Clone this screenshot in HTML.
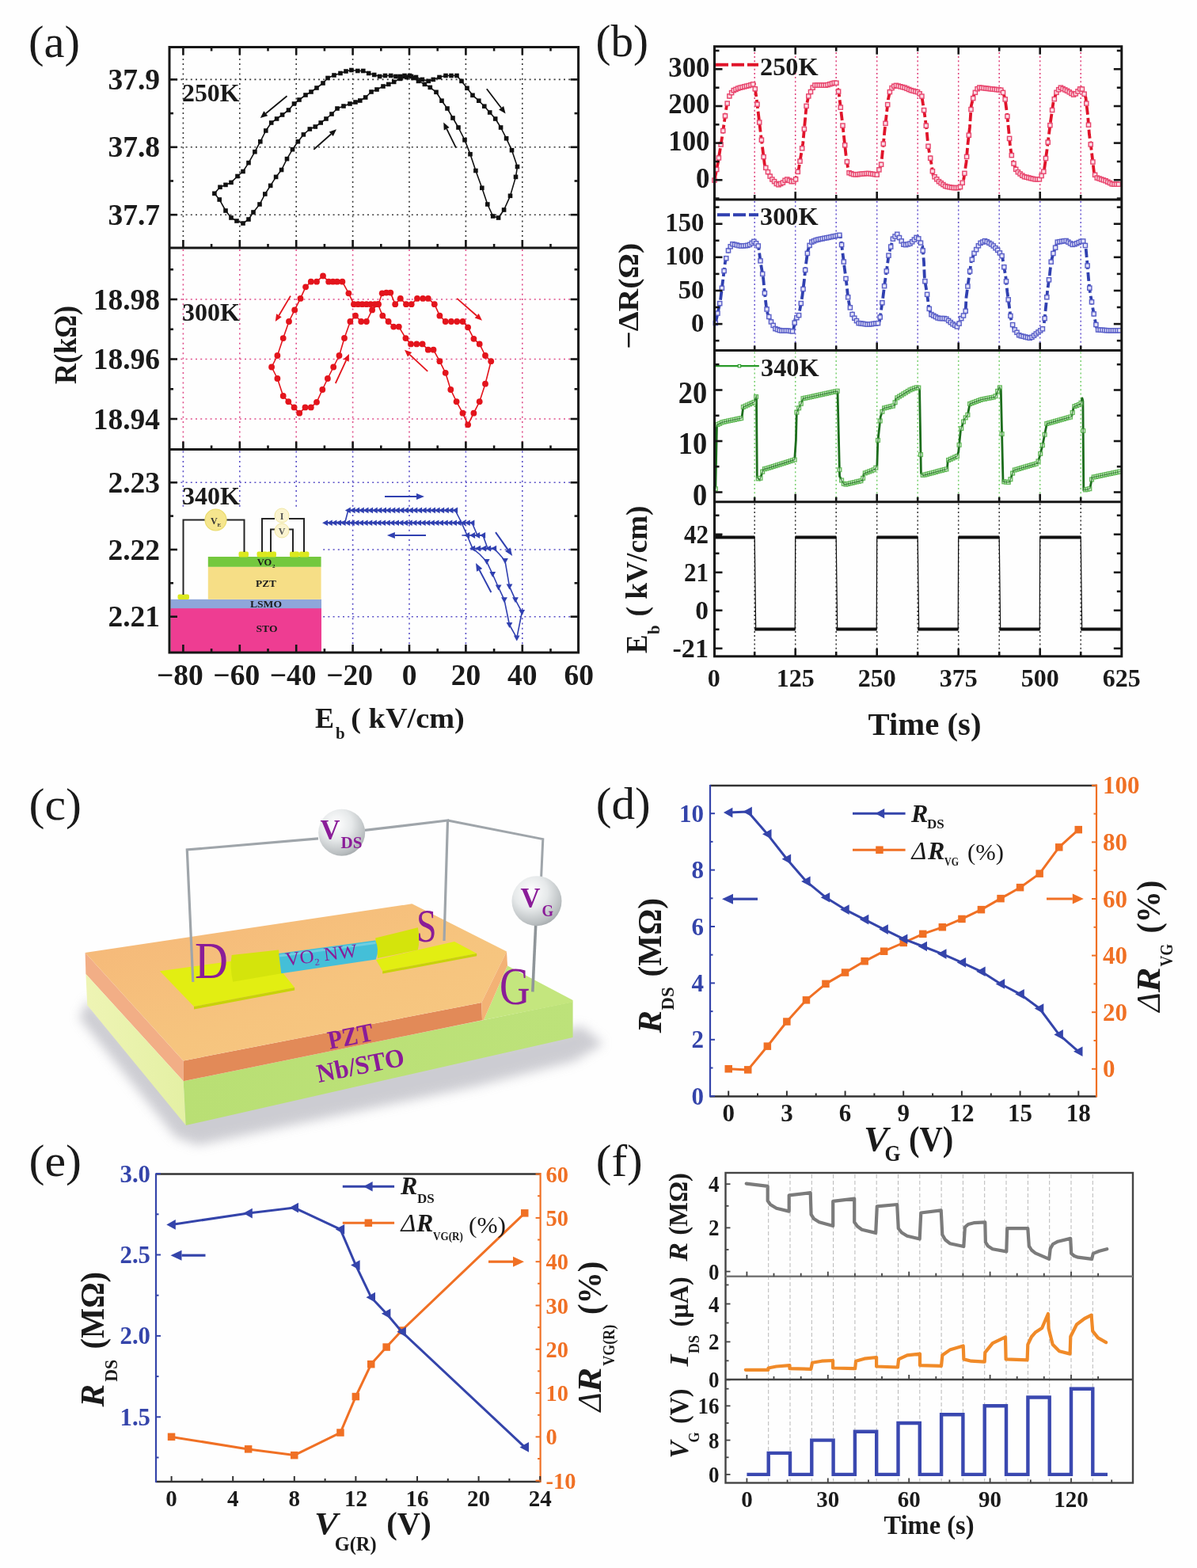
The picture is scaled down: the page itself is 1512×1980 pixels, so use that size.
<!DOCTYPE html>
<html><head><meta charset="utf-8"><title>Figure</title>
<style>html,body{margin:0;padding:0;background:#fff;} svg{display:block;} text{font-family:'Liberation Serif', 'Times New Roman', serif;}</style>
</head><body>
<svg xmlns="http://www.w3.org/2000/svg" width="1512" height="1980" viewBox="0 0 1512 1980">
<rect width="1512" height="1980" fill="#fefefe"/>
<line x1="231.4" y1="61.5" x2="231.4" y2="311" stroke="#3a3a3a" stroke-width="1.6" stroke-linecap="butt" stroke-dasharray="2 4.2" />
<line x1="302.8" y1="61.5" x2="302.8" y2="311" stroke="#3a3a3a" stroke-width="1.6" stroke-linecap="butt" stroke-dasharray="2 4.2" />
<line x1="374.2" y1="61.5" x2="374.2" y2="311" stroke="#3a3a3a" stroke-width="1.6" stroke-linecap="butt" stroke-dasharray="2 4.2" />
<line x1="445.6" y1="61.5" x2="445.6" y2="311" stroke="#3a3a3a" stroke-width="1.6" stroke-linecap="butt" stroke-dasharray="2 4.2" />
<line x1="517" y1="61.5" x2="517" y2="311" stroke="#3a3a3a" stroke-width="1.6" stroke-linecap="butt" stroke-dasharray="2 4.2" />
<line x1="588.4" y1="61.5" x2="588.4" y2="311" stroke="#3a3a3a" stroke-width="1.6" stroke-linecap="butt" stroke-dasharray="2 4.2" />
<line x1="659.8" y1="61.5" x2="659.8" y2="311" stroke="#3a3a3a" stroke-width="1.6" stroke-linecap="butt" stroke-dasharray="2 4.2" />
<line x1="216" y1="100.4" x2="728.6" y2="100.4" stroke="#3a3a3a" stroke-width="1.6" stroke-linecap="butt" stroke-dasharray="2 4.2" />
<line x1="216" y1="185.8" x2="728.6" y2="185.8" stroke="#3a3a3a" stroke-width="1.6" stroke-linecap="butt" stroke-dasharray="2 4.2" />
<line x1="216" y1="271.2" x2="728.6" y2="271.2" stroke="#3a3a3a" stroke-width="1.6" stroke-linecap="butt" stroke-dasharray="2 4.2" />
<line x1="231.4" y1="315" x2="231.4" y2="565.5" stroke="#e0508c" stroke-width="1.6" stroke-linecap="butt" stroke-dasharray="2 4.2" />
<line x1="302.8" y1="315" x2="302.8" y2="565.5" stroke="#e0508c" stroke-width="1.6" stroke-linecap="butt" stroke-dasharray="2 4.2" />
<line x1="374.2" y1="315" x2="374.2" y2="565.5" stroke="#e0508c" stroke-width="1.6" stroke-linecap="butt" stroke-dasharray="2 4.2" />
<line x1="445.6" y1="315" x2="445.6" y2="565.5" stroke="#e0508c" stroke-width="1.6" stroke-linecap="butt" stroke-dasharray="2 4.2" />
<line x1="517" y1="315" x2="517" y2="565.5" stroke="#e0508c" stroke-width="1.6" stroke-linecap="butt" stroke-dasharray="2 4.2" />
<line x1="588.4" y1="315" x2="588.4" y2="565.5" stroke="#e0508c" stroke-width="1.6" stroke-linecap="butt" stroke-dasharray="2 4.2" />
<line x1="659.8" y1="315" x2="659.8" y2="565.5" stroke="#e0508c" stroke-width="1.6" stroke-linecap="butt" stroke-dasharray="2 4.2" />
<line x1="216" y1="378" x2="728.6" y2="378" stroke="#e0508c" stroke-width="1.6" stroke-linecap="butt" stroke-dasharray="2 4.2" />
<line x1="216" y1="453.5" x2="728.6" y2="453.5" stroke="#e0508c" stroke-width="1.6" stroke-linecap="butt" stroke-dasharray="2 4.2" />
<line x1="216" y1="529" x2="728.6" y2="529" stroke="#e0508c" stroke-width="1.6" stroke-linecap="butt" stroke-dasharray="2 4.2" />
<line x1="231.4" y1="569.5" x2="231.4" y2="822" stroke="#5a50c8" stroke-width="1.6" stroke-linecap="butt" stroke-dasharray="2 4.2" />
<line x1="302.8" y1="569.5" x2="302.8" y2="822" stroke="#5a50c8" stroke-width="1.6" stroke-linecap="butt" stroke-dasharray="2 4.2" />
<line x1="374.2" y1="569.5" x2="374.2" y2="822" stroke="#5a50c8" stroke-width="1.6" stroke-linecap="butt" stroke-dasharray="2 4.2" />
<line x1="445.6" y1="569.5" x2="445.6" y2="822" stroke="#5a50c8" stroke-width="1.6" stroke-linecap="butt" stroke-dasharray="2 4.2" />
<line x1="517" y1="569.5" x2="517" y2="822" stroke="#5a50c8" stroke-width="1.6" stroke-linecap="butt" stroke-dasharray="2 4.2" />
<line x1="588.4" y1="569.5" x2="588.4" y2="822" stroke="#5a50c8" stroke-width="1.6" stroke-linecap="butt" stroke-dasharray="2 4.2" />
<line x1="659.8" y1="569.5" x2="659.8" y2="822" stroke="#5a50c8" stroke-width="1.6" stroke-linecap="butt" stroke-dasharray="2 4.2" />
<line x1="216" y1="609.3" x2="728.6" y2="609.3" stroke="#5a50c8" stroke-width="1.6" stroke-linecap="butt" stroke-dasharray="2 4.2" />
<line x1="216" y1="694" x2="728.6" y2="694" stroke="#5a50c8" stroke-width="1.6" stroke-linecap="butt" stroke-dasharray="2 4.2" />
<line x1="216" y1="778.7" x2="728.6" y2="778.7" stroke="#5a50c8" stroke-width="1.6" stroke-linecap="butt" stroke-dasharray="2 4.2" />
<rect x="215.5" y="640" width="190.5" height="183" fill="#fefefe" stroke="none" stroke-width="0" />
<rect x="215.5" y="768" width="190.5" height="55" fill="#ee3d92" stroke="none" stroke-width="0" />
<rect x="215.5" y="756.8" width="190.5" height="11.4" fill="#8ea6da" stroke="none" stroke-width="0" />
<rect x="262.8" y="715.8" width="142.8" height="41" fill="#f6de86" stroke="none" stroke-width="0" />
<rect x="262.8" y="703" width="142.8" height="12.8" fill="#74c83e" stroke="none" stroke-width="0" />
<rect x="301.5" y="696.5" width="12.5" height="7" fill="#dbe81e" stroke="none" stroke-width="0" rx="2"/>
<rect x="324.5" y="696.5" width="13.5" height="7" fill="#dbe81e" stroke="none" stroke-width="0" rx="2"/>
<rect x="337" y="696.5" width="12" height="7" fill="#dbe81e" stroke="none" stroke-width="0" rx="2"/>
<rect x="366" y="696.5" width="12" height="7" fill="#dbe81e" stroke="none" stroke-width="0" rx="2"/>
<rect x="378" y="696.5" width="12.5" height="7" fill="#dbe81e" stroke="none" stroke-width="0" rx="2"/>
<rect x="224.5" y="750.5" width="14.5" height="6.5" fill="#dbe81e" stroke="none" stroke-width="0" rx="2"/>
<polyline points="231.5,751 231.5,656.5 259,656.5" fill="none" stroke="#262626" stroke-width="2" stroke-linejoin="miter" stroke-linecap="butt" />
<polyline points="286,656.5 308.5,656.5 308.5,697" fill="none" stroke="#262626" stroke-width="2" stroke-linejoin="miter" stroke-linecap="butt" />
<polyline points="331,697 331,655 347,655" fill="none" stroke="#262626" stroke-width="2" stroke-linejoin="miter" stroke-linecap="butt" />
<polyline points="365,655 384,655 384,697" fill="none" stroke="#262626" stroke-width="2" stroke-linejoin="miter" stroke-linecap="butt" />
<polyline points="342,697 342,668.5 348,668.5" fill="none" stroke="#262626" stroke-width="2" stroke-linejoin="miter" stroke-linecap="butt" />
<polyline points="364,668.5 370,668.5 370,697" fill="none" stroke="#262626" stroke-width="2" stroke-linejoin="miter" stroke-linecap="butt" />
<circle cx="272.5" cy="656.5" r="13.5" fill="#f6e68e" stroke="#eadc70" stroke-width="1.2" />
<text x="266" y="662" font-size="12" font-weight="bold" font-style="normal" fill="#333" text-anchor="start" >V</text>
<text x="274.5" y="665" font-size="7" font-weight="bold" font-style="normal" fill="#333" text-anchor="start" >E</text>
<circle cx="356" cy="651" r="9" fill="#fbf4d0" stroke="#f0e6a0" stroke-width="1" />
<text x="356" y="656" font-size="12" font-weight="bold" font-style="normal" fill="#555" text-anchor="middle" >I</text>
<circle cx="356" cy="670" r="9" fill="#fbf4d0" stroke="#f0e6a0" stroke-width="1" />
<text x="356" y="675" font-size="12" font-weight="bold" font-style="normal" fill="#555" text-anchor="middle" >V</text>
<text x="334" y="714" font-size="12.5" font-weight="bold" font-style="normal" fill="#1a1a1a" text-anchor="middle" >VO</text>
<text x="344" y="716.5" font-size="7" font-weight="bold" font-style="normal" fill="#1a1a1a" text-anchor="start" >2</text>
<text x="336" y="741" font-size="12.5" font-weight="bold" font-style="normal" fill="#1a1a1a" text-anchor="middle" textLength="26" lengthAdjust="spacingAndGlyphs" >PZT</text>
<text x="336" y="767" font-size="12.5" font-weight="bold" font-style="normal" fill="#1a1a1a" text-anchor="middle" textLength="40" lengthAdjust="spacingAndGlyphs" >LSMO</text>
<text x="337" y="798" font-size="12.5" font-weight="bold" font-style="normal" fill="#1a1a1a" text-anchor="middle" textLength="27" lengthAdjust="spacingAndGlyphs" >STO</text>
<rect x="214" y="59.5" width="516.6" height="764.5" fill="none" stroke="#161616" stroke-width="3" />
<line x1="214" y1="313" x2="730.6" y2="313" stroke="#161616" stroke-width="3" stroke-linecap="butt" />
<line x1="214" y1="567.5" x2="730.6" y2="567.5" stroke="#161616" stroke-width="3" stroke-linecap="butt" />
<line x1="231.4" y1="59.5" x2="231.4" y2="69.5" stroke="#161616" stroke-width="2.6" stroke-linecap="butt" />
<line x1="231.4" y1="313" x2="231.4" y2="303" stroke="#161616" stroke-width="2.6" stroke-linecap="butt" />
<line x1="267.1" y1="59.5" x2="267.1" y2="64.5" stroke="#161616" stroke-width="2.6" stroke-linecap="butt" />
<line x1="267.1" y1="313" x2="267.1" y2="308" stroke="#161616" stroke-width="2.6" stroke-linecap="butt" />
<line x1="302.8" y1="59.5" x2="302.8" y2="69.5" stroke="#161616" stroke-width="2.6" stroke-linecap="butt" />
<line x1="302.8" y1="313" x2="302.8" y2="303" stroke="#161616" stroke-width="2.6" stroke-linecap="butt" />
<line x1="338.5" y1="59.5" x2="338.5" y2="64.5" stroke="#161616" stroke-width="2.6" stroke-linecap="butt" />
<line x1="338.5" y1="313" x2="338.5" y2="308" stroke="#161616" stroke-width="2.6" stroke-linecap="butt" />
<line x1="374.2" y1="59.5" x2="374.2" y2="69.5" stroke="#161616" stroke-width="2.6" stroke-linecap="butt" />
<line x1="374.2" y1="313" x2="374.2" y2="303" stroke="#161616" stroke-width="2.6" stroke-linecap="butt" />
<line x1="409.9" y1="59.5" x2="409.9" y2="64.5" stroke="#161616" stroke-width="2.6" stroke-linecap="butt" />
<line x1="409.9" y1="313" x2="409.9" y2="308" stroke="#161616" stroke-width="2.6" stroke-linecap="butt" />
<line x1="445.6" y1="59.5" x2="445.6" y2="69.5" stroke="#161616" stroke-width="2.6" stroke-linecap="butt" />
<line x1="445.6" y1="313" x2="445.6" y2="303" stroke="#161616" stroke-width="2.6" stroke-linecap="butt" />
<line x1="481.3" y1="59.5" x2="481.3" y2="64.5" stroke="#161616" stroke-width="2.6" stroke-linecap="butt" />
<line x1="481.3" y1="313" x2="481.3" y2="308" stroke="#161616" stroke-width="2.6" stroke-linecap="butt" />
<line x1="517" y1="59.5" x2="517" y2="69.5" stroke="#161616" stroke-width="2.6" stroke-linecap="butt" />
<line x1="517" y1="313" x2="517" y2="303" stroke="#161616" stroke-width="2.6" stroke-linecap="butt" />
<line x1="552.7" y1="59.5" x2="552.7" y2="64.5" stroke="#161616" stroke-width="2.6" stroke-linecap="butt" />
<line x1="552.7" y1="313" x2="552.7" y2="308" stroke="#161616" stroke-width="2.6" stroke-linecap="butt" />
<line x1="588.4" y1="59.5" x2="588.4" y2="69.5" stroke="#161616" stroke-width="2.6" stroke-linecap="butt" />
<line x1="588.4" y1="313" x2="588.4" y2="303" stroke="#161616" stroke-width="2.6" stroke-linecap="butt" />
<line x1="624.1" y1="59.5" x2="624.1" y2="64.5" stroke="#161616" stroke-width="2.6" stroke-linecap="butt" />
<line x1="624.1" y1="313" x2="624.1" y2="308" stroke="#161616" stroke-width="2.6" stroke-linecap="butt" />
<line x1="659.8" y1="59.5" x2="659.8" y2="69.5" stroke="#161616" stroke-width="2.6" stroke-linecap="butt" />
<line x1="659.8" y1="313" x2="659.8" y2="303" stroke="#161616" stroke-width="2.6" stroke-linecap="butt" />
<line x1="695.5" y1="59.5" x2="695.5" y2="64.5" stroke="#161616" stroke-width="2.6" stroke-linecap="butt" />
<line x1="695.5" y1="313" x2="695.5" y2="308" stroke="#161616" stroke-width="2.6" stroke-linecap="butt" />
<line x1="231.4" y1="567.5" x2="231.4" y2="557.5" stroke="#161616" stroke-width="2.6" stroke-linecap="butt" />
<line x1="267.1" y1="567.5" x2="267.1" y2="562.5" stroke="#161616" stroke-width="2.6" stroke-linecap="butt" />
<line x1="302.8" y1="567.5" x2="302.8" y2="557.5" stroke="#161616" stroke-width="2.6" stroke-linecap="butt" />
<line x1="338.5" y1="567.5" x2="338.5" y2="562.5" stroke="#161616" stroke-width="2.6" stroke-linecap="butt" />
<line x1="374.2" y1="567.5" x2="374.2" y2="557.5" stroke="#161616" stroke-width="2.6" stroke-linecap="butt" />
<line x1="409.9" y1="567.5" x2="409.9" y2="562.5" stroke="#161616" stroke-width="2.6" stroke-linecap="butt" />
<line x1="445.6" y1="567.5" x2="445.6" y2="557.5" stroke="#161616" stroke-width="2.6" stroke-linecap="butt" />
<line x1="481.3" y1="567.5" x2="481.3" y2="562.5" stroke="#161616" stroke-width="2.6" stroke-linecap="butt" />
<line x1="517" y1="567.5" x2="517" y2="557.5" stroke="#161616" stroke-width="2.6" stroke-linecap="butt" />
<line x1="552.7" y1="567.5" x2="552.7" y2="562.5" stroke="#161616" stroke-width="2.6" stroke-linecap="butt" />
<line x1="588.4" y1="567.5" x2="588.4" y2="557.5" stroke="#161616" stroke-width="2.6" stroke-linecap="butt" />
<line x1="624.1" y1="567.5" x2="624.1" y2="562.5" stroke="#161616" stroke-width="2.6" stroke-linecap="butt" />
<line x1="659.8" y1="567.5" x2="659.8" y2="557.5" stroke="#161616" stroke-width="2.6" stroke-linecap="butt" />
<line x1="695.5" y1="567.5" x2="695.5" y2="562.5" stroke="#161616" stroke-width="2.6" stroke-linecap="butt" />
<line x1="231.4" y1="824" x2="231.4" y2="814" stroke="#161616" stroke-width="2.6" stroke-linecap="butt" />
<line x1="267.1" y1="824" x2="267.1" y2="819" stroke="#161616" stroke-width="2.6" stroke-linecap="butt" />
<line x1="302.8" y1="824" x2="302.8" y2="814" stroke="#161616" stroke-width="2.6" stroke-linecap="butt" />
<line x1="338.5" y1="824" x2="338.5" y2="819" stroke="#161616" stroke-width="2.6" stroke-linecap="butt" />
<line x1="374.2" y1="824" x2="374.2" y2="814" stroke="#161616" stroke-width="2.6" stroke-linecap="butt" />
<line x1="409.9" y1="824" x2="409.9" y2="819" stroke="#161616" stroke-width="2.6" stroke-linecap="butt" />
<line x1="445.6" y1="824" x2="445.6" y2="814" stroke="#161616" stroke-width="2.6" stroke-linecap="butt" />
<line x1="481.3" y1="824" x2="481.3" y2="819" stroke="#161616" stroke-width="2.6" stroke-linecap="butt" />
<line x1="517" y1="824" x2="517" y2="814" stroke="#161616" stroke-width="2.6" stroke-linecap="butt" />
<line x1="552.7" y1="824" x2="552.7" y2="819" stroke="#161616" stroke-width="2.6" stroke-linecap="butt" />
<line x1="588.4" y1="824" x2="588.4" y2="814" stroke="#161616" stroke-width="2.6" stroke-linecap="butt" />
<line x1="624.1" y1="824" x2="624.1" y2="819" stroke="#161616" stroke-width="2.6" stroke-linecap="butt" />
<line x1="659.8" y1="824" x2="659.8" y2="814" stroke="#161616" stroke-width="2.6" stroke-linecap="butt" />
<line x1="695.5" y1="824" x2="695.5" y2="819" stroke="#161616" stroke-width="2.6" stroke-linecap="butt" />
<line x1="214" y1="100.4" x2="224" y2="100.4" stroke="#161616" stroke-width="2.6" stroke-linecap="butt" />
<line x1="730.6" y1="100.4" x2="720.6" y2="100.4" stroke="#161616" stroke-width="2.6" stroke-linecap="butt" />
<line x1="214" y1="185.8" x2="224" y2="185.8" stroke="#161616" stroke-width="2.6" stroke-linecap="butt" />
<line x1="730.6" y1="185.8" x2="720.6" y2="185.8" stroke="#161616" stroke-width="2.6" stroke-linecap="butt" />
<line x1="214" y1="271.2" x2="224" y2="271.2" stroke="#161616" stroke-width="2.6" stroke-linecap="butt" />
<line x1="730.6" y1="271.2" x2="720.6" y2="271.2" stroke="#161616" stroke-width="2.6" stroke-linecap="butt" />
<line x1="214" y1="143.1" x2="219" y2="143.1" stroke="#161616" stroke-width="2.6" stroke-linecap="butt" />
<line x1="730.6" y1="143.1" x2="725.6" y2="143.1" stroke="#161616" stroke-width="2.6" stroke-linecap="butt" />
<line x1="214" y1="228.5" x2="219" y2="228.5" stroke="#161616" stroke-width="2.6" stroke-linecap="butt" />
<line x1="730.6" y1="228.5" x2="725.6" y2="228.5" stroke="#161616" stroke-width="2.6" stroke-linecap="butt" />
<line x1="214" y1="378" x2="224" y2="378" stroke="#161616" stroke-width="2.6" stroke-linecap="butt" />
<line x1="730.6" y1="378" x2="720.6" y2="378" stroke="#161616" stroke-width="2.6" stroke-linecap="butt" />
<line x1="214" y1="453.5" x2="224" y2="453.5" stroke="#161616" stroke-width="2.6" stroke-linecap="butt" />
<line x1="730.6" y1="453.5" x2="720.6" y2="453.5" stroke="#161616" stroke-width="2.6" stroke-linecap="butt" />
<line x1="214" y1="529" x2="224" y2="529" stroke="#161616" stroke-width="2.6" stroke-linecap="butt" />
<line x1="730.6" y1="529" x2="720.6" y2="529" stroke="#161616" stroke-width="2.6" stroke-linecap="butt" />
<line x1="214" y1="340.3" x2="219" y2="340.3" stroke="#161616" stroke-width="2.6" stroke-linecap="butt" />
<line x1="730.6" y1="340.3" x2="725.6" y2="340.3" stroke="#161616" stroke-width="2.6" stroke-linecap="butt" />
<line x1="214" y1="415.8" x2="219" y2="415.8" stroke="#161616" stroke-width="2.6" stroke-linecap="butt" />
<line x1="730.6" y1="415.8" x2="725.6" y2="415.8" stroke="#161616" stroke-width="2.6" stroke-linecap="butt" />
<line x1="214" y1="491.3" x2="219" y2="491.3" stroke="#161616" stroke-width="2.6" stroke-linecap="butt" />
<line x1="730.6" y1="491.3" x2="725.6" y2="491.3" stroke="#161616" stroke-width="2.6" stroke-linecap="butt" />
<line x1="214" y1="609.3" x2="224" y2="609.3" stroke="#161616" stroke-width="2.6" stroke-linecap="butt" />
<line x1="730.6" y1="609.3" x2="720.6" y2="609.3" stroke="#161616" stroke-width="2.6" stroke-linecap="butt" />
<line x1="214" y1="694" x2="224" y2="694" stroke="#161616" stroke-width="2.6" stroke-linecap="butt" />
<line x1="730.6" y1="694" x2="720.6" y2="694" stroke="#161616" stroke-width="2.6" stroke-linecap="butt" />
<line x1="214" y1="778.7" x2="224" y2="778.7" stroke="#161616" stroke-width="2.6" stroke-linecap="butt" />
<line x1="730.6" y1="778.7" x2="720.6" y2="778.7" stroke="#161616" stroke-width="2.6" stroke-linecap="butt" />
<line x1="214" y1="651.6" x2="219" y2="651.6" stroke="#161616" stroke-width="2.6" stroke-linecap="butt" />
<line x1="730.6" y1="651.6" x2="725.6" y2="651.6" stroke="#161616" stroke-width="2.6" stroke-linecap="butt" />
<line x1="214" y1="736.3" x2="219" y2="736.3" stroke="#161616" stroke-width="2.6" stroke-linecap="butt" />
<line x1="730.6" y1="736.3" x2="725.6" y2="736.3" stroke="#161616" stroke-width="2.6" stroke-linecap="butt" />
<text x="202" y="113" font-size="37.5" font-weight="bold" font-style="normal" fill="#1a1a1a" text-anchor="end" >37.9</text>
<text x="202" y="198.4" font-size="37.5" font-weight="bold" font-style="normal" fill="#1a1a1a" text-anchor="end" >37.8</text>
<text x="202" y="283.8" font-size="37.5" font-weight="bold" font-style="normal" fill="#1a1a1a" text-anchor="end" >37.7</text>
<text x="202" y="390.6" font-size="37.5" font-weight="bold" font-style="normal" fill="#1a1a1a" text-anchor="end" >18.98</text>
<text x="202" y="466.1" font-size="37.5" font-weight="bold" font-style="normal" fill="#1a1a1a" text-anchor="end" >18.96</text>
<text x="202" y="541.6" font-size="37.5" font-weight="bold" font-style="normal" fill="#1a1a1a" text-anchor="end" >18.94</text>
<text x="202" y="621.9" font-size="37.5" font-weight="bold" font-style="normal" fill="#1a1a1a" text-anchor="end" >2.23</text>
<text x="202" y="706.6" font-size="37.5" font-weight="bold" font-style="normal" fill="#1a1a1a" text-anchor="end" >2.22</text>
<text x="202" y="791.3" font-size="37.5" font-weight="bold" font-style="normal" fill="#1a1a1a" text-anchor="end" >2.21</text>
<text x="227.4" y="865" font-size="37.5" font-weight="bold" font-style="normal" fill="#1a1a1a" text-anchor="middle" >−80</text>
<text x="298.8" y="865" font-size="37.5" font-weight="bold" font-style="normal" fill="#1a1a1a" text-anchor="middle" >−60</text>
<text x="370.2" y="865" font-size="37.5" font-weight="bold" font-style="normal" fill="#1a1a1a" text-anchor="middle" >−40</text>
<text x="441.6" y="865" font-size="37.5" font-weight="bold" font-style="normal" fill="#1a1a1a" text-anchor="middle" >−20</text>
<text x="517" y="865" font-size="37.5" font-weight="bold" font-style="normal" fill="#1a1a1a" text-anchor="middle" >0</text>
<text x="588.4" y="865" font-size="37.5" font-weight="bold" font-style="normal" fill="#1a1a1a" text-anchor="middle" >20</text>
<text x="659.8" y="865" font-size="37.5" font-weight="bold" font-style="normal" fill="#1a1a1a" text-anchor="middle" >40</text>
<text x="731.2" y="865" font-size="37.5" font-weight="bold" font-style="normal" fill="#1a1a1a" text-anchor="middle" >60</text>
<text x="96.3" y="435.4" font-size="39.5" font-weight="bold" font-style="normal" fill="#1a1a1a" text-anchor="middle" textLength="99" lengthAdjust="spacingAndGlyphs" transform="rotate(-90 96.3 435.4)" >R(kΩ)</text>
<text x="398" y="918.5" font-size="36" font-weight="bold" font-style="normal" fill="#1a1a1a" text-anchor="start" >E</text>
<text x="424" y="933" font-size="21" font-weight="bold" font-style="normal" fill="#1a1a1a" text-anchor="start" >b</text>
<text x="443.3" y="918.5" font-size="36" font-weight="bold" font-style="normal" fill="#1a1a1a" text-anchor="start" textLength="143.5" lengthAdjust="spacingAndGlyphs" >( kV/cm)</text>
<text x="36" y="71.5" font-size="56" font-weight="normal" font-style="normal" fill="#1a1a1a" text-anchor="start" textLength="65" lengthAdjust="spacingAndGlyphs" >(a)</text>
<text x="230" y="128" font-size="32" font-weight="bold" font-style="normal" fill="#1a1a1a" text-anchor="start" textLength="72.5" lengthAdjust="spacingAndGlyphs" >250K</text>
<text x="230" y="405" font-size="32" font-weight="bold" font-style="normal" fill="#1a1a1a" text-anchor="start" textLength="73" lengthAdjust="spacingAndGlyphs" >300K</text>
<text x="230" y="637" font-size="32" font-weight="bold" font-style="normal" fill="#1a1a1a" text-anchor="start" textLength="73" lengthAdjust="spacingAndGlyphs" >340K</text>
<polyline points="270.9,244.3 278,236.3 285,233.4 292,230.4 300,222.5 307,216.5 314,205.6 321.9,191.7 328.8,178.8 335.8,165 342.7,155 349.6,150 356.6,145 364.5,139 371.5,131 378,126 386,120 393,116 400,111 408,105 414,98.5 422,95 430,92.5 437,90 443.9,88.5 451.8,89.5 458.8,89.5 465.7,92.5 472.7,94.5 479.6,96.5 486.5,95.5 493.7,95.5 500,96.5 505.6,96.5 511,95.5 517.5,95.5 522,98.5 528.5,102.4 536.4,106.4 543.3,110.4 551,116.3 558,127.2 565,137 572,149 579,161 587,176.8 594,194.7 600.9,215.5 608.8,237.3 615.8,258 622.7,273 629.6,275 636.6,265 644.5,247.3 651.5,223.4 653.5,210.5 646.5,189.7 639.6,174.8 632.6,161 625.7,150 618.7,142 611.8,134.2 604.8,127.2 597,120.3 590,111.3 583,102.4 577,95.5 570,95.5 563,95.5 555,97.5 547.3,100.4 541.3,102.4 533.4,100.4 525.5,97.5 519.5,96.5 513.6,97.5 505.6,99.4 497.7,103.4 490.8,106.4 484,109 476,113 469,116 461.7,123 454.8,127 449,129 442,131 434,134 426,137 419,144 412,150 405.2,155 398.3,160 391.3,163 383.4,169.9 376.4,178.8 369.5,188.7 362.5,200.6 355.6,214.5 348.6,223.4 341.7,234.4 334.8,245 328,258 320,268 314,277 307,282 299,279 292,275 285,266 277.2,252 270.9,244.3" fill="none" stroke="#111" stroke-width="1.6" stroke-linejoin="round" stroke-linecap="round" />
<rect x="268.1" y="241.5" width="5.6" height="5.6" fill="#111" stroke="none" stroke-width="0" />
<rect x="275.2" y="233.5" width="5.6" height="5.6" fill="#111" stroke="none" stroke-width="0" />
<rect x="282.2" y="230.6" width="5.6" height="5.6" fill="#111" stroke="none" stroke-width="0" />
<rect x="289.2" y="227.6" width="5.6" height="5.6" fill="#111" stroke="none" stroke-width="0" />
<rect x="297.2" y="219.7" width="5.6" height="5.6" fill="#111" stroke="none" stroke-width="0" />
<rect x="304.2" y="213.7" width="5.6" height="5.6" fill="#111" stroke="none" stroke-width="0" />
<rect x="311.2" y="202.8" width="5.6" height="5.6" fill="#111" stroke="none" stroke-width="0" />
<rect x="319.1" y="188.9" width="5.6" height="5.6" fill="#111" stroke="none" stroke-width="0" />
<rect x="326" y="176" width="5.6" height="5.6" fill="#111" stroke="none" stroke-width="0" />
<rect x="333" y="162.2" width="5.6" height="5.6" fill="#111" stroke="none" stroke-width="0" />
<rect x="339.9" y="152.2" width="5.6" height="5.6" fill="#111" stroke="none" stroke-width="0" />
<rect x="346.8" y="147.2" width="5.6" height="5.6" fill="#111" stroke="none" stroke-width="0" />
<rect x="353.8" y="142.2" width="5.6" height="5.6" fill="#111" stroke="none" stroke-width="0" />
<rect x="361.7" y="136.2" width="5.6" height="5.6" fill="#111" stroke="none" stroke-width="0" />
<rect x="368.7" y="128.2" width="5.6" height="5.6" fill="#111" stroke="none" stroke-width="0" />
<rect x="375.2" y="123.2" width="5.6" height="5.6" fill="#111" stroke="none" stroke-width="0" />
<rect x="383.2" y="117.2" width="5.6" height="5.6" fill="#111" stroke="none" stroke-width="0" />
<rect x="390.2" y="113.2" width="5.6" height="5.6" fill="#111" stroke="none" stroke-width="0" />
<rect x="397.2" y="108.2" width="5.6" height="5.6" fill="#111" stroke="none" stroke-width="0" />
<rect x="405.2" y="102.2" width="5.6" height="5.6" fill="#111" stroke="none" stroke-width="0" />
<rect x="411.2" y="95.7" width="5.6" height="5.6" fill="#111" stroke="none" stroke-width="0" />
<rect x="419.2" y="92.2" width="5.6" height="5.6" fill="#111" stroke="none" stroke-width="0" />
<rect x="427.2" y="89.7" width="5.6" height="5.6" fill="#111" stroke="none" stroke-width="0" />
<rect x="434.2" y="87.2" width="5.6" height="5.6" fill="#111" stroke="none" stroke-width="0" />
<rect x="441.1" y="85.7" width="5.6" height="5.6" fill="#111" stroke="none" stroke-width="0" />
<rect x="449" y="86.7" width="5.6" height="5.6" fill="#111" stroke="none" stroke-width="0" />
<rect x="456" y="86.7" width="5.6" height="5.6" fill="#111" stroke="none" stroke-width="0" />
<rect x="462.9" y="89.7" width="5.6" height="5.6" fill="#111" stroke="none" stroke-width="0" />
<rect x="469.9" y="91.7" width="5.6" height="5.6" fill="#111" stroke="none" stroke-width="0" />
<rect x="476.8" y="93.7" width="5.6" height="5.6" fill="#111" stroke="none" stroke-width="0" />
<rect x="483.7" y="92.7" width="5.6" height="5.6" fill="#111" stroke="none" stroke-width="0" />
<rect x="490.9" y="92.7" width="5.6" height="5.6" fill="#111" stroke="none" stroke-width="0" />
<rect x="497.2" y="93.7" width="5.6" height="5.6" fill="#111" stroke="none" stroke-width="0" />
<rect x="502.8" y="93.7" width="5.6" height="5.6" fill="#111" stroke="none" stroke-width="0" />
<rect x="508.2" y="92.7" width="5.6" height="5.6" fill="#111" stroke="none" stroke-width="0" />
<rect x="514.7" y="92.7" width="5.6" height="5.6" fill="#111" stroke="none" stroke-width="0" />
<rect x="519.2" y="95.7" width="5.6" height="5.6" fill="#111" stroke="none" stroke-width="0" />
<rect x="525.7" y="99.6" width="5.6" height="5.6" fill="#111" stroke="none" stroke-width="0" />
<rect x="533.6" y="103.6" width="5.6" height="5.6" fill="#111" stroke="none" stroke-width="0" />
<rect x="540.5" y="107.6" width="5.6" height="5.6" fill="#111" stroke="none" stroke-width="0" />
<rect x="548.2" y="113.5" width="5.6" height="5.6" fill="#111" stroke="none" stroke-width="0" />
<rect x="555.2" y="124.4" width="5.6" height="5.6" fill="#111" stroke="none" stroke-width="0" />
<rect x="562.2" y="134.2" width="5.6" height="5.6" fill="#111" stroke="none" stroke-width="0" />
<rect x="569.2" y="146.2" width="5.6" height="5.6" fill="#111" stroke="none" stroke-width="0" />
<rect x="576.2" y="158.2" width="5.6" height="5.6" fill="#111" stroke="none" stroke-width="0" />
<rect x="584.2" y="174" width="5.6" height="5.6" fill="#111" stroke="none" stroke-width="0" />
<rect x="591.2" y="191.9" width="5.6" height="5.6" fill="#111" stroke="none" stroke-width="0" />
<rect x="598.1" y="212.7" width="5.6" height="5.6" fill="#111" stroke="none" stroke-width="0" />
<rect x="606" y="234.5" width="5.6" height="5.6" fill="#111" stroke="none" stroke-width="0" />
<rect x="613" y="255.2" width="5.6" height="5.6" fill="#111" stroke="none" stroke-width="0" />
<rect x="619.9" y="270.2" width="5.6" height="5.6" fill="#111" stroke="none" stroke-width="0" />
<rect x="626.8" y="272.2" width="5.6" height="5.6" fill="#111" stroke="none" stroke-width="0" />
<rect x="633.8" y="262.2" width="5.6" height="5.6" fill="#111" stroke="none" stroke-width="0" />
<rect x="641.7" y="244.5" width="5.6" height="5.6" fill="#111" stroke="none" stroke-width="0" />
<rect x="648.7" y="220.6" width="5.6" height="5.6" fill="#111" stroke="none" stroke-width="0" />
<rect x="650.7" y="207.7" width="5.6" height="5.6" fill="#111" stroke="none" stroke-width="0" />
<rect x="643.7" y="186.9" width="5.6" height="5.6" fill="#111" stroke="none" stroke-width="0" />
<rect x="636.8" y="172" width="5.6" height="5.6" fill="#111" stroke="none" stroke-width="0" />
<rect x="629.8" y="158.2" width="5.6" height="5.6" fill="#111" stroke="none" stroke-width="0" />
<rect x="622.9" y="147.2" width="5.6" height="5.6" fill="#111" stroke="none" stroke-width="0" />
<rect x="615.9" y="139.2" width="5.6" height="5.6" fill="#111" stroke="none" stroke-width="0" />
<rect x="609" y="131.4" width="5.6" height="5.6" fill="#111" stroke="none" stroke-width="0" />
<rect x="602" y="124.4" width="5.6" height="5.6" fill="#111" stroke="none" stroke-width="0" />
<rect x="594.2" y="117.5" width="5.6" height="5.6" fill="#111" stroke="none" stroke-width="0" />
<rect x="587.2" y="108.5" width="5.6" height="5.6" fill="#111" stroke="none" stroke-width="0" />
<rect x="580.2" y="99.6" width="5.6" height="5.6" fill="#111" stroke="none" stroke-width="0" />
<rect x="574.2" y="92.7" width="5.6" height="5.6" fill="#111" stroke="none" stroke-width="0" />
<rect x="567.2" y="92.7" width="5.6" height="5.6" fill="#111" stroke="none" stroke-width="0" />
<rect x="560.2" y="92.7" width="5.6" height="5.6" fill="#111" stroke="none" stroke-width="0" />
<rect x="552.2" y="94.7" width="5.6" height="5.6" fill="#111" stroke="none" stroke-width="0" />
<rect x="544.5" y="97.6" width="5.6" height="5.6" fill="#111" stroke="none" stroke-width="0" />
<rect x="538.5" y="99.6" width="5.6" height="5.6" fill="#111" stroke="none" stroke-width="0" />
<rect x="530.6" y="97.6" width="5.6" height="5.6" fill="#111" stroke="none" stroke-width="0" />
<rect x="522.7" y="94.7" width="5.6" height="5.6" fill="#111" stroke="none" stroke-width="0" />
<rect x="516.7" y="93.7" width="5.6" height="5.6" fill="#111" stroke="none" stroke-width="0" />
<rect x="510.8" y="94.7" width="5.6" height="5.6" fill="#111" stroke="none" stroke-width="0" />
<rect x="502.8" y="96.6" width="5.6" height="5.6" fill="#111" stroke="none" stroke-width="0" />
<rect x="494.9" y="100.6" width="5.6" height="5.6" fill="#111" stroke="none" stroke-width="0" />
<rect x="488" y="103.6" width="5.6" height="5.6" fill="#111" stroke="none" stroke-width="0" />
<rect x="481.2" y="106.2" width="5.6" height="5.6" fill="#111" stroke="none" stroke-width="0" />
<rect x="473.2" y="110.2" width="5.6" height="5.6" fill="#111" stroke="none" stroke-width="0" />
<rect x="466.2" y="113.2" width="5.6" height="5.6" fill="#111" stroke="none" stroke-width="0" />
<rect x="458.9" y="120.2" width="5.6" height="5.6" fill="#111" stroke="none" stroke-width="0" />
<rect x="452" y="124.2" width="5.6" height="5.6" fill="#111" stroke="none" stroke-width="0" />
<rect x="446.2" y="126.2" width="5.6" height="5.6" fill="#111" stroke="none" stroke-width="0" />
<rect x="439.2" y="128.2" width="5.6" height="5.6" fill="#111" stroke="none" stroke-width="0" />
<rect x="431.2" y="131.2" width="5.6" height="5.6" fill="#111" stroke="none" stroke-width="0" />
<rect x="423.2" y="134.2" width="5.6" height="5.6" fill="#111" stroke="none" stroke-width="0" />
<rect x="416.2" y="141.2" width="5.6" height="5.6" fill="#111" stroke="none" stroke-width="0" />
<rect x="409.2" y="147.2" width="5.6" height="5.6" fill="#111" stroke="none" stroke-width="0" />
<rect x="402.4" y="152.2" width="5.6" height="5.6" fill="#111" stroke="none" stroke-width="0" />
<rect x="395.5" y="157.2" width="5.6" height="5.6" fill="#111" stroke="none" stroke-width="0" />
<rect x="388.5" y="160.2" width="5.6" height="5.6" fill="#111" stroke="none" stroke-width="0" />
<rect x="380.6" y="167.1" width="5.6" height="5.6" fill="#111" stroke="none" stroke-width="0" />
<rect x="373.6" y="176" width="5.6" height="5.6" fill="#111" stroke="none" stroke-width="0" />
<rect x="366.7" y="185.9" width="5.6" height="5.6" fill="#111" stroke="none" stroke-width="0" />
<rect x="359.7" y="197.8" width="5.6" height="5.6" fill="#111" stroke="none" stroke-width="0" />
<rect x="352.8" y="211.7" width="5.6" height="5.6" fill="#111" stroke="none" stroke-width="0" />
<rect x="345.8" y="220.6" width="5.6" height="5.6" fill="#111" stroke="none" stroke-width="0" />
<rect x="338.9" y="231.6" width="5.6" height="5.6" fill="#111" stroke="none" stroke-width="0" />
<rect x="332" y="242.2" width="5.6" height="5.6" fill="#111" stroke="none" stroke-width="0" />
<rect x="325.2" y="255.2" width="5.6" height="5.6" fill="#111" stroke="none" stroke-width="0" />
<rect x="317.2" y="265.2" width="5.6" height="5.6" fill="#111" stroke="none" stroke-width="0" />
<rect x="311.2" y="274.2" width="5.6" height="5.6" fill="#111" stroke="none" stroke-width="0" />
<rect x="304.2" y="279.2" width="5.6" height="5.6" fill="#111" stroke="none" stroke-width="0" />
<rect x="296.2" y="276.2" width="5.6" height="5.6" fill="#111" stroke="none" stroke-width="0" />
<rect x="289.2" y="272.2" width="5.6" height="5.6" fill="#111" stroke="none" stroke-width="0" />
<rect x="282.2" y="263.2" width="5.6" height="5.6" fill="#111" stroke="none" stroke-width="0" />
<rect x="274.4" y="249.2" width="5.6" height="5.6" fill="#111" stroke="none" stroke-width="0" />
<line x1="362.5" y1="121.3" x2="335.8" y2="143.3" stroke="#111" stroke-width="1.8" stroke-linecap="butt" />
<polygon points="328.8,149 333.3,140.3 338.2,146.2" fill="#111" stroke="none" stroke-width="0" />
<line x1="396.3" y1="188.7" x2="418.3" y2="169.3" stroke="#111" stroke-width="1.8" stroke-linecap="butt" />
<polygon points="425,163.3 420.8,172.1 415.7,166.4" fill="#111" stroke="none" stroke-width="0" />
<line x1="614.8" y1="112.3" x2="633.1" y2="136.3" stroke="#111" stroke-width="1.8" stroke-linecap="butt" />
<polygon points="638.6,143.5 630.1,138.6 636.2,134" fill="#111" stroke="none" stroke-width="0" />
<line x1="576" y1="186.7" x2="564.2" y2="162.7" stroke="#111" stroke-width="1.8" stroke-linecap="butt" />
<polygon points="560.2,154.6 567.6,161 560.8,164.4" fill="#111" stroke="none" stroke-width="0" />
<polyline points="343.1,463.5 350.4,449 357.7,427.1 365,406 372.2,391.4 379.5,376.9 386.1,362.3 392.8,355.7 400,355.7 408,348.4 415.2,355.7 420.5,355.7 425.8,355.7 432.4,355.7 440.4,370.3 447,384.2 452.3,384.2 457.6,384.2 462.9,384.2 468.1,384.2 473.4,384.2 478,384.2 482.7,370.3 488,369.6 493.3,369.6 499.2,384.2 505.8,376.9 513,384.2 519.7,384.2 527,376.9 534.2,376.9 540.8,376.9 548.8,384.2 555.4,398.7 562.7,406 570,406 577.2,406 584.5,406 591.1,413.3 598.4,427.8 605.7,434.4 613,449 620.2,456.2 613,484.7 605.7,507.2 598.4,521.7 591.1,536.3 584.5,521.7 576.6,507.2 569.3,492 562.7,470.8 555.4,456.2 547.5,441.7 540.8,441.7 533.6,434.4 526.3,434.4 519,434.4 512.4,427.1 503.8,412.6 497.2,412.6 490.6,406 483.3,398.7 477.4,384.2 470.1,391.4 462.9,406 456.2,406 449,398.7 442.4,406 435,427 428.5,449 421.2,463.5 413.9,478 407.3,492 400,507.8 392.8,514.4 385.5,514.4 378.2,521.7 371.6,514.4 364.3,507.2 357.7,500 350.4,478 343.1,463.5" fill="none" stroke="#e3141c" stroke-width="1.6" stroke-linejoin="round" stroke-linecap="round" />
<circle cx="343.1" cy="463.5" r="3.9" fill="#e3141c" stroke="none" stroke-width="0" />
<circle cx="350.4" cy="449" r="3.9" fill="#e3141c" stroke="none" stroke-width="0" />
<circle cx="357.7" cy="427.1" r="3.9" fill="#e3141c" stroke="none" stroke-width="0" />
<circle cx="365" cy="406" r="3.9" fill="#e3141c" stroke="none" stroke-width="0" />
<circle cx="372.2" cy="391.4" r="3.9" fill="#e3141c" stroke="none" stroke-width="0" />
<circle cx="379.5" cy="376.9" r="3.9" fill="#e3141c" stroke="none" stroke-width="0" />
<circle cx="386.1" cy="362.3" r="3.9" fill="#e3141c" stroke="none" stroke-width="0" />
<circle cx="392.8" cy="355.7" r="3.9" fill="#e3141c" stroke="none" stroke-width="0" />
<circle cx="400" cy="355.7" r="3.9" fill="#e3141c" stroke="none" stroke-width="0" />
<circle cx="408" cy="348.4" r="3.9" fill="#e3141c" stroke="none" stroke-width="0" />
<circle cx="415.2" cy="355.7" r="3.9" fill="#e3141c" stroke="none" stroke-width="0" />
<circle cx="420.5" cy="355.7" r="3.9" fill="#e3141c" stroke="none" stroke-width="0" />
<circle cx="425.8" cy="355.7" r="3.9" fill="#e3141c" stroke="none" stroke-width="0" />
<circle cx="432.4" cy="355.7" r="3.9" fill="#e3141c" stroke="none" stroke-width="0" />
<circle cx="440.4" cy="370.3" r="3.9" fill="#e3141c" stroke="none" stroke-width="0" />
<circle cx="447" cy="384.2" r="3.9" fill="#e3141c" stroke="none" stroke-width="0" />
<circle cx="452.3" cy="384.2" r="3.9" fill="#e3141c" stroke="none" stroke-width="0" />
<circle cx="457.6" cy="384.2" r="3.9" fill="#e3141c" stroke="none" stroke-width="0" />
<circle cx="462.9" cy="384.2" r="3.9" fill="#e3141c" stroke="none" stroke-width="0" />
<circle cx="468.1" cy="384.2" r="3.9" fill="#e3141c" stroke="none" stroke-width="0" />
<circle cx="473.4" cy="384.2" r="3.9" fill="#e3141c" stroke="none" stroke-width="0" />
<circle cx="478" cy="384.2" r="3.9" fill="#e3141c" stroke="none" stroke-width="0" />
<circle cx="482.7" cy="370.3" r="3.9" fill="#e3141c" stroke="none" stroke-width="0" />
<circle cx="488" cy="369.6" r="3.9" fill="#e3141c" stroke="none" stroke-width="0" />
<circle cx="493.3" cy="369.6" r="3.9" fill="#e3141c" stroke="none" stroke-width="0" />
<circle cx="499.2" cy="384.2" r="3.9" fill="#e3141c" stroke="none" stroke-width="0" />
<circle cx="505.8" cy="376.9" r="3.9" fill="#e3141c" stroke="none" stroke-width="0" />
<circle cx="513" cy="384.2" r="3.9" fill="#e3141c" stroke="none" stroke-width="0" />
<circle cx="519.7" cy="384.2" r="3.9" fill="#e3141c" stroke="none" stroke-width="0" />
<circle cx="527" cy="376.9" r="3.9" fill="#e3141c" stroke="none" stroke-width="0" />
<circle cx="534.2" cy="376.9" r="3.9" fill="#e3141c" stroke="none" stroke-width="0" />
<circle cx="540.8" cy="376.9" r="3.9" fill="#e3141c" stroke="none" stroke-width="0" />
<circle cx="548.8" cy="384.2" r="3.9" fill="#e3141c" stroke="none" stroke-width="0" />
<circle cx="555.4" cy="398.7" r="3.9" fill="#e3141c" stroke="none" stroke-width="0" />
<circle cx="562.7" cy="406" r="3.9" fill="#e3141c" stroke="none" stroke-width="0" />
<circle cx="570" cy="406" r="3.9" fill="#e3141c" stroke="none" stroke-width="0" />
<circle cx="577.2" cy="406" r="3.9" fill="#e3141c" stroke="none" stroke-width="0" />
<circle cx="584.5" cy="406" r="3.9" fill="#e3141c" stroke="none" stroke-width="0" />
<circle cx="591.1" cy="413.3" r="3.9" fill="#e3141c" stroke="none" stroke-width="0" />
<circle cx="598.4" cy="427.8" r="3.9" fill="#e3141c" stroke="none" stroke-width="0" />
<circle cx="605.7" cy="434.4" r="3.9" fill="#e3141c" stroke="none" stroke-width="0" />
<circle cx="613" cy="449" r="3.9" fill="#e3141c" stroke="none" stroke-width="0" />
<circle cx="620.2" cy="456.2" r="3.9" fill="#e3141c" stroke="none" stroke-width="0" />
<circle cx="613" cy="484.7" r="3.9" fill="#e3141c" stroke="none" stroke-width="0" />
<circle cx="605.7" cy="507.2" r="3.9" fill="#e3141c" stroke="none" stroke-width="0" />
<circle cx="598.4" cy="521.7" r="3.9" fill="#e3141c" stroke="none" stroke-width="0" />
<circle cx="591.1" cy="536.3" r="3.9" fill="#e3141c" stroke="none" stroke-width="0" />
<circle cx="584.5" cy="521.7" r="3.9" fill="#e3141c" stroke="none" stroke-width="0" />
<circle cx="576.6" cy="507.2" r="3.9" fill="#e3141c" stroke="none" stroke-width="0" />
<circle cx="569.3" cy="492" r="3.9" fill="#e3141c" stroke="none" stroke-width="0" />
<circle cx="562.7" cy="470.8" r="3.9" fill="#e3141c" stroke="none" stroke-width="0" />
<circle cx="555.4" cy="456.2" r="3.9" fill="#e3141c" stroke="none" stroke-width="0" />
<circle cx="547.5" cy="441.7" r="3.9" fill="#e3141c" stroke="none" stroke-width="0" />
<circle cx="540.8" cy="441.7" r="3.9" fill="#e3141c" stroke="none" stroke-width="0" />
<circle cx="533.6" cy="434.4" r="3.9" fill="#e3141c" stroke="none" stroke-width="0" />
<circle cx="526.3" cy="434.4" r="3.9" fill="#e3141c" stroke="none" stroke-width="0" />
<circle cx="519" cy="434.4" r="3.9" fill="#e3141c" stroke="none" stroke-width="0" />
<circle cx="512.4" cy="427.1" r="3.9" fill="#e3141c" stroke="none" stroke-width="0" />
<circle cx="503.8" cy="412.6" r="3.9" fill="#e3141c" stroke="none" stroke-width="0" />
<circle cx="497.2" cy="412.6" r="3.9" fill="#e3141c" stroke="none" stroke-width="0" />
<circle cx="490.6" cy="406" r="3.9" fill="#e3141c" stroke="none" stroke-width="0" />
<circle cx="483.3" cy="398.7" r="3.9" fill="#e3141c" stroke="none" stroke-width="0" />
<circle cx="477.4" cy="384.2" r="3.9" fill="#e3141c" stroke="none" stroke-width="0" />
<circle cx="470.1" cy="391.4" r="3.9" fill="#e3141c" stroke="none" stroke-width="0" />
<circle cx="462.9" cy="406" r="3.9" fill="#e3141c" stroke="none" stroke-width="0" />
<circle cx="456.2" cy="406" r="3.9" fill="#e3141c" stroke="none" stroke-width="0" />
<circle cx="449" cy="398.7" r="3.9" fill="#e3141c" stroke="none" stroke-width="0" />
<circle cx="442.4" cy="406" r="3.9" fill="#e3141c" stroke="none" stroke-width="0" />
<circle cx="435" cy="427" r="3.9" fill="#e3141c" stroke="none" stroke-width="0" />
<circle cx="428.5" cy="449" r="3.9" fill="#e3141c" stroke="none" stroke-width="0" />
<circle cx="421.2" cy="463.5" r="3.9" fill="#e3141c" stroke="none" stroke-width="0" />
<circle cx="413.9" cy="478" r="3.9" fill="#e3141c" stroke="none" stroke-width="0" />
<circle cx="407.3" cy="492" r="3.9" fill="#e3141c" stroke="none" stroke-width="0" />
<circle cx="400" cy="507.8" r="3.9" fill="#e3141c" stroke="none" stroke-width="0" />
<circle cx="392.8" cy="514.4" r="3.9" fill="#e3141c" stroke="none" stroke-width="0" />
<circle cx="385.5" cy="514.4" r="3.9" fill="#e3141c" stroke="none" stroke-width="0" />
<circle cx="378.2" cy="521.7" r="3.9" fill="#e3141c" stroke="none" stroke-width="0" />
<circle cx="371.6" cy="514.4" r="3.9" fill="#e3141c" stroke="none" stroke-width="0" />
<circle cx="364.3" cy="507.2" r="3.9" fill="#e3141c" stroke="none" stroke-width="0" />
<circle cx="357.7" cy="500" r="3.9" fill="#e3141c" stroke="none" stroke-width="0" />
<circle cx="350.4" cy="478" r="3.9" fill="#e3141c" stroke="none" stroke-width="0" />
<line x1="367" y1="373.6" x2="352.4" y2="398.3" stroke="#e3141c" stroke-width="1.8" stroke-linecap="butt" />
<polygon points="347.8,406 349.1,396.3 355.7,400.2" fill="#e3141c" stroke="none" stroke-width="0" />
<line x1="423.8" y1="484" x2="437.2" y2="455.2" stroke="#e3141c" stroke-width="1.8" stroke-linecap="butt" />
<polygon points="441,447 440.7,456.8 433.8,453.6" fill="#e3141c" stroke="none" stroke-width="0" />
<line x1="577.2" y1="376.9" x2="602.2" y2="398.8" stroke="#e3141c" stroke-width="1.8" stroke-linecap="butt" />
<polygon points="609,404.7 599.7,401.6 604.7,395.9" fill="#e3141c" stroke="none" stroke-width="0" />
<line x1="540.2" y1="468.8" x2="517.6" y2="447.8" stroke="#e3141c" stroke-width="1.8" stroke-linecap="butt" />
<polygon points="511,441.7 520.2,445 515,450.6" fill="#e3141c" stroke="none" stroke-width="0" />
<polyline points="575,644.4 439.8,644.4 436,659 411,660.2" fill="none" stroke="#3040b0" stroke-width="1.6" stroke-linejoin="round" stroke-linecap="round" />
<polyline points="411,660.2 596.3,660.2" fill="none" stroke="#3040b0" stroke-width="1.6" stroke-linejoin="round" stroke-linecap="round" />
<polyline points="575,644.4 583,660 590,676 597,692.6 606,700 614.8,709.3 622.2,725 629.6,741.7 637,757.4 643.5,789 652.8,805.6" fill="none" stroke="#3040b0" stroke-width="1.6" stroke-linejoin="round" stroke-linecap="round" />
<polyline points="596.3,660.2 603,676 610,676 616,692.6 624,692.6 631,700 638,708.3 643.5,740.7 651,757.4 659.3,773 652.8,805.6" fill="none" stroke="#3040b0" stroke-width="1.6" stroke-linejoin="round" stroke-linecap="round" />
<polyline points="584,676 610,676" fill="none" stroke="#3040b0" stroke-width="1.6" stroke-linejoin="round" stroke-linecap="round" />
<polyline points="597,692.6 624,692.6" fill="none" stroke="#3040b0" stroke-width="1.6" stroke-linejoin="round" stroke-linecap="round" />
<polygon points="435.9,644.4 442.9,640.5 442.9,648.2" fill="#3040b0" stroke="none" stroke-width="0" />
<polygon points="441.6,644.4 448.6,640.5 448.6,648.2" fill="#3040b0" stroke="none" stroke-width="0" />
<polygon points="447.2,644.4 454.2,640.5 454.2,648.2" fill="#3040b0" stroke="none" stroke-width="0" />
<polygon points="452.8,644.4 459.8,640.5 459.8,648.2" fill="#3040b0" stroke="none" stroke-width="0" />
<polygon points="458.5,644.4 465.5,640.5 465.5,648.2" fill="#3040b0" stroke="none" stroke-width="0" />
<polygon points="464.1,644.4 471.1,640.5 471.1,648.2" fill="#3040b0" stroke="none" stroke-width="0" />
<polygon points="469.8,644.4 476.8,640.5 476.8,648.2" fill="#3040b0" stroke="none" stroke-width="0" />
<polygon points="475.4,644.4 482.4,640.5 482.4,648.2" fill="#3040b0" stroke="none" stroke-width="0" />
<polygon points="481,644.4 488,640.5 488,648.2" fill="#3040b0" stroke="none" stroke-width="0" />
<polygon points="486.6,644.4 493.6,640.5 493.6,648.2" fill="#3040b0" stroke="none" stroke-width="0" />
<polygon points="492.3,644.4 499.3,640.5 499.3,648.2" fill="#3040b0" stroke="none" stroke-width="0" />
<polygon points="497.9,644.4 504.9,640.5 504.9,648.2" fill="#3040b0" stroke="none" stroke-width="0" />
<polygon points="503.5,644.4 510.5,640.5 510.5,648.2" fill="#3040b0" stroke="none" stroke-width="0" />
<polygon points="509.2,644.4 516.2,640.5 516.2,648.2" fill="#3040b0" stroke="none" stroke-width="0" />
<polygon points="514.8,644.4 521.8,640.5 521.8,648.2" fill="#3040b0" stroke="none" stroke-width="0" />
<polygon points="520.4,644.4 527.4,640.5 527.4,648.2" fill="#3040b0" stroke="none" stroke-width="0" />
<polygon points="526.1,644.4 533.1,640.5 533.1,648.2" fill="#3040b0" stroke="none" stroke-width="0" />
<polygon points="531.7,644.4 538.7,640.5 538.7,648.2" fill="#3040b0" stroke="none" stroke-width="0" />
<polygon points="537.4,644.4 544.4,640.5 544.4,648.2" fill="#3040b0" stroke="none" stroke-width="0" />
<polygon points="543,644.4 550,640.5 550,648.2" fill="#3040b0" stroke="none" stroke-width="0" />
<polygon points="548.6,644.4 555.6,640.5 555.6,648.2" fill="#3040b0" stroke="none" stroke-width="0" />
<polygon points="554.2,644.4 561.2,640.5 561.2,648.2" fill="#3040b0" stroke="none" stroke-width="0" />
<polygon points="559.9,644.4 566.9,640.5 566.9,648.2" fill="#3040b0" stroke="none" stroke-width="0" />
<polygon points="565.5,644.4 572.5,640.5 572.5,648.2" fill="#3040b0" stroke="none" stroke-width="0" />
<polygon points="571.1,644.4 578.1,640.5 578.1,648.2" fill="#3040b0" stroke="none" stroke-width="0" />
<polygon points="407.1,660.2 414.1,656.4 414.1,664.1" fill="#3040b0" stroke="none" stroke-width="0" />
<polygon points="412.8,660.2 419.8,656.4 419.8,664.1" fill="#3040b0" stroke="none" stroke-width="0" />
<polygon points="418.4,660.2 425.4,656.4 425.4,664.1" fill="#3040b0" stroke="none" stroke-width="0" />
<polygon points="424,660.2 431,656.4 431,664.1" fill="#3040b0" stroke="none" stroke-width="0" />
<polygon points="429.6,660.2 436.6,656.4 436.6,664.1" fill="#3040b0" stroke="none" stroke-width="0" />
<polygon points="435.2,660.2 442.2,656.4 442.2,664.1" fill="#3040b0" stroke="none" stroke-width="0" />
<polygon points="440.8,660.2 447.8,656.4 447.8,664.1" fill="#3040b0" stroke="none" stroke-width="0" />
<polygon points="446.5,660.2 453.5,656.4 453.5,664.1" fill="#3040b0" stroke="none" stroke-width="0" />
<polygon points="452.1,660.2 459.1,656.4 459.1,664.1" fill="#3040b0" stroke="none" stroke-width="0" />
<polygon points="457.7,660.2 464.7,656.4 464.7,664.1" fill="#3040b0" stroke="none" stroke-width="0" />
<polygon points="463.3,660.2 470.3,656.4 470.3,664.1" fill="#3040b0" stroke="none" stroke-width="0" />
<polygon points="468.9,660.2 475.9,656.4 475.9,664.1" fill="#3040b0" stroke="none" stroke-width="0" />
<polygon points="474.5,660.2 481.5,656.4 481.5,664.1" fill="#3040b0" stroke="none" stroke-width="0" />
<polygon points="480.1,660.2 487.1,656.4 487.1,664.1" fill="#3040b0" stroke="none" stroke-width="0" />
<polygon points="485.8,660.2 492.8,656.4 492.8,664.1" fill="#3040b0" stroke="none" stroke-width="0" />
<polygon points="491.4,660.2 498.4,656.4 498.4,664.1" fill="#3040b0" stroke="none" stroke-width="0" />
<polygon points="497,660.2 504,656.4 504,664.1" fill="#3040b0" stroke="none" stroke-width="0" />
<polygon points="502.6,660.2 509.6,656.4 509.6,664.1" fill="#3040b0" stroke="none" stroke-width="0" />
<polygon points="508.2,660.2 515.2,656.4 515.2,664.1" fill="#3040b0" stroke="none" stroke-width="0" />
<polygon points="513.8,660.2 520.8,656.4 520.8,664.1" fill="#3040b0" stroke="none" stroke-width="0" />
<polygon points="519.5,660.2 526.5,656.4 526.5,664.1" fill="#3040b0" stroke="none" stroke-width="0" />
<polygon points="525.1,660.2 532.1,656.4 532.1,664.1" fill="#3040b0" stroke="none" stroke-width="0" />
<polygon points="530.7,660.2 537.7,656.4 537.7,664.1" fill="#3040b0" stroke="none" stroke-width="0" />
<polygon points="536.3,660.2 543.3,656.4 543.3,664.1" fill="#3040b0" stroke="none" stroke-width="0" />
<polygon points="541.9,660.2 548.9,656.4 548.9,664.1" fill="#3040b0" stroke="none" stroke-width="0" />
<polygon points="547.5,660.2 554.5,656.4 554.5,664.1" fill="#3040b0" stroke="none" stroke-width="0" />
<polygon points="553.1,660.2 560.1,656.4 560.1,664.1" fill="#3040b0" stroke="none" stroke-width="0" />
<polygon points="558.8,660.2 565.8,656.4 565.8,664.1" fill="#3040b0" stroke="none" stroke-width="0" />
<polygon points="564.4,660.2 571.4,656.4 571.4,664.1" fill="#3040b0" stroke="none" stroke-width="0" />
<polygon points="570,660.2 577,656.4 577,664.1" fill="#3040b0" stroke="none" stroke-width="0" />
<polygon points="575.6,660.2 582.6,656.4 582.6,664.1" fill="#3040b0" stroke="none" stroke-width="0" />
<polygon points="581.2,660.2 588.2,656.4 588.2,664.1" fill="#3040b0" stroke="none" stroke-width="0" />
<polygon points="586.8,660.2 593.8,656.4 593.8,664.1" fill="#3040b0" stroke="none" stroke-width="0" />
<polygon points="592.4,660.2 599.4,656.4 599.4,664.1" fill="#3040b0" stroke="none" stroke-width="0" />
<polygon points="586.1,676 593.1,672.1 593.1,679.9" fill="#3040b0" stroke="none" stroke-width="0" />
<polygon points="593.1,676 600.1,672.1 600.1,679.9" fill="#3040b0" stroke="none" stroke-width="0" />
<polygon points="599.1,676 606.1,672.1 606.1,679.9" fill="#3040b0" stroke="none" stroke-width="0" />
<polygon points="606.1,676 613.1,672.1 613.1,679.9" fill="#3040b0" stroke="none" stroke-width="0" />
<polygon points="593.1,692.6 600.1,688.8 600.1,696.5" fill="#3040b0" stroke="none" stroke-width="0" />
<polygon points="600.1,692.6 607.1,688.8 607.1,696.5" fill="#3040b0" stroke="none" stroke-width="0" />
<polygon points="607.1,692.6 614.1,688.8 614.1,696.5" fill="#3040b0" stroke="none" stroke-width="0" />
<polygon points="613.1,692.6 620.1,688.8 620.1,696.5" fill="#3040b0" stroke="none" stroke-width="0" />
<polygon points="620.1,692.6 627.1,688.8 627.1,696.5" fill="#3040b0" stroke="none" stroke-width="0" />
<polygon points="614.8,713.1 610.9,706.1 618.6,706.1" fill="#3040b0" stroke="none" stroke-width="0" />
<polygon points="622.2,728.9 618.4,721.9 626.1,721.9" fill="#3040b0" stroke="none" stroke-width="0" />
<polygon points="629.6,745.6 625.8,738.6 633.5,738.6" fill="#3040b0" stroke="none" stroke-width="0" />
<polygon points="637,761.2 633.1,754.2 640.9,754.2" fill="#3040b0" stroke="none" stroke-width="0" />
<polygon points="643.5,792.9 639.6,785.9 647.4,785.9" fill="#3040b0" stroke="none" stroke-width="0" />
<polygon points="638,712.1 634.1,705.1 641.9,705.1" fill="#3040b0" stroke="none" stroke-width="0" />
<polygon points="643.5,744.6 639.6,737.6 647.4,737.6" fill="#3040b0" stroke="none" stroke-width="0" />
<polygon points="651,761.2 647.1,754.2 654.9,754.2" fill="#3040b0" stroke="none" stroke-width="0" />
<polygon points="659.3,776.9 655.4,769.9 663.1,769.9" fill="#3040b0" stroke="none" stroke-width="0" />
<polygon points="652.8,809.5 648.9,802.5 656.6,802.5" fill="#3040b0" stroke="none" stroke-width="0" />
<line x1="486" y1="626.9" x2="526" y2="626.9" stroke="#3040b0" stroke-width="2" stroke-linecap="butt" />
<polygon points="536,626.9 526,630.9 526,622.9" fill="#3040b0" stroke="none" stroke-width="0" />
<line x1="538" y1="676" x2="498.9" y2="676" stroke="#3040b0" stroke-width="2" stroke-linecap="butt" />
<polygon points="488.9,676 498.9,672 498.9,680" fill="#3040b0" stroke="none" stroke-width="0" />
<line x1="626" y1="672.2" x2="641.4" y2="693.8" stroke="#3040b0" stroke-width="2" stroke-linecap="butt" />
<polygon points="647.2,701.9 638.1,696.1 644.6,691.4" fill="#3040b0" stroke="none" stroke-width="0" />
<line x1="620.4" y1="748" x2="605.6" y2="719.9" stroke="#3040b0" stroke-width="2" stroke-linecap="butt" />
<polygon points="601,711 609.2,718 602.1,721.7" fill="#3040b0" stroke="none" stroke-width="0" />
<line x1="953.2" y1="60.7" x2="953.2" y2="250" stroke="#e0407a" stroke-width="1.5" stroke-linecap="butt" stroke-dasharray="2 3.2" />
<line x1="1004.7" y1="60.7" x2="1004.7" y2="250" stroke="#e0407a" stroke-width="1.5" stroke-linecap="butt" stroke-dasharray="2 3.2" />
<line x1="1056.2" y1="60.7" x2="1056.2" y2="250" stroke="#e0407a" stroke-width="1.5" stroke-linecap="butt" stroke-dasharray="2 3.2" />
<line x1="1107.7" y1="60.7" x2="1107.7" y2="250" stroke="#e0407a" stroke-width="1.5" stroke-linecap="butt" stroke-dasharray="2 3.2" />
<line x1="1159.2" y1="60.7" x2="1159.2" y2="250" stroke="#e0407a" stroke-width="1.5" stroke-linecap="butt" stroke-dasharray="2 3.2" />
<line x1="1210.7" y1="60.7" x2="1210.7" y2="250" stroke="#e0407a" stroke-width="1.5" stroke-linecap="butt" stroke-dasharray="2 3.2" />
<line x1="1262.2" y1="60.7" x2="1262.2" y2="250" stroke="#e0407a" stroke-width="1.5" stroke-linecap="butt" stroke-dasharray="2 3.2" />
<line x1="1313.7" y1="60.7" x2="1313.7" y2="250" stroke="#e0407a" stroke-width="1.5" stroke-linecap="butt" stroke-dasharray="2 3.2" />
<line x1="1365.2" y1="60.7" x2="1365.2" y2="250" stroke="#e0407a" stroke-width="1.5" stroke-linecap="butt" stroke-dasharray="2 3.2" />
<line x1="953.2" y1="254" x2="953.2" y2="440.5" stroke="#6858d0" stroke-width="1.5" stroke-linecap="butt" stroke-dasharray="2 3.2" />
<line x1="1004.7" y1="254" x2="1004.7" y2="440.5" stroke="#6858d0" stroke-width="1.5" stroke-linecap="butt" stroke-dasharray="2 3.2" />
<line x1="1056.2" y1="254" x2="1056.2" y2="440.5" stroke="#6858d0" stroke-width="1.5" stroke-linecap="butt" stroke-dasharray="2 3.2" />
<line x1="1107.7" y1="254" x2="1107.7" y2="440.5" stroke="#6858d0" stroke-width="1.5" stroke-linecap="butt" stroke-dasharray="2 3.2" />
<line x1="1159.2" y1="254" x2="1159.2" y2="440.5" stroke="#6858d0" stroke-width="1.5" stroke-linecap="butt" stroke-dasharray="2 3.2" />
<line x1="1210.7" y1="254" x2="1210.7" y2="440.5" stroke="#6858d0" stroke-width="1.5" stroke-linecap="butt" stroke-dasharray="2 3.2" />
<line x1="1262.2" y1="254" x2="1262.2" y2="440.5" stroke="#6858d0" stroke-width="1.5" stroke-linecap="butt" stroke-dasharray="2 3.2" />
<line x1="1313.7" y1="254" x2="1313.7" y2="440.5" stroke="#6858d0" stroke-width="1.5" stroke-linecap="butt" stroke-dasharray="2 3.2" />
<line x1="1365.2" y1="254" x2="1365.2" y2="440.5" stroke="#6858d0" stroke-width="1.5" stroke-linecap="butt" stroke-dasharray="2 3.2" />
<line x1="953.2" y1="444.5" x2="953.2" y2="631.7" stroke="#7ad070" stroke-width="1.5" stroke-linecap="butt" stroke-dasharray="2 3.2" />
<line x1="1004.7" y1="444.5" x2="1004.7" y2="631.7" stroke="#7ad070" stroke-width="1.5" stroke-linecap="butt" stroke-dasharray="2 3.2" />
<line x1="1056.2" y1="444.5" x2="1056.2" y2="631.7" stroke="#7ad070" stroke-width="1.5" stroke-linecap="butt" stroke-dasharray="2 3.2" />
<line x1="1107.7" y1="444.5" x2="1107.7" y2="631.7" stroke="#7ad070" stroke-width="1.5" stroke-linecap="butt" stroke-dasharray="2 3.2" />
<line x1="1159.2" y1="444.5" x2="1159.2" y2="631.7" stroke="#7ad070" stroke-width="1.5" stroke-linecap="butt" stroke-dasharray="2 3.2" />
<line x1="1210.7" y1="444.5" x2="1210.7" y2="631.7" stroke="#7ad070" stroke-width="1.5" stroke-linecap="butt" stroke-dasharray="2 3.2" />
<line x1="1262.2" y1="444.5" x2="1262.2" y2="631.7" stroke="#7ad070" stroke-width="1.5" stroke-linecap="butt" stroke-dasharray="2 3.2" />
<line x1="1313.7" y1="444.5" x2="1313.7" y2="631.7" stroke="#7ad070" stroke-width="1.5" stroke-linecap="butt" stroke-dasharray="2 3.2" />
<line x1="1365.2" y1="444.5" x2="1365.2" y2="631.7" stroke="#7ad070" stroke-width="1.5" stroke-linecap="butt" stroke-dasharray="2 3.2" />
<line x1="953.2" y1="635.7" x2="953.2" y2="826.8" stroke="#333" stroke-width="1.5" stroke-linecap="butt" stroke-dasharray="2 3.2" />
<line x1="1004.7" y1="635.7" x2="1004.7" y2="826.8" stroke="#333" stroke-width="1.5" stroke-linecap="butt" stroke-dasharray="2 3.2" />
<line x1="1056.2" y1="635.7" x2="1056.2" y2="826.8" stroke="#333" stroke-width="1.5" stroke-linecap="butt" stroke-dasharray="2 3.2" />
<line x1="1107.7" y1="635.7" x2="1107.7" y2="826.8" stroke="#333" stroke-width="1.5" stroke-linecap="butt" stroke-dasharray="2 3.2" />
<line x1="1159.2" y1="635.7" x2="1159.2" y2="826.8" stroke="#333" stroke-width="1.5" stroke-linecap="butt" stroke-dasharray="2 3.2" />
<line x1="1210.7" y1="635.7" x2="1210.7" y2="826.8" stroke="#333" stroke-width="1.5" stroke-linecap="butt" stroke-dasharray="2 3.2" />
<line x1="1262.2" y1="635.7" x2="1262.2" y2="826.8" stroke="#333" stroke-width="1.5" stroke-linecap="butt" stroke-dasharray="2 3.2" />
<line x1="1313.7" y1="635.7" x2="1313.7" y2="826.8" stroke="#333" stroke-width="1.5" stroke-linecap="butt" stroke-dasharray="2 3.2" />
<line x1="1365.2" y1="635.7" x2="1365.2" y2="826.8" stroke="#333" stroke-width="1.5" stroke-linecap="butt" stroke-dasharray="2 3.2" />
<polyline points="902.5,227.6 907,205 912.5,170.7 917.8,133.9 921,122 925.7,114.6 933.6,111 940,109.5 947.6,107.6 952.8,105.8 955.5,123.3 960.7,167.2 966,209.2 973.9,225 982.6,233.8 989.6,230.3 993.1,225.9 1000.2,229.4 1004.5,228.5 1009,212.7 1014.2,181.2 1018.6,133.9 1021.2,121.6 1028.2,107.6 1044,107.6 1056.2,104 1059.7,118 1064.1,154.9 1068.5,195.2 1072,218 1079,220.6 1096.5,218.9 1107.9,220.6 1113.2,207.5 1117.6,163.7 1122,125.1 1124.6,112.8 1130.7,107.6 1143.9,111 1150,113.9 1159.6,116.3 1164.3,121 1167.9,144.3 1170.5,164 1172.3,183.6 1176.8,208.6 1178.6,221 1185.7,229 1194.6,235.4 1203.6,237.1 1212.5,237.1 1217,228.2 1220.5,205 1222.3,183.6 1225,160.4 1226.8,133.6 1230.4,119.3 1235.7,110.4 1250,112.1 1266,113.9 1269.6,124.6 1272.3,146 1274.1,164 1275.9,183.6 1278.6,201.4 1283.9,215.7 1292.9,222.9 1307.1,226.4 1313.4,226.4 1318.8,215.7 1322.3,190.7 1326.8,155 1330.4,130 1334,117.5 1339.3,110.4 1348.2,114.8 1357.1,120.2 1366,110.4 1371.4,122.9 1374.1,146 1375.9,169.3 1378.6,188.9 1382.1,219.3 1385.7,224.6 1396.4,228.2 1405.4,232.7 1415,232.7" fill="none" stroke="#e0142a" stroke-width="3.8" stroke-linejoin="round" stroke-linecap="butt" stroke-dasharray="11 4" />
<rect x="899.9" y="225" width="5.2" height="5.2" fill="#fbdce4" stroke="#e8466e" stroke-width="1.4" />
<rect x="902.6" y="211.4" width="5.2" height="5.2" fill="#fbdce4" stroke="#e8466e" stroke-width="1.4" />
<rect x="905.3" y="196.8" width="5.2" height="5.2" fill="#fbdce4" stroke="#e8466e" stroke-width="1.4" />
<rect x="908" y="179.9" width="5.2" height="5.2" fill="#fbdce4" stroke="#e8466e" stroke-width="1.4" />
<rect x="910.7" y="162.5" width="5.2" height="5.2" fill="#fbdce4" stroke="#e8466e" stroke-width="1.4" />
<rect x="913.4" y="143.8" width="5.2" height="5.2" fill="#fbdce4" stroke="#e8466e" stroke-width="1.4" />
<rect x="916.1" y="128" width="5.2" height="5.2" fill="#fbdce4" stroke="#e8466e" stroke-width="1.4" />
<rect x="918.8" y="118.8" width="5.2" height="5.2" fill="#fbdce4" stroke="#e8466e" stroke-width="1.4" />
<rect x="921.5" y="114.5" width="5.2" height="5.2" fill="#fbdce4" stroke="#e8466e" stroke-width="1.4" />
<rect x="924.2" y="111.5" width="5.2" height="5.2" fill="#fbdce4" stroke="#e8466e" stroke-width="1.4" />
<rect x="926.9" y="110.3" width="5.2" height="5.2" fill="#fbdce4" stroke="#e8466e" stroke-width="1.4" />
<rect x="929.6" y="109" width="5.2" height="5.2" fill="#fbdce4" stroke="#e8466e" stroke-width="1.4" />
<rect x="932.3" y="108.1" width="5.2" height="5.2" fill="#fbdce4" stroke="#e8466e" stroke-width="1.4" />
<rect x="935" y="107.5" width="5.2" height="5.2" fill="#fbdce4" stroke="#e8466e" stroke-width="1.4" />
<rect x="937.7" y="106.8" width="5.2" height="5.2" fill="#fbdce4" stroke="#e8466e" stroke-width="1.4" />
<rect x="940.4" y="106.1" width="5.2" height="5.2" fill="#fbdce4" stroke="#e8466e" stroke-width="1.4" />
<rect x="943.1" y="105.5" width="5.2" height="5.2" fill="#fbdce4" stroke="#e8466e" stroke-width="1.4" />
<rect x="945.8" y="104.7" width="5.2" height="5.2" fill="#fbdce4" stroke="#e8466e" stroke-width="1.4" />
<rect x="948.5" y="103.8" width="5.2" height="5.2" fill="#fbdce4" stroke="#e8466e" stroke-width="1.4" />
<rect x="951.2" y="109.7" width="5.2" height="5.2" fill="#fbdce4" stroke="#e8466e" stroke-width="1.4" />
<rect x="953.9" y="129.1" width="5.2" height="5.2" fill="#fbdce4" stroke="#e8466e" stroke-width="1.4" />
<rect x="956.6" y="151.9" width="5.2" height="5.2" fill="#fbdce4" stroke="#e8466e" stroke-width="1.4" />
<rect x="959.3" y="174.1" width="5.2" height="5.2" fill="#fbdce4" stroke="#e8466e" stroke-width="1.4" />
<rect x="962" y="195.5" width="5.2" height="5.2" fill="#fbdce4" stroke="#e8466e" stroke-width="1.4" />
<rect x="964.7" y="209.2" width="5.2" height="5.2" fill="#fbdce4" stroke="#e8466e" stroke-width="1.4" />
<rect x="967.4" y="214.6" width="5.2" height="5.2" fill="#fbdce4" stroke="#e8466e" stroke-width="1.4" />
<rect x="970.1" y="220" width="5.2" height="5.2" fill="#fbdce4" stroke="#e8466e" stroke-width="1.4" />
<rect x="972.8" y="223.9" width="5.2" height="5.2" fill="#fbdce4" stroke="#e8466e" stroke-width="1.4" />
<rect x="975.5" y="226.6" width="5.2" height="5.2" fill="#fbdce4" stroke="#e8466e" stroke-width="1.4" />
<rect x="978.2" y="229.4" width="5.2" height="5.2" fill="#fbdce4" stroke="#e8466e" stroke-width="1.4" />
<rect x="980.9" y="230.7" width="5.2" height="5.2" fill="#fbdce4" stroke="#e8466e" stroke-width="1.4" />
<rect x="983.6" y="229.4" width="5.2" height="5.2" fill="#fbdce4" stroke="#e8466e" stroke-width="1.4" />
<rect x="986.3" y="228" width="5.2" height="5.2" fill="#fbdce4" stroke="#e8466e" stroke-width="1.4" />
<rect x="989" y="225.2" width="5.2" height="5.2" fill="#fbdce4" stroke="#e8466e" stroke-width="1.4" />
<rect x="991.7" y="223.9" width="5.2" height="5.2" fill="#fbdce4" stroke="#e8466e" stroke-width="1.4" />
<rect x="994.4" y="225.2" width="5.2" height="5.2" fill="#fbdce4" stroke="#e8466e" stroke-width="1.4" />
<rect x="997.1" y="226.6" width="5.2" height="5.2" fill="#fbdce4" stroke="#e8466e" stroke-width="1.4" />
<rect x="999.8" y="226.3" width="5.2" height="5.2" fill="#fbdce4" stroke="#e8466e" stroke-width="1.4" />
<rect x="1002.5" y="223.8" width="5.2" height="5.2" fill="#fbdce4" stroke="#e8466e" stroke-width="1.4" />
<rect x="1005.2" y="214.3" width="5.2" height="5.2" fill="#fbdce4" stroke="#e8466e" stroke-width="1.4" />
<rect x="1007.9" y="201" width="5.2" height="5.2" fill="#fbdce4" stroke="#e8466e" stroke-width="1.4" />
<rect x="1010.6" y="184.7" width="5.2" height="5.2" fill="#fbdce4" stroke="#e8466e" stroke-width="1.4" />
<rect x="1013.3" y="160.3" width="5.2" height="5.2" fill="#fbdce4" stroke="#e8466e" stroke-width="1.4" />
<rect x="1016" y="131.3" width="5.2" height="5.2" fill="#fbdce4" stroke="#e8466e" stroke-width="1.4" />
<rect x="1018.7" y="118.8" width="5.2" height="5.2" fill="#fbdce4" stroke="#e8466e" stroke-width="1.4" />
<rect x="1021.4" y="113.4" width="5.2" height="5.2" fill="#fbdce4" stroke="#e8466e" stroke-width="1.4" />
<rect x="1024.1" y="108" width="5.2" height="5.2" fill="#fbdce4" stroke="#e8466e" stroke-width="1.4" />
<rect x="1026.8" y="105" width="5.2" height="5.2" fill="#fbdce4" stroke="#e8466e" stroke-width="1.4" />
<rect x="1029.5" y="105" width="5.2" height="5.2" fill="#fbdce4" stroke="#e8466e" stroke-width="1.4" />
<rect x="1032.2" y="105" width="5.2" height="5.2" fill="#fbdce4" stroke="#e8466e" stroke-width="1.4" />
<rect x="1034.9" y="105" width="5.2" height="5.2" fill="#fbdce4" stroke="#e8466e" stroke-width="1.4" />
<rect x="1037.6" y="105" width="5.2" height="5.2" fill="#fbdce4" stroke="#e8466e" stroke-width="1.4" />
<rect x="1040.3" y="105" width="5.2" height="5.2" fill="#fbdce4" stroke="#e8466e" stroke-width="1.4" />
<rect x="1043" y="104.5" width="5.2" height="5.2" fill="#fbdce4" stroke="#e8466e" stroke-width="1.4" />
<rect x="1045.7" y="103.7" width="5.2" height="5.2" fill="#fbdce4" stroke="#e8466e" stroke-width="1.4" />
<rect x="1048.4" y="102.9" width="5.2" height="5.2" fill="#fbdce4" stroke="#e8466e" stroke-width="1.4" />
<rect x="1051.1" y="102.1" width="5.2" height="5.2" fill="#fbdce4" stroke="#e8466e" stroke-width="1.4" />
<rect x="1053.8" y="102.2" width="5.2" height="5.2" fill="#fbdce4" stroke="#e8466e" stroke-width="1.4" />
<rect x="1056.5" y="113" width="5.2" height="5.2" fill="#fbdce4" stroke="#e8466e" stroke-width="1.4" />
<rect x="1059.2" y="133" width="5.2" height="5.2" fill="#fbdce4" stroke="#e8466e" stroke-width="1.4" />
<rect x="1061.9" y="156" width="5.2" height="5.2" fill="#fbdce4" stroke="#e8466e" stroke-width="1.4" />
<rect x="1064.6" y="180.7" width="5.2" height="5.2" fill="#fbdce4" stroke="#e8466e" stroke-width="1.4" />
<rect x="1067.3" y="201.7" width="5.2" height="5.2" fill="#fbdce4" stroke="#e8466e" stroke-width="1.4" />
<rect x="1070" y="215.6" width="5.2" height="5.2" fill="#fbdce4" stroke="#e8466e" stroke-width="1.4" />
<rect x="1072.7" y="216.6" width="5.2" height="5.2" fill="#fbdce4" stroke="#e8466e" stroke-width="1.4" />
<rect x="1075.4" y="217.6" width="5.2" height="5.2" fill="#fbdce4" stroke="#e8466e" stroke-width="1.4" />
<rect x="1078.1" y="217.8" width="5.2" height="5.2" fill="#fbdce4" stroke="#e8466e" stroke-width="1.4" />
<rect x="1080.8" y="217.6" width="5.2" height="5.2" fill="#fbdce4" stroke="#e8466e" stroke-width="1.4" />
<rect x="1083.5" y="217.3" width="5.2" height="5.2" fill="#fbdce4" stroke="#e8466e" stroke-width="1.4" />
<rect x="1086.2" y="217" width="5.2" height="5.2" fill="#fbdce4" stroke="#e8466e" stroke-width="1.4" />
<rect x="1088.9" y="216.8" width="5.2" height="5.2" fill="#fbdce4" stroke="#e8466e" stroke-width="1.4" />
<rect x="1091.6" y="216.5" width="5.2" height="5.2" fill="#fbdce4" stroke="#e8466e" stroke-width="1.4" />
<rect x="1094.3" y="216.4" width="5.2" height="5.2" fill="#fbdce4" stroke="#e8466e" stroke-width="1.4" />
<rect x="1097" y="216.8" width="5.2" height="5.2" fill="#fbdce4" stroke="#e8466e" stroke-width="1.4" />
<rect x="1099.7" y="217.2" width="5.2" height="5.2" fill="#fbdce4" stroke="#e8466e" stroke-width="1.4" />
<rect x="1102.4" y="217.6" width="5.2" height="5.2" fill="#fbdce4" stroke="#e8466e" stroke-width="1.4" />
<rect x="1105.1" y="218" width="5.2" height="5.2" fill="#fbdce4" stroke="#e8466e" stroke-width="1.4" />
<rect x="1107.8" y="211.8" width="5.2" height="5.2" fill="#fbdce4" stroke="#e8466e" stroke-width="1.4" />
<rect x="1110.5" y="205.1" width="5.2" height="5.2" fill="#fbdce4" stroke="#e8466e" stroke-width="1.4" />
<rect x="1113.2" y="179" width="5.2" height="5.2" fill="#fbdce4" stroke="#e8466e" stroke-width="1.4" />
<rect x="1115.9" y="153.2" width="5.2" height="5.2" fill="#fbdce4" stroke="#e8466e" stroke-width="1.4" />
<rect x="1118.6" y="129.5" width="5.2" height="5.2" fill="#fbdce4" stroke="#e8466e" stroke-width="1.4" />
<rect x="1121.3" y="113.5" width="5.2" height="5.2" fill="#fbdce4" stroke="#e8466e" stroke-width="1.4" />
<rect x="1124" y="108.5" width="5.2" height="5.2" fill="#fbdce4" stroke="#e8466e" stroke-width="1.4" />
<rect x="1126.7" y="106.2" width="5.2" height="5.2" fill="#fbdce4" stroke="#e8466e" stroke-width="1.4" />
<rect x="1129.4" y="105.3" width="5.2" height="5.2" fill="#fbdce4" stroke="#e8466e" stroke-width="1.4" />
<rect x="1132.1" y="106" width="5.2" height="5.2" fill="#fbdce4" stroke="#e8466e" stroke-width="1.4" />
<rect x="1134.8" y="106.7" width="5.2" height="5.2" fill="#fbdce4" stroke="#e8466e" stroke-width="1.4" />
<rect x="1137.5" y="107.4" width="5.2" height="5.2" fill="#fbdce4" stroke="#e8466e" stroke-width="1.4" />
<rect x="1140.2" y="108.1" width="5.2" height="5.2" fill="#fbdce4" stroke="#e8466e" stroke-width="1.4" />
<rect x="1142.9" y="109.2" width="5.2" height="5.2" fill="#fbdce4" stroke="#e8466e" stroke-width="1.4" />
<rect x="1145.6" y="110.4" width="5.2" height="5.2" fill="#fbdce4" stroke="#e8466e" stroke-width="1.4" />
<rect x="1148.3" y="111.5" width="5.2" height="5.2" fill="#fbdce4" stroke="#e8466e" stroke-width="1.4" />
<rect x="1151" y="112.2" width="5.2" height="5.2" fill="#fbdce4" stroke="#e8466e" stroke-width="1.4" />
<rect x="1153.7" y="112.9" width="5.2" height="5.2" fill="#fbdce4" stroke="#e8466e" stroke-width="1.4" />
<rect x="1156.4" y="113.6" width="5.2" height="5.2" fill="#fbdce4" stroke="#e8466e" stroke-width="1.4" />
<rect x="1159.1" y="115.8" width="5.2" height="5.2" fill="#fbdce4" stroke="#e8466e" stroke-width="1.4" />
<rect x="1161.8" y="119" width="5.2" height="5.2" fill="#fbdce4" stroke="#e8466e" stroke-width="1.4" />
<rect x="1164.5" y="136.5" width="5.2" height="5.2" fill="#fbdce4" stroke="#e8466e" stroke-width="1.4" />
<rect x="1167.2" y="156.1" width="5.2" height="5.2" fill="#fbdce4" stroke="#e8466e" stroke-width="1.4" />
<rect x="1169.9" y="182.1" width="5.2" height="5.2" fill="#fbdce4" stroke="#e8466e" stroke-width="1.4" />
<rect x="1172.6" y="197.1" width="5.2" height="5.2" fill="#fbdce4" stroke="#e8466e" stroke-width="1.4" />
<rect x="1175.3" y="213.6" width="5.2" height="5.2" fill="#fbdce4" stroke="#e8466e" stroke-width="1.4" />
<rect x="1178" y="220.7" width="5.2" height="5.2" fill="#fbdce4" stroke="#e8466e" stroke-width="1.4" />
<rect x="1180.7" y="223.7" width="5.2" height="5.2" fill="#fbdce4" stroke="#e8466e" stroke-width="1.4" />
<rect x="1183.4" y="226.6" width="5.2" height="5.2" fill="#fbdce4" stroke="#e8466e" stroke-width="1.4" />
<rect x="1186.1" y="228.6" width="5.2" height="5.2" fill="#fbdce4" stroke="#e8466e" stroke-width="1.4" />
<rect x="1188.8" y="230.5" width="5.2" height="5.2" fill="#fbdce4" stroke="#e8466e" stroke-width="1.4" />
<rect x="1191.5" y="232.4" width="5.2" height="5.2" fill="#fbdce4" stroke="#e8466e" stroke-width="1.4" />
<rect x="1194.2" y="233.2" width="5.2" height="5.2" fill="#fbdce4" stroke="#e8466e" stroke-width="1.4" />
<rect x="1196.9" y="233.7" width="5.2" height="5.2" fill="#fbdce4" stroke="#e8466e" stroke-width="1.4" />
<rect x="1199.6" y="234.2" width="5.2" height="5.2" fill="#fbdce4" stroke="#e8466e" stroke-width="1.4" />
<rect x="1202.3" y="234.5" width="5.2" height="5.2" fill="#fbdce4" stroke="#e8466e" stroke-width="1.4" />
<rect x="1205" y="234.5" width="5.2" height="5.2" fill="#fbdce4" stroke="#e8466e" stroke-width="1.4" />
<rect x="1207.7" y="234.5" width="5.2" height="5.2" fill="#fbdce4" stroke="#e8466e" stroke-width="1.4" />
<rect x="1210.4" y="233.5" width="5.2" height="5.2" fill="#fbdce4" stroke="#e8466e" stroke-width="1.4" />
<rect x="1213.1" y="228.2" width="5.2" height="5.2" fill="#fbdce4" stroke="#e8466e" stroke-width="1.4" />
<rect x="1215.8" y="216.3" width="5.2" height="5.2" fill="#fbdce4" stroke="#e8466e" stroke-width="1.4" />
<rect x="1218.5" y="195.3" width="5.2" height="5.2" fill="#fbdce4" stroke="#e8466e" stroke-width="1.4" />
<rect x="1221.2" y="168.1" width="5.2" height="5.2" fill="#fbdce4" stroke="#e8466e" stroke-width="1.4" />
<rect x="1223.9" y="135.5" width="5.2" height="5.2" fill="#fbdce4" stroke="#e8466e" stroke-width="1.4" />
<rect x="1226.6" y="121.5" width="5.2" height="5.2" fill="#fbdce4" stroke="#e8466e" stroke-width="1.4" />
<rect x="1229.3" y="114.2" width="5.2" height="5.2" fill="#fbdce4" stroke="#e8466e" stroke-width="1.4" />
<rect x="1232" y="109.6" width="5.2" height="5.2" fill="#fbdce4" stroke="#e8466e" stroke-width="1.4" />
<rect x="1234.7" y="108" width="5.2" height="5.2" fill="#fbdce4" stroke="#e8466e" stroke-width="1.4" />
<rect x="1237.4" y="108.3" width="5.2" height="5.2" fill="#fbdce4" stroke="#e8466e" stroke-width="1.4" />
<rect x="1240.1" y="108.6" width="5.2" height="5.2" fill="#fbdce4" stroke="#e8466e" stroke-width="1.4" />
<rect x="1242.8" y="109" width="5.2" height="5.2" fill="#fbdce4" stroke="#e8466e" stroke-width="1.4" />
<rect x="1245.5" y="109.3" width="5.2" height="5.2" fill="#fbdce4" stroke="#e8466e" stroke-width="1.4" />
<rect x="1248.2" y="109.6" width="5.2" height="5.2" fill="#fbdce4" stroke="#e8466e" stroke-width="1.4" />
<rect x="1250.9" y="109.9" width="5.2" height="5.2" fill="#fbdce4" stroke="#e8466e" stroke-width="1.4" />
<rect x="1253.6" y="110.2" width="5.2" height="5.2" fill="#fbdce4" stroke="#e8466e" stroke-width="1.4" />
<rect x="1256.3" y="110.5" width="5.2" height="5.2" fill="#fbdce4" stroke="#e8466e" stroke-width="1.4" />
<rect x="1259" y="110.8" width="5.2" height="5.2" fill="#fbdce4" stroke="#e8466e" stroke-width="1.4" />
<rect x="1261.7" y="111.1" width="5.2" height="5.2" fill="#fbdce4" stroke="#e8466e" stroke-width="1.4" />
<rect x="1264.4" y="114.3" width="5.2" height="5.2" fill="#fbdce4" stroke="#e8466e" stroke-width="1.4" />
<rect x="1267.1" y="122.8" width="5.2" height="5.2" fill="#fbdce4" stroke="#e8466e" stroke-width="1.4" />
<rect x="1269.8" y="144.4" width="5.2" height="5.2" fill="#fbdce4" stroke="#e8466e" stroke-width="1.4" />
<rect x="1272.5" y="172.3" width="5.2" height="5.2" fill="#fbdce4" stroke="#e8466e" stroke-width="1.4" />
<rect x="1275.2" y="193.5" width="5.2" height="5.2" fill="#fbdce4" stroke="#e8466e" stroke-width="1.4" />
<rect x="1277.9" y="203.9" width="5.2" height="5.2" fill="#fbdce4" stroke="#e8466e" stroke-width="1.4" />
<rect x="1280.6" y="211.2" width="5.2" height="5.2" fill="#fbdce4" stroke="#e8466e" stroke-width="1.4" />
<rect x="1283.3" y="214.7" width="5.2" height="5.2" fill="#fbdce4" stroke="#e8466e" stroke-width="1.4" />
<rect x="1286" y="216.9" width="5.2" height="5.2" fill="#fbdce4" stroke="#e8466e" stroke-width="1.4" />
<rect x="1288.7" y="219" width="5.2" height="5.2" fill="#fbdce4" stroke="#e8466e" stroke-width="1.4" />
<rect x="1291.4" y="220.6" width="5.2" height="5.2" fill="#fbdce4" stroke="#e8466e" stroke-width="1.4" />
<rect x="1294.1" y="221.2" width="5.2" height="5.2" fill="#fbdce4" stroke="#e8466e" stroke-width="1.4" />
<rect x="1296.8" y="221.9" width="5.2" height="5.2" fill="#fbdce4" stroke="#e8466e" stroke-width="1.4" />
<rect x="1299.5" y="222.6" width="5.2" height="5.2" fill="#fbdce4" stroke="#e8466e" stroke-width="1.4" />
<rect x="1302.2" y="223.2" width="5.2" height="5.2" fill="#fbdce4" stroke="#e8466e" stroke-width="1.4" />
<rect x="1304.9" y="223.8" width="5.2" height="5.2" fill="#fbdce4" stroke="#e8466e" stroke-width="1.4" />
<rect x="1307.6" y="223.8" width="5.2" height="5.2" fill="#fbdce4" stroke="#e8466e" stroke-width="1.4" />
<rect x="1310.3" y="223.8" width="5.2" height="5.2" fill="#fbdce4" stroke="#e8466e" stroke-width="1.4" />
<rect x="1313" y="219.4" width="5.2" height="5.2" fill="#fbdce4" stroke="#e8466e" stroke-width="1.4" />
<rect x="1315.7" y="214.1" width="5.2" height="5.2" fill="#fbdce4" stroke="#e8466e" stroke-width="1.4" />
<rect x="1318.4" y="197.4" width="5.2" height="5.2" fill="#fbdce4" stroke="#e8466e" stroke-width="1.4" />
<rect x="1321.1" y="177" width="5.2" height="5.2" fill="#fbdce4" stroke="#e8466e" stroke-width="1.4" />
<rect x="1323.8" y="155.6" width="5.2" height="5.2" fill="#fbdce4" stroke="#e8466e" stroke-width="1.4" />
<rect x="1326.5" y="136.4" width="5.2" height="5.2" fill="#fbdce4" stroke="#e8466e" stroke-width="1.4" />
<rect x="1329.2" y="122.5" width="5.2" height="5.2" fill="#fbdce4" stroke="#e8466e" stroke-width="1.4" />
<rect x="1331.9" y="114.2" width="5.2" height="5.2" fill="#fbdce4" stroke="#e8466e" stroke-width="1.4" />
<rect x="1334.6" y="110.6" width="5.2" height="5.2" fill="#fbdce4" stroke="#e8466e" stroke-width="1.4" />
<rect x="1337.3" y="108.1" width="5.2" height="5.2" fill="#fbdce4" stroke="#e8466e" stroke-width="1.4" />
<rect x="1340" y="109.4" width="5.2" height="5.2" fill="#fbdce4" stroke="#e8466e" stroke-width="1.4" />
<rect x="1342.7" y="110.8" width="5.2" height="5.2" fill="#fbdce4" stroke="#e8466e" stroke-width="1.4" />
<rect x="1345.4" y="112.1" width="5.2" height="5.2" fill="#fbdce4" stroke="#e8466e" stroke-width="1.4" />
<rect x="1348.1" y="113.7" width="5.2" height="5.2" fill="#fbdce4" stroke="#e8466e" stroke-width="1.4" />
<rect x="1350.8" y="115.4" width="5.2" height="5.2" fill="#fbdce4" stroke="#e8466e" stroke-width="1.4" />
<rect x="1353.5" y="117" width="5.2" height="5.2" fill="#fbdce4" stroke="#e8466e" stroke-width="1.4" />
<rect x="1356.2" y="115.7" width="5.2" height="5.2" fill="#fbdce4" stroke="#e8466e" stroke-width="1.4" />
<rect x="1358.9" y="112.8" width="5.2" height="5.2" fill="#fbdce4" stroke="#e8466e" stroke-width="1.4" />
<rect x="1361.6" y="109.8" width="5.2" height="5.2" fill="#fbdce4" stroke="#e8466e" stroke-width="1.4" />
<rect x="1364.3" y="109.9" width="5.2" height="5.2" fill="#fbdce4" stroke="#e8466e" stroke-width="1.4" />
<rect x="1367" y="116.1" width="5.2" height="5.2" fill="#fbdce4" stroke="#e8466e" stroke-width="1.4" />
<rect x="1369.7" y="128" width="5.2" height="5.2" fill="#fbdce4" stroke="#e8466e" stroke-width="1.4" />
<rect x="1372.4" y="155.1" width="5.2" height="5.2" fill="#fbdce4" stroke="#e8466e" stroke-width="1.4" />
<rect x="1375.1" y="179.8" width="5.2" height="5.2" fill="#fbdce4" stroke="#e8466e" stroke-width="1.4" />
<rect x="1377.8" y="201.9" width="5.2" height="5.2" fill="#fbdce4" stroke="#e8466e" stroke-width="1.4" />
<rect x="1380.5" y="218.2" width="5.2" height="5.2" fill="#fbdce4" stroke="#e8466e" stroke-width="1.4" />
<rect x="1383.2" y="222" width="5.2" height="5.2" fill="#fbdce4" stroke="#e8466e" stroke-width="1.4" />
<rect x="1385.9" y="222.9" width="5.2" height="5.2" fill="#fbdce4" stroke="#e8466e" stroke-width="1.4" />
<rect x="1388.6" y="223.9" width="5.2" height="5.2" fill="#fbdce4" stroke="#e8466e" stroke-width="1.4" />
<rect x="1391.3" y="224.8" width="5.2" height="5.2" fill="#fbdce4" stroke="#e8466e" stroke-width="1.4" />
<rect x="1394" y="225.7" width="5.2" height="5.2" fill="#fbdce4" stroke="#e8466e" stroke-width="1.4" />
<rect x="1396.7" y="227.1" width="5.2" height="5.2" fill="#fbdce4" stroke="#e8466e" stroke-width="1.4" />
<rect x="1399.4" y="228.4" width="5.2" height="5.2" fill="#fbdce4" stroke="#e8466e" stroke-width="1.4" />
<rect x="1402.1" y="229.8" width="5.2" height="5.2" fill="#fbdce4" stroke="#e8466e" stroke-width="1.4" />
<rect x="1404.8" y="230.1" width="5.2" height="5.2" fill="#fbdce4" stroke="#e8466e" stroke-width="1.4" />
<rect x="1407.5" y="230.1" width="5.2" height="5.2" fill="#fbdce4" stroke="#e8466e" stroke-width="1.4" />
<rect x="1410.2" y="230.1" width="5.2" height="5.2" fill="#fbdce4" stroke="#e8466e" stroke-width="1.4" />
<polyline points="903.8,408 909.9,380 912.5,359 916,330.9 920.4,315 924.8,308 935.3,310.7 945.8,309.8 952.8,304.6 958,310.7 960.7,330.9 964.2,351.9 966,371.2 967.7,385.2 969.5,395.7 973.9,406.2 979.1,415 986.1,417.6 994.9,417.6 1001.9,418.5 1004.5,402.7 1008.9,399.2 1013.3,374.7 1015.9,353.7 1017.7,336.1 1020.3,316.9 1023.8,306.3 1031.7,302.8 1049.2,299.3 1061.5,296.7 1064.1,316.9 1066.7,337.9 1069.4,358.9 1071.1,374.7 1072.9,385.2 1077.3,399.2 1084.3,408 1096.5,409.7 1110.6,408 1115,378.2 1117.6,357.2 1120.2,339.6 1122.8,320.4 1128.1,301 1133.3,295.8 1142.1,309.8 1150,307.5 1158.9,298.6 1165.2,311 1167,330.7 1167.9,352.1 1171.4,373.6 1173.2,387.9 1175.9,396.8 1185.7,402.1 1194.6,402.1 1203.6,409.3 1209.8,412.9 1214.3,402.1 1219.6,395 1220.5,375.4 1223.2,355.7 1226.8,330.7 1230.4,320 1237.5,307.5 1244.6,303.9 1253.6,309.3 1260.7,316.4 1266,323.6 1270.5,350.4 1272.3,368.2 1275,387.9 1276.8,402.1 1280.4,414.6 1287.5,423.6 1301.8,427.1 1310.7,420 1317.9,414.6 1319.6,402.1 1323.2,366.4 1325.9,346.8 1327.7,330.7 1330.4,320 1335.7,305.7 1346.4,303.9 1355.4,309.3 1367.9,303.9 1371.4,311 1373.2,330.7 1375,352.1 1376.8,368.2 1379.5,384.3 1382.1,398.6 1385.7,416.4 1400,417.3 1415,417.3" fill="none" stroke="#3040b0" stroke-width="3.8" stroke-linejoin="round" stroke-linecap="butt" stroke-dasharray="11 4" />
<rect x="901.2" y="405.4" width="5.2" height="5.2" fill="#e2e2f8" stroke="#5a60c8" stroke-width="1.4" />
<rect x="903.9" y="393" width="5.2" height="5.2" fill="#e2e2f8" stroke="#5a60c8" stroke-width="1.4" />
<rect x="906.6" y="380.6" width="5.2" height="5.2" fill="#e2e2f8" stroke="#5a60c8" stroke-width="1.4" />
<rect x="909.3" y="361.2" width="5.2" height="5.2" fill="#e2e2f8" stroke="#5a60c8" stroke-width="1.4" />
<rect x="912" y="339.5" width="5.2" height="5.2" fill="#e2e2f8" stroke="#5a60c8" stroke-width="1.4" />
<rect x="914.7" y="323.6" width="5.2" height="5.2" fill="#e2e2f8" stroke="#5a60c8" stroke-width="1.4" />
<rect x="917.4" y="313.8" width="5.2" height="5.2" fill="#e2e2f8" stroke="#5a60c8" stroke-width="1.4" />
<rect x="920.1" y="308.7" width="5.2" height="5.2" fill="#e2e2f8" stroke="#5a60c8" stroke-width="1.4" />
<rect x="922.8" y="305.6" width="5.2" height="5.2" fill="#e2e2f8" stroke="#5a60c8" stroke-width="1.4" />
<rect x="925.5" y="306.2" width="5.2" height="5.2" fill="#e2e2f8" stroke="#5a60c8" stroke-width="1.4" />
<rect x="928.2" y="306.9" width="5.2" height="5.2" fill="#e2e2f8" stroke="#5a60c8" stroke-width="1.4" />
<rect x="930.9" y="307.6" width="5.2" height="5.2" fill="#e2e2f8" stroke="#5a60c8" stroke-width="1.4" />
<rect x="933.6" y="308" width="5.2" height="5.2" fill="#e2e2f8" stroke="#5a60c8" stroke-width="1.4" />
<rect x="936.3" y="307.8" width="5.2" height="5.2" fill="#e2e2f8" stroke="#5a60c8" stroke-width="1.4" />
<rect x="939" y="307.6" width="5.2" height="5.2" fill="#e2e2f8" stroke="#5a60c8" stroke-width="1.4" />
<rect x="941.7" y="307.3" width="5.2" height="5.2" fill="#e2e2f8" stroke="#5a60c8" stroke-width="1.4" />
<rect x="944.4" y="306.3" width="5.2" height="5.2" fill="#e2e2f8" stroke="#5a60c8" stroke-width="1.4" />
<rect x="947.1" y="304.3" width="5.2" height="5.2" fill="#e2e2f8" stroke="#5a60c8" stroke-width="1.4" />
<rect x="949.8" y="302.3" width="5.2" height="5.2" fill="#e2e2f8" stroke="#5a60c8" stroke-width="1.4" />
<rect x="952.5" y="304.7" width="5.2" height="5.2" fill="#e2e2f8" stroke="#5a60c8" stroke-width="1.4" />
<rect x="955.2" y="307.9" width="5.2" height="5.2" fill="#e2e2f8" stroke="#5a60c8" stroke-width="1.4" />
<rect x="957.9" y="326.8" width="5.2" height="5.2" fill="#e2e2f8" stroke="#5a60c8" stroke-width="1.4" />
<rect x="960.6" y="343.3" width="5.2" height="5.2" fill="#e2e2f8" stroke="#5a60c8" stroke-width="1.4" />
<rect x="963.3" y="367.5" width="5.2" height="5.2" fill="#e2e2f8" stroke="#5a60c8" stroke-width="1.4" />
<rect x="966" y="387.9" width="5.2" height="5.2" fill="#e2e2f8" stroke="#5a60c8" stroke-width="1.4" />
<rect x="968.7" y="397.4" width="5.2" height="5.2" fill="#e2e2f8" stroke="#5a60c8" stroke-width="1.4" />
<rect x="971.4" y="403.8" width="5.2" height="5.2" fill="#e2e2f8" stroke="#5a60c8" stroke-width="1.4" />
<rect x="974.1" y="408.3" width="5.2" height="5.2" fill="#e2e2f8" stroke="#5a60c8" stroke-width="1.4" />
<rect x="976.8" y="412.5" width="5.2" height="5.2" fill="#e2e2f8" stroke="#5a60c8" stroke-width="1.4" />
<rect x="979.5" y="413.5" width="5.2" height="5.2" fill="#e2e2f8" stroke="#5a60c8" stroke-width="1.4" />
<rect x="982.2" y="414.5" width="5.2" height="5.2" fill="#e2e2f8" stroke="#5a60c8" stroke-width="1.4" />
<rect x="984.9" y="415" width="5.2" height="5.2" fill="#e2e2f8" stroke="#5a60c8" stroke-width="1.4" />
<rect x="987.6" y="415" width="5.2" height="5.2" fill="#e2e2f8" stroke="#5a60c8" stroke-width="1.4" />
<rect x="990.3" y="415" width="5.2" height="5.2" fill="#e2e2f8" stroke="#5a60c8" stroke-width="1.4" />
<rect x="993" y="415.1" width="5.2" height="5.2" fill="#e2e2f8" stroke="#5a60c8" stroke-width="1.4" />
<rect x="995.7" y="415.4" width="5.2" height="5.2" fill="#e2e2f8" stroke="#5a60c8" stroke-width="1.4" />
<rect x="998.4" y="415.8" width="5.2" height="5.2" fill="#e2e2f8" stroke="#5a60c8" stroke-width="1.4" />
<rect x="1001.1" y="405" width="5.2" height="5.2" fill="#e2e2f8" stroke="#5a60c8" stroke-width="1.4" />
<rect x="1003.8" y="398.6" width="5.2" height="5.2" fill="#e2e2f8" stroke="#5a60c8" stroke-width="1.4" />
<rect x="1006.5" y="395.5" width="5.2" height="5.2" fill="#e2e2f8" stroke="#5a60c8" stroke-width="1.4" />
<rect x="1009.2" y="380.5" width="5.2" height="5.2" fill="#e2e2f8" stroke="#5a60c8" stroke-width="1.4" />
<rect x="1011.9" y="362.4" width="5.2" height="5.2" fill="#e2e2f8" stroke="#5a60c8" stroke-width="1.4" />
<rect x="1014.6" y="338.4" width="5.2" height="5.2" fill="#e2e2f8" stroke="#5a60c8" stroke-width="1.4" />
<rect x="1017.3" y="317.3" width="5.2" height="5.2" fill="#e2e2f8" stroke="#5a60c8" stroke-width="1.4" />
<rect x="1020" y="307.3" width="5.2" height="5.2" fill="#e2e2f8" stroke="#5a60c8" stroke-width="1.4" />
<rect x="1022.7" y="303" width="5.2" height="5.2" fill="#e2e2f8" stroke="#5a60c8" stroke-width="1.4" />
<rect x="1025.4" y="301.8" width="5.2" height="5.2" fill="#e2e2f8" stroke="#5a60c8" stroke-width="1.4" />
<rect x="1028.1" y="300.6" width="5.2" height="5.2" fill="#e2e2f8" stroke="#5a60c8" stroke-width="1.4" />
<rect x="1030.8" y="299.9" width="5.2" height="5.2" fill="#e2e2f8" stroke="#5a60c8" stroke-width="1.4" />
<rect x="1033.5" y="299.3" width="5.2" height="5.2" fill="#e2e2f8" stroke="#5a60c8" stroke-width="1.4" />
<rect x="1036.2" y="298.8" width="5.2" height="5.2" fill="#e2e2f8" stroke="#5a60c8" stroke-width="1.4" />
<rect x="1038.9" y="298.2" width="5.2" height="5.2" fill="#e2e2f8" stroke="#5a60c8" stroke-width="1.4" />
<rect x="1041.6" y="297.7" width="5.2" height="5.2" fill="#e2e2f8" stroke="#5a60c8" stroke-width="1.4" />
<rect x="1044.3" y="297.2" width="5.2" height="5.2" fill="#e2e2f8" stroke="#5a60c8" stroke-width="1.4" />
<rect x="1047" y="296.6" width="5.2" height="5.2" fill="#e2e2f8" stroke="#5a60c8" stroke-width="1.4" />
<rect x="1049.7" y="296" width="5.2" height="5.2" fill="#e2e2f8" stroke="#5a60c8" stroke-width="1.4" />
<rect x="1052.4" y="295.5" width="5.2" height="5.2" fill="#e2e2f8" stroke="#5a60c8" stroke-width="1.4" />
<rect x="1055.1" y="294.9" width="5.2" height="5.2" fill="#e2e2f8" stroke="#5a60c8" stroke-width="1.4" />
<rect x="1057.8" y="294.3" width="5.2" height="5.2" fill="#e2e2f8" stroke="#5a60c8" stroke-width="1.4" />
<rect x="1060.5" y="306.5" width="5.2" height="5.2" fill="#e2e2f8" stroke="#5a60c8" stroke-width="1.4" />
<rect x="1063.2" y="328" width="5.2" height="5.2" fill="#e2e2f8" stroke="#5a60c8" stroke-width="1.4" />
<rect x="1065.9" y="349.3" width="5.2" height="5.2" fill="#e2e2f8" stroke="#5a60c8" stroke-width="1.4" />
<rect x="1068.6" y="372.7" width="5.2" height="5.2" fill="#e2e2f8" stroke="#5a60c8" stroke-width="1.4" />
<rect x="1071.3" y="385.8" width="5.2" height="5.2" fill="#e2e2f8" stroke="#5a60c8" stroke-width="1.4" />
<rect x="1074" y="394.4" width="5.2" height="5.2" fill="#e2e2f8" stroke="#5a60c8" stroke-width="1.4" />
<rect x="1076.7" y="399.1" width="5.2" height="5.2" fill="#e2e2f8" stroke="#5a60c8" stroke-width="1.4" />
<rect x="1079.4" y="402.5" width="5.2" height="5.2" fill="#e2e2f8" stroke="#5a60c8" stroke-width="1.4" />
<rect x="1082.1" y="405.5" width="5.2" height="5.2" fill="#e2e2f8" stroke="#5a60c8" stroke-width="1.4" />
<rect x="1084.8" y="405.8" width="5.2" height="5.2" fill="#e2e2f8" stroke="#5a60c8" stroke-width="1.4" />
<rect x="1087.5" y="406.2" width="5.2" height="5.2" fill="#e2e2f8" stroke="#5a60c8" stroke-width="1.4" />
<rect x="1090.2" y="406.6" width="5.2" height="5.2" fill="#e2e2f8" stroke="#5a60c8" stroke-width="1.4" />
<rect x="1092.9" y="407" width="5.2" height="5.2" fill="#e2e2f8" stroke="#5a60c8" stroke-width="1.4" />
<rect x="1095.6" y="406.9" width="5.2" height="5.2" fill="#e2e2f8" stroke="#5a60c8" stroke-width="1.4" />
<rect x="1098.3" y="406.6" width="5.2" height="5.2" fill="#e2e2f8" stroke="#5a60c8" stroke-width="1.4" />
<rect x="1101" y="406.2" width="5.2" height="5.2" fill="#e2e2f8" stroke="#5a60c8" stroke-width="1.4" />
<rect x="1103.7" y="405.9" width="5.2" height="5.2" fill="#e2e2f8" stroke="#5a60c8" stroke-width="1.4" />
<rect x="1106.4" y="405.6" width="5.2" height="5.2" fill="#e2e2f8" stroke="#5a60c8" stroke-width="1.4" />
<rect x="1109.1" y="397.9" width="5.2" height="5.2" fill="#e2e2f8" stroke="#5a60c8" stroke-width="1.4" />
<rect x="1111.8" y="379.7" width="5.2" height="5.2" fill="#e2e2f8" stroke="#5a60c8" stroke-width="1.4" />
<rect x="1114.5" y="358.6" width="5.2" height="5.2" fill="#e2e2f8" stroke="#5a60c8" stroke-width="1.4" />
<rect x="1117.2" y="339.7" width="5.2" height="5.2" fill="#e2e2f8" stroke="#5a60c8" stroke-width="1.4" />
<rect x="1119.9" y="320" width="5.2" height="5.2" fill="#e2e2f8" stroke="#5a60c8" stroke-width="1.4" />
<rect x="1122.6" y="309" width="5.2" height="5.2" fill="#e2e2f8" stroke="#5a60c8" stroke-width="1.4" />
<rect x="1125.3" y="299.1" width="5.2" height="5.2" fill="#e2e2f8" stroke="#5a60c8" stroke-width="1.4" />
<rect x="1128" y="295.9" width="5.2" height="5.2" fill="#e2e2f8" stroke="#5a60c8" stroke-width="1.4" />
<rect x="1130.7" y="293.2" width="5.2" height="5.2" fill="#e2e2f8" stroke="#5a60c8" stroke-width="1.4" />
<rect x="1133.4" y="297.5" width="5.2" height="5.2" fill="#e2e2f8" stroke="#5a60c8" stroke-width="1.4" />
<rect x="1136.1" y="301.8" width="5.2" height="5.2" fill="#e2e2f8" stroke="#5a60c8" stroke-width="1.4" />
<rect x="1138.8" y="306.1" width="5.2" height="5.2" fill="#e2e2f8" stroke="#5a60c8" stroke-width="1.4" />
<rect x="1141.5" y="306.6" width="5.2" height="5.2" fill="#e2e2f8" stroke="#5a60c8" stroke-width="1.4" />
<rect x="1144.2" y="305.8" width="5.2" height="5.2" fill="#e2e2f8" stroke="#5a60c8" stroke-width="1.4" />
<rect x="1146.9" y="305" width="5.2" height="5.2" fill="#e2e2f8" stroke="#5a60c8" stroke-width="1.4" />
<rect x="1149.6" y="302.7" width="5.2" height="5.2" fill="#e2e2f8" stroke="#5a60c8" stroke-width="1.4" />
<rect x="1152.3" y="300" width="5.2" height="5.2" fill="#e2e2f8" stroke="#5a60c8" stroke-width="1.4" />
<rect x="1155" y="297.3" width="5.2" height="5.2" fill="#e2e2f8" stroke="#5a60c8" stroke-width="1.4" />
<rect x="1157.7" y="298.8" width="5.2" height="5.2" fill="#e2e2f8" stroke="#5a60c8" stroke-width="1.4" />
<rect x="1160.4" y="304.1" width="5.2" height="5.2" fill="#e2e2f8" stroke="#5a60c8" stroke-width="1.4" />
<rect x="1163.1" y="313.9" width="5.2" height="5.2" fill="#e2e2f8" stroke="#5a60c8" stroke-width="1.4" />
<rect x="1165.8" y="352.6" width="5.2" height="5.2" fill="#e2e2f8" stroke="#5a60c8" stroke-width="1.4" />
<rect x="1168.5" y="369.2" width="5.2" height="5.2" fill="#e2e2f8" stroke="#5a60c8" stroke-width="1.4" />
<rect x="1171.2" y="387.3" width="5.2" height="5.2" fill="#e2e2f8" stroke="#5a60c8" stroke-width="1.4" />
<rect x="1173.9" y="394.5" width="5.2" height="5.2" fill="#e2e2f8" stroke="#5a60c8" stroke-width="1.4" />
<rect x="1176.6" y="396" width="5.2" height="5.2" fill="#e2e2f8" stroke="#5a60c8" stroke-width="1.4" />
<rect x="1179.3" y="397.4" width="5.2" height="5.2" fill="#e2e2f8" stroke="#5a60c8" stroke-width="1.4" />
<rect x="1182" y="398.9" width="5.2" height="5.2" fill="#e2e2f8" stroke="#5a60c8" stroke-width="1.4" />
<rect x="1184.7" y="399.5" width="5.2" height="5.2" fill="#e2e2f8" stroke="#5a60c8" stroke-width="1.4" />
<rect x="1187.4" y="399.5" width="5.2" height="5.2" fill="#e2e2f8" stroke="#5a60c8" stroke-width="1.4" />
<rect x="1190.1" y="399.5" width="5.2" height="5.2" fill="#e2e2f8" stroke="#5a60c8" stroke-width="1.4" />
<rect x="1192.8" y="400.1" width="5.2" height="5.2" fill="#e2e2f8" stroke="#5a60c8" stroke-width="1.4" />
<rect x="1195.5" y="402.3" width="5.2" height="5.2" fill="#e2e2f8" stroke="#5a60c8" stroke-width="1.4" />
<rect x="1198.2" y="404.5" width="5.2" height="5.2" fill="#e2e2f8" stroke="#5a60c8" stroke-width="1.4" />
<rect x="1200.9" y="406.6" width="5.2" height="5.2" fill="#e2e2f8" stroke="#5a60c8" stroke-width="1.4" />
<rect x="1203.6" y="408.2" width="5.2" height="5.2" fill="#e2e2f8" stroke="#5a60c8" stroke-width="1.4" />
<rect x="1206.3" y="409.8" width="5.2" height="5.2" fill="#e2e2f8" stroke="#5a60c8" stroke-width="1.4" />
<rect x="1209" y="406" width="5.2" height="5.2" fill="#e2e2f8" stroke="#5a60c8" stroke-width="1.4" />
<rect x="1211.7" y="399.5" width="5.2" height="5.2" fill="#e2e2f8" stroke="#5a60c8" stroke-width="1.4" />
<rect x="1214.4" y="395.9" width="5.2" height="5.2" fill="#e2e2f8" stroke="#5a60c8" stroke-width="1.4" />
<rect x="1217.1" y="390.2" width="5.2" height="5.2" fill="#e2e2f8" stroke="#5a60c8" stroke-width="1.4" />
<rect x="1219.8" y="358.9" width="5.2" height="5.2" fill="#e2e2f8" stroke="#5a60c8" stroke-width="1.4" />
<rect x="1222.5" y="339.9" width="5.2" height="5.2" fill="#e2e2f8" stroke="#5a60c8" stroke-width="1.4" />
<rect x="1225.2" y="325.1" width="5.2" height="5.2" fill="#e2e2f8" stroke="#5a60c8" stroke-width="1.4" />
<rect x="1227.9" y="317.2" width="5.2" height="5.2" fill="#e2e2f8" stroke="#5a60c8" stroke-width="1.4" />
<rect x="1230.6" y="312.5" width="5.2" height="5.2" fill="#e2e2f8" stroke="#5a60c8" stroke-width="1.4" />
<rect x="1233.3" y="307.7" width="5.2" height="5.2" fill="#e2e2f8" stroke="#5a60c8" stroke-width="1.4" />
<rect x="1236" y="304.3" width="5.2" height="5.2" fill="#e2e2f8" stroke="#5a60c8" stroke-width="1.4" />
<rect x="1238.7" y="303" width="5.2" height="5.2" fill="#e2e2f8" stroke="#5a60c8" stroke-width="1.4" />
<rect x="1241.4" y="301.6" width="5.2" height="5.2" fill="#e2e2f8" stroke="#5a60c8" stroke-width="1.4" />
<rect x="1244.1" y="302.6" width="5.2" height="5.2" fill="#e2e2f8" stroke="#5a60c8" stroke-width="1.4" />
<rect x="1246.8" y="304.2" width="5.2" height="5.2" fill="#e2e2f8" stroke="#5a60c8" stroke-width="1.4" />
<rect x="1249.5" y="305.8" width="5.2" height="5.2" fill="#e2e2f8" stroke="#5a60c8" stroke-width="1.4" />
<rect x="1252.2" y="307.9" width="5.2" height="5.2" fill="#e2e2f8" stroke="#5a60c8" stroke-width="1.4" />
<rect x="1254.9" y="310.6" width="5.2" height="5.2" fill="#e2e2f8" stroke="#5a60c8" stroke-width="1.4" />
<rect x="1257.6" y="313.3" width="5.2" height="5.2" fill="#e2e2f8" stroke="#5a60c8" stroke-width="1.4" />
<rect x="1260.3" y="316.8" width="5.2" height="5.2" fill="#e2e2f8" stroke="#5a60c8" stroke-width="1.4" />
<rect x="1263" y="320.5" width="5.2" height="5.2" fill="#e2e2f8" stroke="#5a60c8" stroke-width="1.4" />
<rect x="1265.7" y="334.7" width="5.2" height="5.2" fill="#e2e2f8" stroke="#5a60c8" stroke-width="1.4" />
<rect x="1268.4" y="352.7" width="5.2" height="5.2" fill="#e2e2f8" stroke="#5a60c8" stroke-width="1.4" />
<rect x="1271.1" y="375.8" width="5.2" height="5.2" fill="#e2e2f8" stroke="#5a60c8" stroke-width="1.4" />
<rect x="1273.8" y="396.3" width="5.2" height="5.2" fill="#e2e2f8" stroke="#5a60c8" stroke-width="1.4" />
<rect x="1276.5" y="407.5" width="5.2" height="5.2" fill="#e2e2f8" stroke="#5a60c8" stroke-width="1.4" />
<rect x="1279.2" y="413.8" width="5.2" height="5.2" fill="#e2e2f8" stroke="#5a60c8" stroke-width="1.4" />
<rect x="1281.9" y="417.2" width="5.2" height="5.2" fill="#e2e2f8" stroke="#5a60c8" stroke-width="1.4" />
<rect x="1284.6" y="420.6" width="5.2" height="5.2" fill="#e2e2f8" stroke="#5a60c8" stroke-width="1.4" />
<rect x="1287.3" y="421.6" width="5.2" height="5.2" fill="#e2e2f8" stroke="#5a60c8" stroke-width="1.4" />
<rect x="1290" y="422.2" width="5.2" height="5.2" fill="#e2e2f8" stroke="#5a60c8" stroke-width="1.4" />
<rect x="1292.7" y="422.9" width="5.2" height="5.2" fill="#e2e2f8" stroke="#5a60c8" stroke-width="1.4" />
<rect x="1295.4" y="423.6" width="5.2" height="5.2" fill="#e2e2f8" stroke="#5a60c8" stroke-width="1.4" />
<rect x="1298.1" y="424.2" width="5.2" height="5.2" fill="#e2e2f8" stroke="#5a60c8" stroke-width="1.4" />
<rect x="1300.8" y="423.2" width="5.2" height="5.2" fill="#e2e2f8" stroke="#5a60c8" stroke-width="1.4" />
<rect x="1303.5" y="421.1" width="5.2" height="5.2" fill="#e2e2f8" stroke="#5a60c8" stroke-width="1.4" />
<rect x="1306.2" y="418.9" width="5.2" height="5.2" fill="#e2e2f8" stroke="#5a60c8" stroke-width="1.4" />
<rect x="1308.9" y="416.8" width="5.2" height="5.2" fill="#e2e2f8" stroke="#5a60c8" stroke-width="1.4" />
<rect x="1311.6" y="414.8" width="5.2" height="5.2" fill="#e2e2f8" stroke="#5a60c8" stroke-width="1.4" />
<rect x="1314.3" y="412.7" width="5.2" height="5.2" fill="#e2e2f8" stroke="#5a60c8" stroke-width="1.4" />
<rect x="1317" y="399.5" width="5.2" height="5.2" fill="#e2e2f8" stroke="#5a60c8" stroke-width="1.4" />
<rect x="1319.7" y="372.7" width="5.2" height="5.2" fill="#e2e2f8" stroke="#5a60c8" stroke-width="1.4" />
<rect x="1322.4" y="350.7" width="5.2" height="5.2" fill="#e2e2f8" stroke="#5a60c8" stroke-width="1.4" />
<rect x="1325.1" y="328.1" width="5.2" height="5.2" fill="#e2e2f8" stroke="#5a60c8" stroke-width="1.4" />
<rect x="1327.8" y="317.4" width="5.2" height="5.2" fill="#e2e2f8" stroke="#5a60c8" stroke-width="1.4" />
<rect x="1330.5" y="310.1" width="5.2" height="5.2" fill="#e2e2f8" stroke="#5a60c8" stroke-width="1.4" />
<rect x="1333.2" y="303.1" width="5.2" height="5.2" fill="#e2e2f8" stroke="#5a60c8" stroke-width="1.4" />
<rect x="1335.9" y="302.6" width="5.2" height="5.2" fill="#e2e2f8" stroke="#5a60c8" stroke-width="1.4" />
<rect x="1338.6" y="302.2" width="5.2" height="5.2" fill="#e2e2f8" stroke="#5a60c8" stroke-width="1.4" />
<rect x="1341.3" y="301.7" width="5.2" height="5.2" fill="#e2e2f8" stroke="#5a60c8" stroke-width="1.4" />
<rect x="1344" y="301.4" width="5.2" height="5.2" fill="#e2e2f8" stroke="#5a60c8" stroke-width="1.4" />
<rect x="1346.7" y="303" width="5.2" height="5.2" fill="#e2e2f8" stroke="#5a60c8" stroke-width="1.4" />
<rect x="1349.4" y="304.7" width="5.2" height="5.2" fill="#e2e2f8" stroke="#5a60c8" stroke-width="1.4" />
<rect x="1352.1" y="306.3" width="5.2" height="5.2" fill="#e2e2f8" stroke="#5a60c8" stroke-width="1.4" />
<rect x="1354.8" y="305.8" width="5.2" height="5.2" fill="#e2e2f8" stroke="#5a60c8" stroke-width="1.4" />
<rect x="1357.5" y="304.7" width="5.2" height="5.2" fill="#e2e2f8" stroke="#5a60c8" stroke-width="1.4" />
<rect x="1360.2" y="303.5" width="5.2" height="5.2" fill="#e2e2f8" stroke="#5a60c8" stroke-width="1.4" />
<rect x="1362.9" y="302.3" width="5.2" height="5.2" fill="#e2e2f8" stroke="#5a60c8" stroke-width="1.4" />
<rect x="1365.6" y="301.9" width="5.2" height="5.2" fill="#e2e2f8" stroke="#5a60c8" stroke-width="1.4" />
<rect x="1368.3" y="307.4" width="5.2" height="5.2" fill="#e2e2f8" stroke="#5a60c8" stroke-width="1.4" />
<rect x="1371" y="332.9" width="5.2" height="5.2" fill="#e2e2f8" stroke="#5a60c8" stroke-width="1.4" />
<rect x="1373.7" y="361.1" width="5.2" height="5.2" fill="#e2e2f8" stroke="#5a60c8" stroke-width="1.4" />
<rect x="1376.4" y="378.7" width="5.2" height="5.2" fill="#e2e2f8" stroke="#5a60c8" stroke-width="1.4" />
<rect x="1379.1" y="393.8" width="5.2" height="5.2" fill="#e2e2f8" stroke="#5a60c8" stroke-width="1.4" />
<rect x="1381.8" y="407.4" width="5.2" height="5.2" fill="#e2e2f8" stroke="#5a60c8" stroke-width="1.4" />
<rect x="1384.5" y="413.9" width="5.2" height="5.2" fill="#e2e2f8" stroke="#5a60c8" stroke-width="1.4" />
<rect x="1387.2" y="414.1" width="5.2" height="5.2" fill="#e2e2f8" stroke="#5a60c8" stroke-width="1.4" />
<rect x="1389.9" y="414.2" width="5.2" height="5.2" fill="#e2e2f8" stroke="#5a60c8" stroke-width="1.4" />
<rect x="1392.6" y="414.4" width="5.2" height="5.2" fill="#e2e2f8" stroke="#5a60c8" stroke-width="1.4" />
<rect x="1395.3" y="414.6" width="5.2" height="5.2" fill="#e2e2f8" stroke="#5a60c8" stroke-width="1.4" />
<rect x="1398" y="414.7" width="5.2" height="5.2" fill="#e2e2f8" stroke="#5a60c8" stroke-width="1.4" />
<rect x="1400.7" y="414.7" width="5.2" height="5.2" fill="#e2e2f8" stroke="#5a60c8" stroke-width="1.4" />
<rect x="1403.4" y="414.7" width="5.2" height="5.2" fill="#e2e2f8" stroke="#5a60c8" stroke-width="1.4" />
<rect x="1406.1" y="414.7" width="5.2" height="5.2" fill="#e2e2f8" stroke="#5a60c8" stroke-width="1.4" />
<rect x="1408.8" y="414.7" width="5.2" height="5.2" fill="#e2e2f8" stroke="#5a60c8" stroke-width="1.4" />
<rect x="1411.5" y="414.7" width="5.2" height="5.2" fill="#e2e2f8" stroke="#5a60c8" stroke-width="1.4" />
<polyline points="903.8,617.3 905.5,536.6 912.5,533.1 937,527.9 938.8,513.9 952.8,507.7 955.5,499.8 956.3,603.2 959.8,605.9 964.2,592.7 970.4,591 1003.7,580.5 1005.4,555.9 1006.3,520.9 1012.4,508.6 1014.2,503.3 1058,493.7 1060.6,601.5 1064.1,608.5 1066.7,612 1089.5,606.7 1091.3,598 1105.3,592.7 1107.9,587.5 1108.8,557.7 1112.3,526.1 1115.8,515.6 1129.8,512.1 1131.6,503.3 1150,492.1 1159.8,488.6 1161.6,492.1 1163.4,597.5 1166,600.2 1196.4,592.1 1197.3,581.4 1208.9,576.1 1210.7,570.7 1213.4,543.9 1217.9,529.6 1222.3,524.3 1225,510 1239.3,504.6 1257.1,501.1 1262.5,488.6 1264.3,492.1 1267,608.2 1275,609.1 1280.4,593.9 1310.7,585 1313.4,576.1 1317,561.8 1322.3,535 1353.6,526.1 1356.3,513.6 1365.2,510 1367,502.9 1367.9,506.4 1368.8,618.9 1376.8,617.1 1379.5,602.9 1415,595.4" fill="none" stroke="#1d6e1d" stroke-width="2.8" stroke-linejoin="round" stroke-linecap="round" />
<rect x="901.4" y="614.9" width="4.8" height="4.8" fill="#e4f6e0" stroke="#62b858" stroke-width="1.3" />
<rect x="904.1" y="533.7" width="4.8" height="4.8" fill="#e4f6e0" stroke="#62b858" stroke-width="1.3" />
<rect x="906.8" y="532.4" width="4.8" height="4.8" fill="#e4f6e0" stroke="#62b858" stroke-width="1.3" />
<rect x="909.5" y="531" width="4.8" height="4.8" fill="#e4f6e0" stroke="#62b858" stroke-width="1.3" />
<rect x="912.2" y="530.3" width="4.8" height="4.8" fill="#e4f6e0" stroke="#62b858" stroke-width="1.3" />
<rect x="914.9" y="529.7" width="4.8" height="4.8" fill="#e4f6e0" stroke="#62b858" stroke-width="1.3" />
<rect x="917.6" y="529.1" width="4.8" height="4.8" fill="#e4f6e0" stroke="#62b858" stroke-width="1.3" />
<rect x="920.3" y="528.5" width="4.8" height="4.8" fill="#e4f6e0" stroke="#62b858" stroke-width="1.3" />
<rect x="923" y="528" width="4.8" height="4.8" fill="#e4f6e0" stroke="#62b858" stroke-width="1.3" />
<rect x="925.7" y="527.4" width="4.8" height="4.8" fill="#e4f6e0" stroke="#62b858" stroke-width="1.3" />
<rect x="928.4" y="526.8" width="4.8" height="4.8" fill="#e4f6e0" stroke="#62b858" stroke-width="1.3" />
<rect x="931.1" y="526.2" width="4.8" height="4.8" fill="#e4f6e0" stroke="#62b858" stroke-width="1.3" />
<rect x="933.8" y="525.7" width="4.8" height="4.8" fill="#e4f6e0" stroke="#62b858" stroke-width="1.3" />
<rect x="936.5" y="511.5" width="4.8" height="4.8" fill="#e4f6e0" stroke="#62b858" stroke-width="1.3" />
<rect x="939.2" y="510.3" width="4.8" height="4.8" fill="#e4f6e0" stroke="#62b858" stroke-width="1.3" />
<rect x="941.9" y="509.1" width="4.8" height="4.8" fill="#e4f6e0" stroke="#62b858" stroke-width="1.3" />
<rect x="944.6" y="507.9" width="4.8" height="4.8" fill="#e4f6e0" stroke="#62b858" stroke-width="1.3" />
<rect x="947.3" y="506.7" width="4.8" height="4.8" fill="#e4f6e0" stroke="#62b858" stroke-width="1.3" />
<rect x="950" y="505.5" width="4.8" height="4.8" fill="#e4f6e0" stroke="#62b858" stroke-width="1.3" />
<rect x="952.7" y="498.6" width="4.8" height="4.8" fill="#e4f6e0" stroke="#62b858" stroke-width="1.3" />
<rect x="955.4" y="602" width="4.8" height="4.8" fill="#e4f6e0" stroke="#62b858" stroke-width="1.3" />
<rect x="958.1" y="601.4" width="4.8" height="4.8" fill="#e4f6e0" stroke="#62b858" stroke-width="1.3" />
<rect x="960.8" y="593.3" width="4.8" height="4.8" fill="#e4f6e0" stroke="#62b858" stroke-width="1.3" />
<rect x="963.5" y="589.8" width="4.8" height="4.8" fill="#e4f6e0" stroke="#62b858" stroke-width="1.3" />
<rect x="966.2" y="589.1" width="4.8" height="4.8" fill="#e4f6e0" stroke="#62b858" stroke-width="1.3" />
<rect x="968.9" y="588.3" width="4.8" height="4.8" fill="#e4f6e0" stroke="#62b858" stroke-width="1.3" />
<rect x="971.6" y="587.5" width="4.8" height="4.8" fill="#e4f6e0" stroke="#62b858" stroke-width="1.3" />
<rect x="974.3" y="586.6" width="4.8" height="4.8" fill="#e4f6e0" stroke="#62b858" stroke-width="1.3" />
<rect x="977" y="585.8" width="4.8" height="4.8" fill="#e4f6e0" stroke="#62b858" stroke-width="1.3" />
<rect x="979.7" y="584.9" width="4.8" height="4.8" fill="#e4f6e0" stroke="#62b858" stroke-width="1.3" />
<rect x="982.4" y="584.1" width="4.8" height="4.8" fill="#e4f6e0" stroke="#62b858" stroke-width="1.3" />
<rect x="985.1" y="583.2" width="4.8" height="4.8" fill="#e4f6e0" stroke="#62b858" stroke-width="1.3" />
<rect x="987.8" y="582.4" width="4.8" height="4.8" fill="#e4f6e0" stroke="#62b858" stroke-width="1.3" />
<rect x="990.5" y="581.5" width="4.8" height="4.8" fill="#e4f6e0" stroke="#62b858" stroke-width="1.3" />
<rect x="993.2" y="580.7" width="4.8" height="4.8" fill="#e4f6e0" stroke="#62b858" stroke-width="1.3" />
<rect x="995.9" y="579.8" width="4.8" height="4.8" fill="#e4f6e0" stroke="#62b858" stroke-width="1.3" />
<rect x="998.6" y="579" width="4.8" height="4.8" fill="#e4f6e0" stroke="#62b858" stroke-width="1.3" />
<rect x="1001.3" y="578.1" width="4.8" height="4.8" fill="#e4f6e0" stroke="#62b858" stroke-width="1.3" />
<rect x="1004" y="518.3" width="4.8" height="4.8" fill="#e4f6e0" stroke="#62b858" stroke-width="1.3" />
<rect x="1006.7" y="512.9" width="4.8" height="4.8" fill="#e4f6e0" stroke="#62b858" stroke-width="1.3" />
<rect x="1009.4" y="507.4" width="4.8" height="4.8" fill="#e4f6e0" stroke="#62b858" stroke-width="1.3" />
<rect x="1012.1" y="500.8" width="4.8" height="4.8" fill="#e4f6e0" stroke="#62b858" stroke-width="1.3" />
<rect x="1014.8" y="500.2" width="4.8" height="4.8" fill="#e4f6e0" stroke="#62b858" stroke-width="1.3" />
<rect x="1017.5" y="499.7" width="4.8" height="4.8" fill="#e4f6e0" stroke="#62b858" stroke-width="1.3" />
<rect x="1020.2" y="499.1" width="4.8" height="4.8" fill="#e4f6e0" stroke="#62b858" stroke-width="1.3" />
<rect x="1022.9" y="498.5" width="4.8" height="4.8" fill="#e4f6e0" stroke="#62b858" stroke-width="1.3" />
<rect x="1025.6" y="497.9" width="4.8" height="4.8" fill="#e4f6e0" stroke="#62b858" stroke-width="1.3" />
<rect x="1028.3" y="497.3" width="4.8" height="4.8" fill="#e4f6e0" stroke="#62b858" stroke-width="1.3" />
<rect x="1031" y="496.7" width="4.8" height="4.8" fill="#e4f6e0" stroke="#62b858" stroke-width="1.3" />
<rect x="1033.7" y="496.1" width="4.8" height="4.8" fill="#e4f6e0" stroke="#62b858" stroke-width="1.3" />
<rect x="1036.4" y="495.5" width="4.8" height="4.8" fill="#e4f6e0" stroke="#62b858" stroke-width="1.3" />
<rect x="1039.1" y="494.9" width="4.8" height="4.8" fill="#e4f6e0" stroke="#62b858" stroke-width="1.3" />
<rect x="1041.8" y="494.3" width="4.8" height="4.8" fill="#e4f6e0" stroke="#62b858" stroke-width="1.3" />
<rect x="1044.5" y="493.7" width="4.8" height="4.8" fill="#e4f6e0" stroke="#62b858" stroke-width="1.3" />
<rect x="1047.2" y="493.1" width="4.8" height="4.8" fill="#e4f6e0" stroke="#62b858" stroke-width="1.3" />
<rect x="1049.9" y="492.5" width="4.8" height="4.8" fill="#e4f6e0" stroke="#62b858" stroke-width="1.3" />
<rect x="1052.6" y="492" width="4.8" height="4.8" fill="#e4f6e0" stroke="#62b858" stroke-width="1.3" />
<rect x="1055.3" y="491.4" width="4.8" height="4.8" fill="#e4f6e0" stroke="#62b858" stroke-width="1.3" />
<rect x="1058" y="590.8" width="4.8" height="4.8" fill="#e4f6e0" stroke="#62b858" stroke-width="1.3" />
<rect x="1060.7" y="604.1" width="4.8" height="4.8" fill="#e4f6e0" stroke="#62b858" stroke-width="1.3" />
<rect x="1063.4" y="608.4" width="4.8" height="4.8" fill="#e4f6e0" stroke="#62b858" stroke-width="1.3" />
<rect x="1066.1" y="609.2" width="4.8" height="4.8" fill="#e4f6e0" stroke="#62b858" stroke-width="1.3" />
<rect x="1068.8" y="608.6" width="4.8" height="4.8" fill="#e4f6e0" stroke="#62b858" stroke-width="1.3" />
<rect x="1071.5" y="607.9" width="4.8" height="4.8" fill="#e4f6e0" stroke="#62b858" stroke-width="1.3" />
<rect x="1074.2" y="607.3" width="4.8" height="4.8" fill="#e4f6e0" stroke="#62b858" stroke-width="1.3" />
<rect x="1076.9" y="606.7" width="4.8" height="4.8" fill="#e4f6e0" stroke="#62b858" stroke-width="1.3" />
<rect x="1079.6" y="606" width="4.8" height="4.8" fill="#e4f6e0" stroke="#62b858" stroke-width="1.3" />
<rect x="1082.3" y="605.4" width="4.8" height="4.8" fill="#e4f6e0" stroke="#62b858" stroke-width="1.3" />
<rect x="1085" y="604.8" width="4.8" height="4.8" fill="#e4f6e0" stroke="#62b858" stroke-width="1.3" />
<rect x="1087.7" y="601.4" width="4.8" height="4.8" fill="#e4f6e0" stroke="#62b858" stroke-width="1.3" />
<rect x="1090.4" y="595" width="4.8" height="4.8" fill="#e4f6e0" stroke="#62b858" stroke-width="1.3" />
<rect x="1093.1" y="594" width="4.8" height="4.8" fill="#e4f6e0" stroke="#62b858" stroke-width="1.3" />
<rect x="1095.8" y="593" width="4.8" height="4.8" fill="#e4f6e0" stroke="#62b858" stroke-width="1.3" />
<rect x="1098.5" y="592" width="4.8" height="4.8" fill="#e4f6e0" stroke="#62b858" stroke-width="1.3" />
<rect x="1101.2" y="590.9" width="4.8" height="4.8" fill="#e4f6e0" stroke="#62b858" stroke-width="1.3" />
<rect x="1103.9" y="588.3" width="4.8" height="4.8" fill="#e4f6e0" stroke="#62b858" stroke-width="1.3" />
<rect x="1106.6" y="553.5" width="4.8" height="4.8" fill="#e4f6e0" stroke="#62b858" stroke-width="1.3" />
<rect x="1109.3" y="529.1" width="4.8" height="4.8" fill="#e4f6e0" stroke="#62b858" stroke-width="1.3" />
<rect x="1112" y="517.4" width="4.8" height="4.8" fill="#e4f6e0" stroke="#62b858" stroke-width="1.3" />
<rect x="1114.7" y="512.9" width="4.8" height="4.8" fill="#e4f6e0" stroke="#62b858" stroke-width="1.3" />
<rect x="1117.4" y="512.2" width="4.8" height="4.8" fill="#e4f6e0" stroke="#62b858" stroke-width="1.3" />
<rect x="1120.1" y="511.5" width="4.8" height="4.8" fill="#e4f6e0" stroke="#62b858" stroke-width="1.3" />
<rect x="1122.8" y="510.8" width="4.8" height="4.8" fill="#e4f6e0" stroke="#62b858" stroke-width="1.3" />
<rect x="1125.5" y="510.2" width="4.8" height="4.8" fill="#e4f6e0" stroke="#62b858" stroke-width="1.3" />
<rect x="1128.2" y="505.8" width="4.8" height="4.8" fill="#e4f6e0" stroke="#62b858" stroke-width="1.3" />
<rect x="1130.9" y="499.9" width="4.8" height="4.8" fill="#e4f6e0" stroke="#62b858" stroke-width="1.3" />
<rect x="1133.6" y="498.2" width="4.8" height="4.8" fill="#e4f6e0" stroke="#62b858" stroke-width="1.3" />
<rect x="1136.3" y="496.6" width="4.8" height="4.8" fill="#e4f6e0" stroke="#62b858" stroke-width="1.3" />
<rect x="1139" y="494.9" width="4.8" height="4.8" fill="#e4f6e0" stroke="#62b858" stroke-width="1.3" />
<rect x="1141.7" y="493.3" width="4.8" height="4.8" fill="#e4f6e0" stroke="#62b858" stroke-width="1.3" />
<rect x="1144.4" y="491.6" width="4.8" height="4.8" fill="#e4f6e0" stroke="#62b858" stroke-width="1.3" />
<rect x="1147.1" y="490" width="4.8" height="4.8" fill="#e4f6e0" stroke="#62b858" stroke-width="1.3" />
<rect x="1149.8" y="488.9" width="4.8" height="4.8" fill="#e4f6e0" stroke="#62b858" stroke-width="1.3" />
<rect x="1152.5" y="487.9" width="4.8" height="4.8" fill="#e4f6e0" stroke="#62b858" stroke-width="1.3" />
<rect x="1155.2" y="487" width="4.8" height="4.8" fill="#e4f6e0" stroke="#62b858" stroke-width="1.3" />
<rect x="1157.9" y="487.2" width="4.8" height="4.8" fill="#e4f6e0" stroke="#62b858" stroke-width="1.3" />
<rect x="1160.6" y="571.7" width="4.8" height="4.8" fill="#e4f6e0" stroke="#62b858" stroke-width="1.3" />
<rect x="1163.3" y="597.5" width="4.8" height="4.8" fill="#e4f6e0" stroke="#62b858" stroke-width="1.3" />
<rect x="1166" y="597.2" width="4.8" height="4.8" fill="#e4f6e0" stroke="#62b858" stroke-width="1.3" />
<rect x="1168.7" y="596.4" width="4.8" height="4.8" fill="#e4f6e0" stroke="#62b858" stroke-width="1.3" />
<rect x="1171.4" y="595.7" width="4.8" height="4.8" fill="#e4f6e0" stroke="#62b858" stroke-width="1.3" />
<rect x="1174.1" y="595" width="4.8" height="4.8" fill="#e4f6e0" stroke="#62b858" stroke-width="1.3" />
<rect x="1176.8" y="594.3" width="4.8" height="4.8" fill="#e4f6e0" stroke="#62b858" stroke-width="1.3" />
<rect x="1179.5" y="593.6" width="4.8" height="4.8" fill="#e4f6e0" stroke="#62b858" stroke-width="1.3" />
<rect x="1182.2" y="592.8" width="4.8" height="4.8" fill="#e4f6e0" stroke="#62b858" stroke-width="1.3" />
<rect x="1184.9" y="592.1" width="4.8" height="4.8" fill="#e4f6e0" stroke="#62b858" stroke-width="1.3" />
<rect x="1187.6" y="591.4" width="4.8" height="4.8" fill="#e4f6e0" stroke="#62b858" stroke-width="1.3" />
<rect x="1190.3" y="590.7" width="4.8" height="4.8" fill="#e4f6e0" stroke="#62b858" stroke-width="1.3" />
<rect x="1193" y="590" width="4.8" height="4.8" fill="#e4f6e0" stroke="#62b858" stroke-width="1.3" />
<rect x="1195.7" y="578.6" width="4.8" height="4.8" fill="#e4f6e0" stroke="#62b858" stroke-width="1.3" />
<rect x="1198.4" y="577.4" width="4.8" height="4.8" fill="#e4f6e0" stroke="#62b858" stroke-width="1.3" />
<rect x="1201.1" y="576.2" width="4.8" height="4.8" fill="#e4f6e0" stroke="#62b858" stroke-width="1.3" />
<rect x="1203.8" y="574.9" width="4.8" height="4.8" fill="#e4f6e0" stroke="#62b858" stroke-width="1.3" />
<rect x="1206.5" y="573.7" width="4.8" height="4.8" fill="#e4f6e0" stroke="#62b858" stroke-width="1.3" />
<rect x="1209.2" y="559.4" width="4.8" height="4.8" fill="#e4f6e0" stroke="#62b858" stroke-width="1.3" />
<rect x="1211.9" y="538.6" width="4.8" height="4.8" fill="#e4f6e0" stroke="#62b858" stroke-width="1.3" />
<rect x="1214.6" y="530.1" width="4.8" height="4.8" fill="#e4f6e0" stroke="#62b858" stroke-width="1.3" />
<rect x="1217.3" y="525" width="4.8" height="4.8" fill="#e4f6e0" stroke="#62b858" stroke-width="1.3" />
<rect x="1220" y="521.4" width="4.8" height="4.8" fill="#e4f6e0" stroke="#62b858" stroke-width="1.3" />
<rect x="1222.7" y="507.6" width="4.8" height="4.8" fill="#e4f6e0" stroke="#62b858" stroke-width="1.3" />
<rect x="1225.4" y="506.5" width="4.8" height="4.8" fill="#e4f6e0" stroke="#62b858" stroke-width="1.3" />
<rect x="1228.1" y="505.5" width="4.8" height="4.8" fill="#e4f6e0" stroke="#62b858" stroke-width="1.3" />
<rect x="1230.8" y="504.5" width="4.8" height="4.8" fill="#e4f6e0" stroke="#62b858" stroke-width="1.3" />
<rect x="1233.5" y="503.5" width="4.8" height="4.8" fill="#e4f6e0" stroke="#62b858" stroke-width="1.3" />
<rect x="1236.2" y="502.5" width="4.8" height="4.8" fill="#e4f6e0" stroke="#62b858" stroke-width="1.3" />
<rect x="1238.9" y="501.8" width="4.8" height="4.8" fill="#e4f6e0" stroke="#62b858" stroke-width="1.3" />
<rect x="1241.6" y="501.3" width="4.8" height="4.8" fill="#e4f6e0" stroke="#62b858" stroke-width="1.3" />
<rect x="1244.3" y="500.7" width="4.8" height="4.8" fill="#e4f6e0" stroke="#62b858" stroke-width="1.3" />
<rect x="1247" y="500.2" width="4.8" height="4.8" fill="#e4f6e0" stroke="#62b858" stroke-width="1.3" />
<rect x="1249.7" y="499.7" width="4.8" height="4.8" fill="#e4f6e0" stroke="#62b858" stroke-width="1.3" />
<rect x="1252.4" y="499.2" width="4.8" height="4.8" fill="#e4f6e0" stroke="#62b858" stroke-width="1.3" />
<rect x="1255.1" y="497.8" width="4.8" height="4.8" fill="#e4f6e0" stroke="#62b858" stroke-width="1.3" />
<rect x="1257.8" y="491.5" width="4.8" height="4.8" fill="#e4f6e0" stroke="#62b858" stroke-width="1.3" />
<rect x="1260.5" y="487" width="4.8" height="4.8" fill="#e4f6e0" stroke="#62b858" stroke-width="1.3" />
<rect x="1263.2" y="545.6" width="4.8" height="4.8" fill="#e4f6e0" stroke="#62b858" stroke-width="1.3" />
<rect x="1265.9" y="605.9" width="4.8" height="4.8" fill="#e4f6e0" stroke="#62b858" stroke-width="1.3" />
<rect x="1268.6" y="606.3" width="4.8" height="4.8" fill="#e4f6e0" stroke="#62b858" stroke-width="1.3" />
<rect x="1271.3" y="606.6" width="4.8" height="4.8" fill="#e4f6e0" stroke="#62b858" stroke-width="1.3" />
<rect x="1274" y="602.8" width="4.8" height="4.8" fill="#e4f6e0" stroke="#62b858" stroke-width="1.3" />
<rect x="1276.7" y="595.2" width="4.8" height="4.8" fill="#e4f6e0" stroke="#62b858" stroke-width="1.3" />
<rect x="1279.4" y="591.1" width="4.8" height="4.8" fill="#e4f6e0" stroke="#62b858" stroke-width="1.3" />
<rect x="1282.1" y="590.3" width="4.8" height="4.8" fill="#e4f6e0" stroke="#62b858" stroke-width="1.3" />
<rect x="1284.8" y="589.5" width="4.8" height="4.8" fill="#e4f6e0" stroke="#62b858" stroke-width="1.3" />
<rect x="1287.5" y="588.7" width="4.8" height="4.8" fill="#e4f6e0" stroke="#62b858" stroke-width="1.3" />
<rect x="1290.2" y="587.9" width="4.8" height="4.8" fill="#e4f6e0" stroke="#62b858" stroke-width="1.3" />
<rect x="1292.9" y="587.1" width="4.8" height="4.8" fill="#e4f6e0" stroke="#62b858" stroke-width="1.3" />
<rect x="1295.6" y="586.3" width="4.8" height="4.8" fill="#e4f6e0" stroke="#62b858" stroke-width="1.3" />
<rect x="1298.3" y="585.5" width="4.8" height="4.8" fill="#e4f6e0" stroke="#62b858" stroke-width="1.3" />
<rect x="1301" y="584.7" width="4.8" height="4.8" fill="#e4f6e0" stroke="#62b858" stroke-width="1.3" />
<rect x="1303.7" y="584" width="4.8" height="4.8" fill="#e4f6e0" stroke="#62b858" stroke-width="1.3" />
<rect x="1306.4" y="583.2" width="4.8" height="4.8" fill="#e4f6e0" stroke="#62b858" stroke-width="1.3" />
<rect x="1309.1" y="580" width="4.8" height="4.8" fill="#e4f6e0" stroke="#62b858" stroke-width="1.3" />
<rect x="1311.8" y="570.5" width="4.8" height="4.8" fill="#e4f6e0" stroke="#62b858" stroke-width="1.3" />
<rect x="1314.5" y="559.8" width="4.8" height="4.8" fill="#e4f6e0" stroke="#62b858" stroke-width="1.3" />
<rect x="1317.2" y="546.3" width="4.8" height="4.8" fill="#e4f6e0" stroke="#62b858" stroke-width="1.3" />
<rect x="1319.9" y="532.6" width="4.8" height="4.8" fill="#e4f6e0" stroke="#62b858" stroke-width="1.3" />
<rect x="1322.6" y="531.8" width="4.8" height="4.8" fill="#e4f6e0" stroke="#62b858" stroke-width="1.3" />
<rect x="1325.3" y="531.1" width="4.8" height="4.8" fill="#e4f6e0" stroke="#62b858" stroke-width="1.3" />
<rect x="1328" y="530.3" width="4.8" height="4.8" fill="#e4f6e0" stroke="#62b858" stroke-width="1.3" />
<rect x="1330.7" y="529.5" width="4.8" height="4.8" fill="#e4f6e0" stroke="#62b858" stroke-width="1.3" />
<rect x="1333.4" y="528.8" width="4.8" height="4.8" fill="#e4f6e0" stroke="#62b858" stroke-width="1.3" />
<rect x="1336.1" y="528" width="4.8" height="4.8" fill="#e4f6e0" stroke="#62b858" stroke-width="1.3" />
<rect x="1338.8" y="527.2" width="4.8" height="4.8" fill="#e4f6e0" stroke="#62b858" stroke-width="1.3" />
<rect x="1341.5" y="526.5" width="4.8" height="4.8" fill="#e4f6e0" stroke="#62b858" stroke-width="1.3" />
<rect x="1344.2" y="525.7" width="4.8" height="4.8" fill="#e4f6e0" stroke="#62b858" stroke-width="1.3" />
<rect x="1346.9" y="524.9" width="4.8" height="4.8" fill="#e4f6e0" stroke="#62b858" stroke-width="1.3" />
<rect x="1349.6" y="524.2" width="4.8" height="4.8" fill="#e4f6e0" stroke="#62b858" stroke-width="1.3" />
<rect x="1352.3" y="518.6" width="4.8" height="4.8" fill="#e4f6e0" stroke="#62b858" stroke-width="1.3" />
<rect x="1355" y="510.8" width="4.8" height="4.8" fill="#e4f6e0" stroke="#62b858" stroke-width="1.3" />
<rect x="1357.7" y="509.7" width="4.8" height="4.8" fill="#e4f6e0" stroke="#62b858" stroke-width="1.3" />
<rect x="1360.4" y="508.6" width="4.8" height="4.8" fill="#e4f6e0" stroke="#62b858" stroke-width="1.3" />
<rect x="1363.1" y="506.4" width="4.8" height="4.8" fill="#e4f6e0" stroke="#62b858" stroke-width="1.3" />
<rect x="1365.8" y="541.5" width="4.8" height="4.8" fill="#e4f6e0" stroke="#62b858" stroke-width="1.3" />
<rect x="1368.5" y="616" width="4.8" height="4.8" fill="#e4f6e0" stroke="#62b858" stroke-width="1.3" />
<rect x="1371.2" y="615.4" width="4.8" height="4.8" fill="#e4f6e0" stroke="#62b858" stroke-width="1.3" />
<rect x="1373.9" y="614.8" width="4.8" height="4.8" fill="#e4f6e0" stroke="#62b858" stroke-width="1.3" />
<rect x="1376.6" y="603.1" width="4.8" height="4.8" fill="#e4f6e0" stroke="#62b858" stroke-width="1.3" />
<rect x="1379.3" y="600" width="4.8" height="4.8" fill="#e4f6e0" stroke="#62b858" stroke-width="1.3" />
<rect x="1382" y="599.5" width="4.8" height="4.8" fill="#e4f6e0" stroke="#62b858" stroke-width="1.3" />
<rect x="1384.7" y="598.9" width="4.8" height="4.8" fill="#e4f6e0" stroke="#62b858" stroke-width="1.3" />
<rect x="1387.4" y="598.3" width="4.8" height="4.8" fill="#e4f6e0" stroke="#62b858" stroke-width="1.3" />
<rect x="1390.1" y="597.8" width="4.8" height="4.8" fill="#e4f6e0" stroke="#62b858" stroke-width="1.3" />
<rect x="1392.8" y="597.2" width="4.8" height="4.8" fill="#e4f6e0" stroke="#62b858" stroke-width="1.3" />
<rect x="1395.5" y="596.6" width="4.8" height="4.8" fill="#e4f6e0" stroke="#62b858" stroke-width="1.3" />
<rect x="1398.2" y="596" width="4.8" height="4.8" fill="#e4f6e0" stroke="#62b858" stroke-width="1.3" />
<rect x="1400.9" y="595.5" width="4.8" height="4.8" fill="#e4f6e0" stroke="#62b858" stroke-width="1.3" />
<rect x="1403.6" y="594.9" width="4.8" height="4.8" fill="#e4f6e0" stroke="#62b858" stroke-width="1.3" />
<rect x="1406.3" y="594.3" width="4.8" height="4.8" fill="#e4f6e0" stroke="#62b858" stroke-width="1.3" />
<rect x="1409" y="593.8" width="4.8" height="4.8" fill="#e4f6e0" stroke="#62b858" stroke-width="1.3" />
<rect x="1411.7" y="593.2" width="4.8" height="4.8" fill="#e4f6e0" stroke="#62b858" stroke-width="1.3" />
<polyline points="903.8,617.3 905.5,536.6 912.5,533.1 937,527.9 938.8,513.9 952.8,507.7 955.5,499.8 956.3,603.2 959.8,605.9 964.2,592.7 970.4,591 1003.7,580.5 1005.4,555.9 1006.3,520.9 1012.4,508.6 1014.2,503.3 1058,493.7 1060.6,601.5 1064.1,608.5 1066.7,612 1089.5,606.7 1091.3,598 1105.3,592.7 1107.9,587.5 1108.8,557.7 1112.3,526.1 1115.8,515.6 1129.8,512.1 1131.6,503.3 1150,492.1 1159.8,488.6 1161.6,492.1 1163.4,597.5 1166,600.2 1196.4,592.1 1197.3,581.4 1208.9,576.1 1210.7,570.7 1213.4,543.9 1217.9,529.6 1222.3,524.3 1225,510 1239.3,504.6 1257.1,501.1 1262.5,488.6 1264.3,492.1 1267,608.2 1275,609.1 1280.4,593.9 1310.7,585 1313.4,576.1 1317,561.8 1322.3,535 1353.6,526.1 1356.3,513.6 1365.2,510 1367,502.9 1367.9,506.4 1368.8,618.9 1376.8,617.1 1379.5,602.9 1415,595.4" fill="none" stroke="#1d6e1d" stroke-width="1.4" stroke-linejoin="round" stroke-linecap="round" opacity="0.75"/>
<line x1="902.7" y1="678.4" x2="953.2" y2="678.4" stroke="#111" stroke-width="4" stroke-linecap="butt" />
<line x1="953.2" y1="794.6" x2="1004.7" y2="794.6" stroke="#111" stroke-width="4" stroke-linecap="butt" />
<line x1="953.2" y1="678.4" x2="954.7" y2="794.6" stroke="#111" stroke-width="1.2" stroke-linecap="butt" />
<line x1="1004.7" y1="678.4" x2="1056.2" y2="678.4" stroke="#111" stroke-width="4" stroke-linecap="butt" />
<line x1="1056.2" y1="794.6" x2="1107.7" y2="794.6" stroke="#111" stroke-width="4" stroke-linecap="butt" />
<line x1="1056.2" y1="678.4" x2="1057.7" y2="794.6" stroke="#111" stroke-width="1.2" stroke-linecap="butt" />
<line x1="1004.2" y1="794.6" x2="1004.7" y2="678.4" stroke="#111" stroke-width="1.2" stroke-linecap="butt" />
<line x1="1107.7" y1="678.4" x2="1159.2" y2="678.4" stroke="#111" stroke-width="4" stroke-linecap="butt" />
<line x1="1159.2" y1="794.6" x2="1210.7" y2="794.6" stroke="#111" stroke-width="4" stroke-linecap="butt" />
<line x1="1159.2" y1="678.4" x2="1160.7" y2="794.6" stroke="#111" stroke-width="1.2" stroke-linecap="butt" />
<line x1="1107.2" y1="794.6" x2="1107.7" y2="678.4" stroke="#111" stroke-width="1.2" stroke-linecap="butt" />
<line x1="1210.7" y1="678.4" x2="1262.2" y2="678.4" stroke="#111" stroke-width="4" stroke-linecap="butt" />
<line x1="1262.2" y1="794.6" x2="1313.7" y2="794.6" stroke="#111" stroke-width="4" stroke-linecap="butt" />
<line x1="1262.2" y1="678.4" x2="1263.7" y2="794.6" stroke="#111" stroke-width="1.2" stroke-linecap="butt" />
<line x1="1210.2" y1="794.6" x2="1210.7" y2="678.4" stroke="#111" stroke-width="1.2" stroke-linecap="butt" />
<line x1="1313.7" y1="678.4" x2="1365.2" y2="678.4" stroke="#111" stroke-width="4" stroke-linecap="butt" />
<line x1="1365.2" y1="794.6" x2="1415.7" y2="794.6" stroke="#111" stroke-width="4" stroke-linecap="butt" />
<line x1="1365.2" y1="678.4" x2="1366.7" y2="794.6" stroke="#111" stroke-width="1.2" stroke-linecap="butt" />
<line x1="1313.2" y1="794.6" x2="1313.7" y2="678.4" stroke="#111" stroke-width="1.2" stroke-linecap="butt" />
<line x1="903" y1="676.4" x2="912" y2="676.4" stroke="#111" stroke-width="3" stroke-linecap="butt" />
<polyline points="904,81.8 958,81.8" fill="none" stroke="#e0142a" stroke-width="4" stroke-linejoin="round" stroke-linecap="butt" stroke-dasharray="16 4" />
<text x="960" y="95.3" font-size="32" font-weight="bold" font-style="normal" fill="#1a1a1a" text-anchor="start" textLength="73.5" lengthAdjust="spacingAndGlyphs" >250K</text>
<polyline points="906,271.3 958,271.3" fill="none" stroke="#3040b0" stroke-width="4" stroke-linejoin="round" stroke-linecap="butt" stroke-dasharray="16 4" />
<text x="960" y="283.8" font-size="32" font-weight="bold" font-style="normal" fill="#1a1a1a" text-anchor="start" textLength="73.5" lengthAdjust="spacingAndGlyphs" >300K</text>
<polyline points="904,462.2 958,462.2" fill="none" stroke="#2a9a2a" stroke-width="2.2" stroke-linejoin="round" stroke-linecap="round" />
<rect x="932.2" y="460.4" width="3.5" height="3.5" fill="#e0f8e0" stroke="#2a9a2a" stroke-width="1" />
<text x="961" y="474.5" font-size="32" font-weight="bold" font-style="normal" fill="#1a1a1a" text-anchor="start" textLength="73.5" lengthAdjust="spacingAndGlyphs" >340K</text>
<rect x="902.5" y="58.7" width="514.3" height="770.1" fill="none" stroke="#161616" stroke-width="3" />
<line x1="902.5" y1="252" x2="1416.8" y2="252" stroke="#161616" stroke-width="3" stroke-linecap="butt" />
<line x1="902.5" y1="442.5" x2="1416.8" y2="442.5" stroke="#161616" stroke-width="3" stroke-linecap="butt" />
<line x1="902.5" y1="633.7" x2="1416.8" y2="633.7" stroke="#161616" stroke-width="3" stroke-linecap="butt" />
<line x1="953.2" y1="58.7" x2="953.2" y2="64.7" stroke="#161616" stroke-width="2.6" stroke-linecap="butt" />
<line x1="953.2" y1="252" x2="953.2" y2="246" stroke="#161616" stroke-width="2.6" stroke-linecap="butt" />
<line x1="1004.7" y1="58.7" x2="1004.7" y2="68.7" stroke="#161616" stroke-width="2.6" stroke-linecap="butt" />
<line x1="1004.7" y1="252" x2="1004.7" y2="242" stroke="#161616" stroke-width="2.6" stroke-linecap="butt" />
<line x1="1056.2" y1="58.7" x2="1056.2" y2="64.7" stroke="#161616" stroke-width="2.6" stroke-linecap="butt" />
<line x1="1056.2" y1="252" x2="1056.2" y2="246" stroke="#161616" stroke-width="2.6" stroke-linecap="butt" />
<line x1="1107.7" y1="58.7" x2="1107.7" y2="68.7" stroke="#161616" stroke-width="2.6" stroke-linecap="butt" />
<line x1="1107.7" y1="252" x2="1107.7" y2="242" stroke="#161616" stroke-width="2.6" stroke-linecap="butt" />
<line x1="1159.2" y1="58.7" x2="1159.2" y2="64.7" stroke="#161616" stroke-width="2.6" stroke-linecap="butt" />
<line x1="1159.2" y1="252" x2="1159.2" y2="246" stroke="#161616" stroke-width="2.6" stroke-linecap="butt" />
<line x1="1210.7" y1="58.7" x2="1210.7" y2="68.7" stroke="#161616" stroke-width="2.6" stroke-linecap="butt" />
<line x1="1210.7" y1="252" x2="1210.7" y2="242" stroke="#161616" stroke-width="2.6" stroke-linecap="butt" />
<line x1="1262.2" y1="58.7" x2="1262.2" y2="64.7" stroke="#161616" stroke-width="2.6" stroke-linecap="butt" />
<line x1="1262.2" y1="252" x2="1262.2" y2="246" stroke="#161616" stroke-width="2.6" stroke-linecap="butt" />
<line x1="1313.7" y1="58.7" x2="1313.7" y2="68.7" stroke="#161616" stroke-width="2.6" stroke-linecap="butt" />
<line x1="1313.7" y1="252" x2="1313.7" y2="242" stroke="#161616" stroke-width="2.6" stroke-linecap="butt" />
<line x1="1365.2" y1="58.7" x2="1365.2" y2="64.7" stroke="#161616" stroke-width="2.6" stroke-linecap="butt" />
<line x1="1365.2" y1="252" x2="1365.2" y2="246" stroke="#161616" stroke-width="2.6" stroke-linecap="butt" />
<line x1="953.2" y1="442.5" x2="953.2" y2="436.5" stroke="#161616" stroke-width="2.6" stroke-linecap="butt" />
<line x1="1004.7" y1="442.5" x2="1004.7" y2="432.5" stroke="#161616" stroke-width="2.6" stroke-linecap="butt" />
<line x1="1056.2" y1="442.5" x2="1056.2" y2="436.5" stroke="#161616" stroke-width="2.6" stroke-linecap="butt" />
<line x1="1107.7" y1="442.5" x2="1107.7" y2="432.5" stroke="#161616" stroke-width="2.6" stroke-linecap="butt" />
<line x1="1159.2" y1="442.5" x2="1159.2" y2="436.5" stroke="#161616" stroke-width="2.6" stroke-linecap="butt" />
<line x1="1210.7" y1="442.5" x2="1210.7" y2="432.5" stroke="#161616" stroke-width="2.6" stroke-linecap="butt" />
<line x1="1262.2" y1="442.5" x2="1262.2" y2="436.5" stroke="#161616" stroke-width="2.6" stroke-linecap="butt" />
<line x1="1313.7" y1="442.5" x2="1313.7" y2="432.5" stroke="#161616" stroke-width="2.6" stroke-linecap="butt" />
<line x1="1365.2" y1="442.5" x2="1365.2" y2="436.5" stroke="#161616" stroke-width="2.6" stroke-linecap="butt" />
<line x1="953.2" y1="633.7" x2="953.2" y2="627.7" stroke="#161616" stroke-width="2.6" stroke-linecap="butt" />
<line x1="1004.7" y1="633.7" x2="1004.7" y2="623.7" stroke="#161616" stroke-width="2.6" stroke-linecap="butt" />
<line x1="1056.2" y1="633.7" x2="1056.2" y2="627.7" stroke="#161616" stroke-width="2.6" stroke-linecap="butt" />
<line x1="1107.7" y1="633.7" x2="1107.7" y2="623.7" stroke="#161616" stroke-width="2.6" stroke-linecap="butt" />
<line x1="1159.2" y1="633.7" x2="1159.2" y2="627.7" stroke="#161616" stroke-width="2.6" stroke-linecap="butt" />
<line x1="1210.7" y1="633.7" x2="1210.7" y2="623.7" stroke="#161616" stroke-width="2.6" stroke-linecap="butt" />
<line x1="1262.2" y1="633.7" x2="1262.2" y2="627.7" stroke="#161616" stroke-width="2.6" stroke-linecap="butt" />
<line x1="1313.7" y1="633.7" x2="1313.7" y2="623.7" stroke="#161616" stroke-width="2.6" stroke-linecap="butt" />
<line x1="1365.2" y1="633.7" x2="1365.2" y2="627.7" stroke="#161616" stroke-width="2.6" stroke-linecap="butt" />
<line x1="953.2" y1="828.8" x2="953.2" y2="822.8" stroke="#161616" stroke-width="2.6" stroke-linecap="butt" />
<line x1="1004.7" y1="828.8" x2="1004.7" y2="818.8" stroke="#161616" stroke-width="2.6" stroke-linecap="butt" />
<line x1="1056.2" y1="828.8" x2="1056.2" y2="822.8" stroke="#161616" stroke-width="2.6" stroke-linecap="butt" />
<line x1="1107.7" y1="828.8" x2="1107.7" y2="818.8" stroke="#161616" stroke-width="2.6" stroke-linecap="butt" />
<line x1="1159.2" y1="828.8" x2="1159.2" y2="822.8" stroke="#161616" stroke-width="2.6" stroke-linecap="butt" />
<line x1="1210.7" y1="828.8" x2="1210.7" y2="818.8" stroke="#161616" stroke-width="2.6" stroke-linecap="butt" />
<line x1="1262.2" y1="828.8" x2="1262.2" y2="822.8" stroke="#161616" stroke-width="2.6" stroke-linecap="butt" />
<line x1="1313.7" y1="828.8" x2="1313.7" y2="818.8" stroke="#161616" stroke-width="2.6" stroke-linecap="butt" />
<line x1="1365.2" y1="828.8" x2="1365.2" y2="822.8" stroke="#161616" stroke-width="2.6" stroke-linecap="butt" />
<line x1="902.5" y1="227.3" x2="912.5" y2="227.3" stroke="#161616" stroke-width="2.6" stroke-linecap="butt" />
<line x1="1416.8" y1="227.3" x2="1406.8" y2="227.3" stroke="#161616" stroke-width="2.6" stroke-linecap="butt" />
<line x1="902.5" y1="180.6" x2="912.5" y2="180.6" stroke="#161616" stroke-width="2.6" stroke-linecap="butt" />
<line x1="1416.8" y1="180.6" x2="1406.8" y2="180.6" stroke="#161616" stroke-width="2.6" stroke-linecap="butt" />
<line x1="902.5" y1="134" x2="912.5" y2="134" stroke="#161616" stroke-width="2.6" stroke-linecap="butt" />
<line x1="1416.8" y1="134" x2="1406.8" y2="134" stroke="#161616" stroke-width="2.6" stroke-linecap="butt" />
<line x1="902.5" y1="87.3" x2="912.5" y2="87.3" stroke="#161616" stroke-width="2.6" stroke-linecap="butt" />
<line x1="1416.8" y1="87.3" x2="1406.8" y2="87.3" stroke="#161616" stroke-width="2.6" stroke-linecap="butt" />
<line x1="902.5" y1="250.6" x2="908.5" y2="250.6" stroke="#161616" stroke-width="2.6" stroke-linecap="butt" />
<line x1="1416.8" y1="250.6" x2="1410.8" y2="250.6" stroke="#161616" stroke-width="2.6" stroke-linecap="butt" />
<line x1="902.5" y1="204" x2="908.5" y2="204" stroke="#161616" stroke-width="2.6" stroke-linecap="butt" />
<line x1="1416.8" y1="204" x2="1410.8" y2="204" stroke="#161616" stroke-width="2.6" stroke-linecap="butt" />
<line x1="902.5" y1="157.3" x2="908.5" y2="157.3" stroke="#161616" stroke-width="2.6" stroke-linecap="butt" />
<line x1="1416.8" y1="157.3" x2="1410.8" y2="157.3" stroke="#161616" stroke-width="2.6" stroke-linecap="butt" />
<line x1="902.5" y1="110.7" x2="908.5" y2="110.7" stroke="#161616" stroke-width="2.6" stroke-linecap="butt" />
<line x1="1416.8" y1="110.7" x2="1410.8" y2="110.7" stroke="#161616" stroke-width="2.6" stroke-linecap="butt" />
<line x1="902.5" y1="64" x2="908.5" y2="64" stroke="#161616" stroke-width="2.6" stroke-linecap="butt" />
<line x1="1416.8" y1="64" x2="1410.8" y2="64" stroke="#161616" stroke-width="2.6" stroke-linecap="butt" />
<line x1="902.5" y1="409.1" x2="912.5" y2="409.1" stroke="#161616" stroke-width="2.6" stroke-linecap="butt" />
<line x1="1416.8" y1="409.1" x2="1406.8" y2="409.1" stroke="#161616" stroke-width="2.6" stroke-linecap="butt" />
<line x1="902.5" y1="367" x2="912.5" y2="367" stroke="#161616" stroke-width="2.6" stroke-linecap="butt" />
<line x1="1416.8" y1="367" x2="1406.8" y2="367" stroke="#161616" stroke-width="2.6" stroke-linecap="butt" />
<line x1="902.5" y1="324.8" x2="912.5" y2="324.8" stroke="#161616" stroke-width="2.6" stroke-linecap="butt" />
<line x1="1416.8" y1="324.8" x2="1406.8" y2="324.8" stroke="#161616" stroke-width="2.6" stroke-linecap="butt" />
<line x1="902.5" y1="282.7" x2="912.5" y2="282.7" stroke="#161616" stroke-width="2.6" stroke-linecap="butt" />
<line x1="1416.8" y1="282.7" x2="1406.8" y2="282.7" stroke="#161616" stroke-width="2.6" stroke-linecap="butt" />
<line x1="902.5" y1="430.2" x2="908.5" y2="430.2" stroke="#161616" stroke-width="2.6" stroke-linecap="butt" />
<line x1="1416.8" y1="430.2" x2="1410.8" y2="430.2" stroke="#161616" stroke-width="2.6" stroke-linecap="butt" />
<line x1="902.5" y1="388" x2="908.5" y2="388" stroke="#161616" stroke-width="2.6" stroke-linecap="butt" />
<line x1="1416.8" y1="388" x2="1410.8" y2="388" stroke="#161616" stroke-width="2.6" stroke-linecap="butt" />
<line x1="902.5" y1="345.9" x2="908.5" y2="345.9" stroke="#161616" stroke-width="2.6" stroke-linecap="butt" />
<line x1="1416.8" y1="345.9" x2="1410.8" y2="345.9" stroke="#161616" stroke-width="2.6" stroke-linecap="butt" />
<line x1="902.5" y1="303.8" x2="908.5" y2="303.8" stroke="#161616" stroke-width="2.6" stroke-linecap="butt" />
<line x1="1416.8" y1="303.8" x2="1410.8" y2="303.8" stroke="#161616" stroke-width="2.6" stroke-linecap="butt" />
<line x1="902.5" y1="261.6" x2="908.5" y2="261.6" stroke="#161616" stroke-width="2.6" stroke-linecap="butt" />
<line x1="1416.8" y1="261.6" x2="1410.8" y2="261.6" stroke="#161616" stroke-width="2.6" stroke-linecap="butt" />
<line x1="902.5" y1="621.5" x2="912.5" y2="621.5" stroke="#161616" stroke-width="2.6" stroke-linecap="butt" />
<line x1="1416.8" y1="621.5" x2="1406.8" y2="621.5" stroke="#161616" stroke-width="2.6" stroke-linecap="butt" />
<line x1="902.5" y1="557" x2="912.5" y2="557" stroke="#161616" stroke-width="2.6" stroke-linecap="butt" />
<line x1="1416.8" y1="557" x2="1406.8" y2="557" stroke="#161616" stroke-width="2.6" stroke-linecap="butt" />
<line x1="902.5" y1="492.5" x2="912.5" y2="492.5" stroke="#161616" stroke-width="2.6" stroke-linecap="butt" />
<line x1="1416.8" y1="492.5" x2="1406.8" y2="492.5" stroke="#161616" stroke-width="2.6" stroke-linecap="butt" />
<line x1="902.5" y1="589.2" x2="908.5" y2="589.2" stroke="#161616" stroke-width="2.6" stroke-linecap="butt" />
<line x1="1416.8" y1="589.2" x2="1410.8" y2="589.2" stroke="#161616" stroke-width="2.6" stroke-linecap="butt" />
<line x1="902.5" y1="524.8" x2="908.5" y2="524.8" stroke="#161616" stroke-width="2.6" stroke-linecap="butt" />
<line x1="1416.8" y1="524.8" x2="1410.8" y2="524.8" stroke="#161616" stroke-width="2.6" stroke-linecap="butt" />
<line x1="902.5" y1="460.2" x2="908.5" y2="460.2" stroke="#161616" stroke-width="2.6" stroke-linecap="butt" />
<line x1="1416.8" y1="460.2" x2="1410.8" y2="460.2" stroke="#161616" stroke-width="2.6" stroke-linecap="butt" />
<line x1="902.5" y1="818.8" x2="912.5" y2="818.8" stroke="#161616" stroke-width="2.6" stroke-linecap="butt" />
<line x1="1416.8" y1="818.8" x2="1406.8" y2="818.8" stroke="#161616" stroke-width="2.6" stroke-linecap="butt" />
<line x1="902.5" y1="770.8" x2="912.5" y2="770.8" stroke="#161616" stroke-width="2.6" stroke-linecap="butt" />
<line x1="1416.8" y1="770.8" x2="1406.8" y2="770.8" stroke="#161616" stroke-width="2.6" stroke-linecap="butt" />
<line x1="902.5" y1="722.8" x2="912.5" y2="722.8" stroke="#161616" stroke-width="2.6" stroke-linecap="butt" />
<line x1="1416.8" y1="722.8" x2="1406.8" y2="722.8" stroke="#161616" stroke-width="2.6" stroke-linecap="butt" />
<line x1="902.5" y1="674.8" x2="912.5" y2="674.8" stroke="#161616" stroke-width="2.6" stroke-linecap="butt" />
<line x1="1416.8" y1="674.8" x2="1406.8" y2="674.8" stroke="#161616" stroke-width="2.6" stroke-linecap="butt" />
<line x1="902.5" y1="794.8" x2="908.5" y2="794.8" stroke="#161616" stroke-width="2.6" stroke-linecap="butt" />
<line x1="1416.8" y1="794.8" x2="1410.8" y2="794.8" stroke="#161616" stroke-width="2.6" stroke-linecap="butt" />
<line x1="902.5" y1="746.8" x2="908.5" y2="746.8" stroke="#161616" stroke-width="2.6" stroke-linecap="butt" />
<line x1="1416.8" y1="746.8" x2="1410.8" y2="746.8" stroke="#161616" stroke-width="2.6" stroke-linecap="butt" />
<line x1="902.5" y1="698.8" x2="908.5" y2="698.8" stroke="#161616" stroke-width="2.6" stroke-linecap="butt" />
<line x1="1416.8" y1="698.8" x2="1410.8" y2="698.8" stroke="#161616" stroke-width="2.6" stroke-linecap="butt" />
<line x1="902.5" y1="650.8" x2="908.5" y2="650.8" stroke="#161616" stroke-width="2.6" stroke-linecap="butt" />
<line x1="1416.8" y1="650.8" x2="1410.8" y2="650.8" stroke="#161616" stroke-width="2.6" stroke-linecap="butt" />
<text x="896.5" y="236.6" font-size="35.5" font-weight="bold" font-style="normal" fill="#1a1a1a" text-anchor="end" textLength="17.4" lengthAdjust="spacingAndGlyphs" >0</text>
<text x="896.5" y="189.9" font-size="35.5" font-weight="bold" font-style="normal" fill="#1a1a1a" text-anchor="end" textLength="52.2" lengthAdjust="spacingAndGlyphs" >100</text>
<text x="896.5" y="143.3" font-size="35.5" font-weight="bold" font-style="normal" fill="#1a1a1a" text-anchor="end" textLength="52.2" lengthAdjust="spacingAndGlyphs" >200</text>
<text x="896.5" y="96.6" font-size="35.5" font-weight="bold" font-style="normal" fill="#1a1a1a" text-anchor="end" textLength="52.2" lengthAdjust="spacingAndGlyphs" >300</text>
<text x="889.5" y="418.6" font-size="34.5" font-weight="bold" font-style="normal" fill="#1a1a1a" text-anchor="end" textLength="16.4" lengthAdjust="spacingAndGlyphs" >0</text>
<text x="889.5" y="376.5" font-size="34.5" font-weight="bold" font-style="normal" fill="#1a1a1a" text-anchor="end" textLength="32.8" lengthAdjust="spacingAndGlyphs" >50</text>
<text x="889.5" y="334.3" font-size="34.5" font-weight="bold" font-style="normal" fill="#1a1a1a" text-anchor="end" textLength="49.2" lengthAdjust="spacingAndGlyphs" >100</text>
<text x="889.5" y="292.2" font-size="34.5" font-weight="bold" font-style="normal" fill="#1a1a1a" text-anchor="end" textLength="49.2" lengthAdjust="spacingAndGlyphs" >150</text>
<text x="893.2" y="637.5" font-size="40" font-weight="bold" font-style="normal" fill="#1a1a1a" text-anchor="end" textLength="18.2" lengthAdjust="spacingAndGlyphs" >0</text>
<text x="893.2" y="573" font-size="40" font-weight="bold" font-style="normal" fill="#1a1a1a" text-anchor="end" textLength="36.4" lengthAdjust="spacingAndGlyphs" >10</text>
<text x="893.2" y="508.5" font-size="40" font-weight="bold" font-style="normal" fill="#1a1a1a" text-anchor="end" textLength="36.4" lengthAdjust="spacingAndGlyphs" >20</text>
<text x="895" y="830.1" font-size="33.5" font-weight="bold" font-style="normal" fill="#1a1a1a" text-anchor="end" textLength="45.5" lengthAdjust="spacingAndGlyphs" >-21</text>
<text x="895" y="782.1" font-size="33.5" font-weight="bold" font-style="normal" fill="#1a1a1a" text-anchor="end" >0</text>
<text x="895" y="734.1" font-size="33.5" font-weight="bold" font-style="normal" fill="#1a1a1a" text-anchor="end" textLength="31" lengthAdjust="spacingAndGlyphs" >21</text>
<text x="895" y="686.1" font-size="33.5" font-weight="bold" font-style="normal" fill="#1a1a1a" text-anchor="end" textLength="31" lengthAdjust="spacingAndGlyphs" >42</text>
<text x="901.7" y="867" font-size="32" font-weight="bold" font-style="normal" fill="#1a1a1a" text-anchor="middle" >0</text>
<text x="1004.7" y="867" font-size="32" font-weight="bold" font-style="normal" fill="#1a1a1a" text-anchor="middle" >125</text>
<text x="1107.7" y="867" font-size="32" font-weight="bold" font-style="normal" fill="#1a1a1a" text-anchor="middle" >250</text>
<text x="1210.7" y="867" font-size="32" font-weight="bold" font-style="normal" fill="#1a1a1a" text-anchor="middle" >375</text>
<text x="1313.7" y="867" font-size="32" font-weight="bold" font-style="normal" fill="#1a1a1a" text-anchor="middle" >500</text>
<text x="1416.7" y="867" font-size="32" font-weight="bold" font-style="normal" fill="#1a1a1a" text-anchor="middle" >625</text>
<text x="1168" y="928" font-size="41" font-weight="bold" font-style="normal" fill="#1a1a1a" text-anchor="middle" textLength="143" lengthAdjust="spacingAndGlyphs" >Time (s)</text>
<text x="806" y="373.8" font-size="36" font-weight="bold" font-style="normal" fill="#1a1a1a" text-anchor="middle" textLength="134" lengthAdjust="spacingAndGlyphs" transform="rotate(-90 806 373.8)" >−ΔR(Ω)</text>
<g transform="translate(817 825) rotate(-90)">
<text x="0" y="0" font-size="37" font-weight="bold" font-style="normal" fill="#1a1a1a" text-anchor="start" textLength="23.5" lengthAdjust="spacingAndGlyphs" >E</text>
<text x="24" y="15.5" font-size="21" font-weight="bold" font-style="normal" fill="#1a1a1a" text-anchor="start" >b</text>
<text x="46.5" y="0" font-size="37" font-weight="bold" font-style="normal" fill="#1a1a1a" text-anchor="start" textLength="140" lengthAdjust="spacingAndGlyphs" >( kV/cm)</text>
</g>
<text x="752.5" y="71" font-size="56" font-weight="normal" font-style="normal" fill="#1a1a1a" text-anchor="start" textLength="66.5" lengthAdjust="spacingAndGlyphs" >(b)</text>
<defs>
<filter id="blur6" x="-20%" y="-20%" width="140%" height="140%"><feGaussianBlur stdDeviation="7"/></filter>
<filter id="blur2" x="-20%" y="-20%" width="140%" height="140%"><feGaussianBlur stdDeviation="1.2"/></filter>
<radialGradient id="sph" cx="0.38" cy="0.32" r="0.75"><stop offset="0" stop-color="#ffffff"/><stop offset="0.45" stop-color="#e6e9ea"/><stop offset="0.85" stop-color="#b9bec0"/><stop offset="1" stop-color="#9ea3a6"/></radialGradient>
<linearGradient id="leftsub" x1="0" y1="0" x2="1" y2="0"><stop offset="0" stop-color="#eef4b4"/><stop offset="1" stop-color="#e4f0a4"/></linearGradient>
<linearGradient id="frontsub" x1="0" y1="0" x2="1" y2="0"><stop offset="0" stop-color="#b9df74"/><stop offset="1" stop-color="#bde27a"/></linearGradient>
<linearGradient id="toppzt" x1="0" y1="0" x2="1" y2="1"><stop offset="0" stop-color="#f5b678"/><stop offset="0.55" stop-color="#f6c47e"/><stop offset="1" stop-color="#f6c882"/></linearGradient>
</defs>
<polygon points="112,1262 100,1285 222,1436 250,1446 600,1372 725,1340 762,1318 735,1296 240,1400" fill="#b8b8c0" stroke="none" stroke-width="0" filter="url(#blur6)" opacity="0.7"/>
<polygon points="107.6,1203 231.6,1339.4 231.6,1365.2 108.4,1230" fill="#f2ae86" stroke="none" stroke-width="0" />
<polygon points="108.4,1230 231.6,1365.2 234.8,1421 110.3,1269.3" fill="url(#leftsub)" stroke="none" stroke-width="0" />
<polygon points="231.6,1365.2 611,1288 723.6,1265 723.6,1310 234.8,1421" fill="url(#frontsub)" stroke="none" stroke-width="0" />
<polygon points="231.6,1339.4 608.3,1266.1 609,1288.3 231.6,1365.2" fill="#e28a58" stroke="none" stroke-width="0" />
<polygon points="641,1219.6 723.6,1263 723.6,1265.5 611,1288" fill="#c4e67e" stroke="none" stroke-width="0" />
<polygon points="107.6,1203 520.4,1141.3 640,1201.6 608.3,1266.1 231.6,1339.4" fill="url(#toppzt)" stroke="none" stroke-width="0" />
<polygon points="608.3,1266.1 640,1201.6 641,1219.6 611,1288 609,1288.3" fill="#f3b275" stroke="none" stroke-width="0" />
<polygon points="201.9,1226.3 294.2,1213.5 352,1222 372.1,1247.1 245,1271" fill="#e2ee12" stroke="none" stroke-width="0" />
<polygon points="245,1271 372.1,1247.1 372.1,1250.5 245,1274.5" fill="#c8d20a" stroke="none" stroke-width="0" />
<path d="M292.7,1206 L352,1199.5 L355.2,1229.3 L294.2,1239.7 Q290,1222 292.7,1206 Z" fill="#d4e40c"/>
<polygon points="475,1212 527.8,1199.5 574,1189 602.2,1204 483.2,1226.3" fill="#e2ee12" stroke="none" stroke-width="0" />
<polygon points="483.2,1226.3 602.2,1204 602.2,1207.3 483.2,1229.6" fill="#c8d20a" stroke="none" stroke-width="0" />
<path d="M474.2,1184.6 L527.8,1171.3 Q531,1186 527.8,1199.5 L477.2,1210 Z" fill="#d4e40c"/>
<path d="M352.2,1204 L474.2,1187.6 Q479.5,1199 474.8,1211.4 L355.2,1229.3 Z" fill="#44bfd8"/>
<path d="M353,1207 L474.5,1190.5" stroke="#8ad8e8" stroke-width="3" opacity="0.6"/>
<text x="361.5" y="1219.5" font-size="24" fill="#8a1c98" transform="rotate(-7.2 361.5 1219.5)" textLength="91" lengthAdjust="spacingAndGlyphs">VO<tspan font-size="12" dy="4">2</tspan><tspan dy="-4"> NW</tspan></text>
<polyline points="243.8,1240 236.3,1073 402,1058.9" fill="none" stroke="#9fa5aa" stroke-width="3.2" stroke-linejoin="miter" stroke-linecap="butt" />
<polyline points="461,1048.3 565.5,1036 561,1188" fill="none" stroke="#9fa5aa" stroke-width="3.2" stroke-linejoin="miter" stroke-linecap="butt" />
<polyline points="565.5,1036 685.8,1059.6 683.6,1108" fill="none" stroke="#9fa5aa" stroke-width="3" stroke-linejoin="miter" stroke-linecap="butt" />
<line x1="676.8" y1="1166" x2="672.8" y2="1252.4" stroke="#8f9599" stroke-width="3.6" stroke-linecap="butt" />
<circle cx="431.7" cy="1051.2" r="29.5" fill="url(#sph)" stroke="none" stroke-width="0" />
<circle cx="678" cy="1137.7" r="31.5" fill="url(#sph)" stroke="none" stroke-width="0" />
<text x="404.5" y="1059.6" font-size="36" font-weight="bold" font-style="normal" fill="#8a1c98" text-anchor="start" textLength="25" lengthAdjust="spacingAndGlyphs" >V</text>
<text x="430.5" y="1070.8" font-size="22" font-weight="bold" font-style="normal" fill="#8a1c98" text-anchor="start" textLength="27" lengthAdjust="spacingAndGlyphs" >DS</text>
<text x="657.5" y="1146.2" font-size="36" font-weight="bold" font-style="normal" fill="#8a1c98" text-anchor="start" textLength="25" lengthAdjust="spacingAndGlyphs" >V</text>
<text x="684.5" y="1157.4" font-size="21" font-weight="bold" font-style="normal" fill="#8a1c98" text-anchor="start" textLength="14.6" lengthAdjust="spacingAndGlyphs" >G</text>
<text x="246" y="1235.2" font-size="66" font-weight="normal" font-style="normal" fill="#8a1c98" text-anchor="start" textLength="42" lengthAdjust="spacingAndGlyphs" >D</text>
<text x="526" y="1189" font-size="60" font-weight="normal" font-style="normal" fill="#8a1c98" text-anchor="start" textLength="25.5" lengthAdjust="spacingAndGlyphs" >S</text>
<text x="631" y="1268.3" font-size="68" font-weight="normal" font-style="normal" fill="#8a1c98" text-anchor="start" textLength="38.5" lengthAdjust="spacingAndGlyphs" >G</text>
<text x="416.5" y="1325" font-size="33" font-weight="bold" fill="#8a1c98" transform="rotate(-11.3 416.5 1325)" textLength="58" lengthAdjust="spacingAndGlyphs">PZT</text>
<text x="402.5" y="1367" font-size="33" font-weight="bold" fill="#8a1c98" transform="rotate(-11.3 402.5 1367)" textLength="112" lengthAdjust="spacingAndGlyphs">Nb/STO</text>
<text x="36.5" y="1034.5" font-size="56" font-weight="normal" font-style="normal" fill="#1a1a1a" text-anchor="start" textLength="66.5" lengthAdjust="spacingAndGlyphs" >(c)</text>
<line x1="897" y1="992" x2="1385" y2="992" stroke="#333" stroke-width="2.4" stroke-linecap="butt" />
<line x1="897" y1="1384.5" x2="1385" y2="1384.5" stroke="#333" stroke-width="2.4" stroke-linecap="butt" />
<line x1="897" y1="991" x2="897" y2="1385.5" stroke="#3444aa" stroke-width="2.2" stroke-linecap="butt" />
<line x1="1385" y1="990.5" x2="1385" y2="1385.5" stroke="#f07024" stroke-width="2.2" stroke-linecap="butt" />
<line x1="920.2" y1="1384.5" x2="920.2" y2="1377.5" stroke="#333" stroke-width="2" stroke-linecap="butt" />
<line x1="957" y1="1384.5" x2="957" y2="1380.5" stroke="#333" stroke-width="2" stroke-linecap="butt" />
<line x1="993.9" y1="1384.5" x2="993.9" y2="1377.5" stroke="#333" stroke-width="2" stroke-linecap="butt" />
<line x1="1030.7" y1="1384.5" x2="1030.7" y2="1380.5" stroke="#333" stroke-width="2" stroke-linecap="butt" />
<line x1="1067.6" y1="1384.5" x2="1067.6" y2="1377.5" stroke="#333" stroke-width="2" stroke-linecap="butt" />
<line x1="1104.4" y1="1384.5" x2="1104.4" y2="1380.5" stroke="#333" stroke-width="2" stroke-linecap="butt" />
<line x1="1141.2" y1="1384.5" x2="1141.2" y2="1377.5" stroke="#333" stroke-width="2" stroke-linecap="butt" />
<line x1="1178.1" y1="1384.5" x2="1178.1" y2="1380.5" stroke="#333" stroke-width="2" stroke-linecap="butt" />
<line x1="1214.9" y1="1384.5" x2="1214.9" y2="1377.5" stroke="#333" stroke-width="2" stroke-linecap="butt" />
<line x1="1251.8" y1="1384.5" x2="1251.8" y2="1380.5" stroke="#333" stroke-width="2" stroke-linecap="butt" />
<line x1="1288.6" y1="1384.5" x2="1288.6" y2="1377.5" stroke="#333" stroke-width="2" stroke-linecap="butt" />
<line x1="1325.4" y1="1384.5" x2="1325.4" y2="1380.5" stroke="#333" stroke-width="2" stroke-linecap="butt" />
<line x1="1362.3" y1="1384.5" x2="1362.3" y2="1377.5" stroke="#333" stroke-width="2" stroke-linecap="butt" />
<line x1="897" y1="1384.2" x2="903" y2="1384.2" stroke="#3444aa" stroke-width="2" stroke-linecap="butt" />
<line x1="897" y1="1348.5" x2="900.5" y2="1348.5" stroke="#3444aa" stroke-width="2" stroke-linecap="butt" />
<line x1="897" y1="1312.8" x2="903" y2="1312.8" stroke="#3444aa" stroke-width="2" stroke-linecap="butt" />
<line x1="897" y1="1277.1" x2="900.5" y2="1277.1" stroke="#3444aa" stroke-width="2" stroke-linecap="butt" />
<line x1="897" y1="1241.4" x2="903" y2="1241.4" stroke="#3444aa" stroke-width="2" stroke-linecap="butt" />
<line x1="897" y1="1205.7" x2="900.5" y2="1205.7" stroke="#3444aa" stroke-width="2" stroke-linecap="butt" />
<line x1="897" y1="1170" x2="903" y2="1170" stroke="#3444aa" stroke-width="2" stroke-linecap="butt" />
<line x1="897" y1="1134.3" x2="900.5" y2="1134.3" stroke="#3444aa" stroke-width="2" stroke-linecap="butt" />
<line x1="897" y1="1098.6" x2="903" y2="1098.6" stroke="#3444aa" stroke-width="2" stroke-linecap="butt" />
<line x1="897" y1="1062.9" x2="900.5" y2="1062.9" stroke="#3444aa" stroke-width="2" stroke-linecap="butt" />
<line x1="897" y1="1027.2" x2="903" y2="1027.2" stroke="#3444aa" stroke-width="2" stroke-linecap="butt" />
<line x1="1385" y1="1349.8" x2="1379" y2="1349.8" stroke="#f07024" stroke-width="2" stroke-linecap="butt" />
<line x1="1385" y1="1314" x2="1381.5" y2="1314" stroke="#f07024" stroke-width="2" stroke-linecap="butt" />
<line x1="1385" y1="1278.2" x2="1379" y2="1278.2" stroke="#f07024" stroke-width="2" stroke-linecap="butt" />
<line x1="1385" y1="1242.4" x2="1381.5" y2="1242.4" stroke="#f07024" stroke-width="2" stroke-linecap="butt" />
<line x1="1385" y1="1206.6" x2="1379" y2="1206.6" stroke="#f07024" stroke-width="2" stroke-linecap="butt" />
<line x1="1385" y1="1170.8" x2="1381.5" y2="1170.8" stroke="#f07024" stroke-width="2" stroke-linecap="butt" />
<line x1="1385" y1="1135" x2="1379" y2="1135" stroke="#f07024" stroke-width="2" stroke-linecap="butt" />
<line x1="1385" y1="1099.2" x2="1381.5" y2="1099.2" stroke="#f07024" stroke-width="2" stroke-linecap="butt" />
<line x1="1385" y1="1063.4" x2="1379" y2="1063.4" stroke="#f07024" stroke-width="2" stroke-linecap="butt" />
<line x1="1385" y1="1027.6" x2="1381.5" y2="1027.6" stroke="#f07024" stroke-width="2" stroke-linecap="butt" />
<line x1="1385" y1="991.8" x2="1379" y2="991.8" stroke="#f07024" stroke-width="2" stroke-linecap="butt" />
<text x="889" y="1394.7" font-size="31" font-weight="bold" font-style="normal" fill="#3444aa" text-anchor="end" >0</text>
<text x="889" y="1323.3" font-size="31" font-weight="bold" font-style="normal" fill="#3444aa" text-anchor="end" >2</text>
<text x="889" y="1251.9" font-size="31" font-weight="bold" font-style="normal" fill="#3444aa" text-anchor="end" >4</text>
<text x="889" y="1180.5" font-size="31" font-weight="bold" font-style="normal" fill="#3444aa" text-anchor="end" >6</text>
<text x="889" y="1109.1" font-size="31" font-weight="bold" font-style="normal" fill="#3444aa" text-anchor="end" >8</text>
<text x="889" y="1037.7" font-size="31" font-weight="bold" font-style="normal" fill="#3444aa" text-anchor="end" >10</text>
<text x="1393" y="1360.3" font-size="31" font-weight="bold" font-style="normal" fill="#f07024" text-anchor="start" >0</text>
<text x="1393" y="1288.7" font-size="31" font-weight="bold" font-style="normal" fill="#f07024" text-anchor="start" >20</text>
<text x="1393" y="1217.1" font-size="31" font-weight="bold" font-style="normal" fill="#f07024" text-anchor="start" >40</text>
<text x="1393" y="1145.5" font-size="31" font-weight="bold" font-style="normal" fill="#f07024" text-anchor="start" >60</text>
<text x="1393" y="1073.9" font-size="31" font-weight="bold" font-style="normal" fill="#f07024" text-anchor="start" >80</text>
<text x="1393" y="1002.3" font-size="31" font-weight="bold" font-style="normal" fill="#f07024" text-anchor="start" >100</text>
<text x="920.2" y="1416" font-size="31" font-weight="bold" font-style="normal" fill="#1a1a1a" text-anchor="middle" >0</text>
<text x="993.9" y="1416" font-size="31" font-weight="bold" font-style="normal" fill="#1a1a1a" text-anchor="middle" >3</text>
<text x="1067.6" y="1416" font-size="31" font-weight="bold" font-style="normal" fill="#1a1a1a" text-anchor="middle" >6</text>
<text x="1141.2" y="1416" font-size="31" font-weight="bold" font-style="normal" fill="#1a1a1a" text-anchor="middle" >9</text>
<text x="1214.9" y="1416" font-size="31" font-weight="bold" font-style="normal" fill="#1a1a1a" text-anchor="middle" >12</text>
<text x="1288.6" y="1416" font-size="31" font-weight="bold" font-style="normal" fill="#1a1a1a" text-anchor="middle" >15</text>
<text x="1362.3" y="1416" font-size="31" font-weight="bold" font-style="normal" fill="#1a1a1a" text-anchor="middle" >18</text>
<polyline points="920.2,1349.8 944.8,1350.9 969.3,1321.2 993.9,1290 1018.4,1262.8 1043,1242.4 1067.6,1228.1 1092.1,1213.8 1116.7,1201.2 1141.2,1190.5 1165.8,1179.4 1190.4,1170.8 1214.9,1160.4 1239.5,1148.6 1264,1134.6 1288.6,1120.7 1313.2,1103.1 1337.7,1069.8 1362.3,1047.6" fill="none" stroke="#f07024" stroke-width="3" stroke-linejoin="round" stroke-linecap="round" />
<rect x="915.5" y="1345" width="9.5" height="9.5" fill="#f07024" stroke="none" stroke-width="0" />
<rect x="940" y="1346.1" width="9.5" height="9.5" fill="#f07024" stroke="none" stroke-width="0" />
<rect x="964.6" y="1316.4" width="9.5" height="9.5" fill="#f07024" stroke="none" stroke-width="0" />
<rect x="989.1" y="1285.3" width="9.5" height="9.5" fill="#f07024" stroke="none" stroke-width="0" />
<rect x="1013.7" y="1258.1" width="9.5" height="9.5" fill="#f07024" stroke="none" stroke-width="0" />
<rect x="1038.2" y="1237.6" width="9.5" height="9.5" fill="#f07024" stroke="none" stroke-width="0" />
<rect x="1062.8" y="1223.3" width="9.5" height="9.5" fill="#f07024" stroke="none" stroke-width="0" />
<rect x="1087.4" y="1209" width="9.5" height="9.5" fill="#f07024" stroke="none" stroke-width="0" />
<rect x="1111.9" y="1196.5" width="9.5" height="9.5" fill="#f07024" stroke="none" stroke-width="0" />
<rect x="1136.5" y="1185.7" width="9.5" height="9.5" fill="#f07024" stroke="none" stroke-width="0" />
<rect x="1161" y="1174.6" width="9.5" height="9.5" fill="#f07024" stroke="none" stroke-width="0" />
<rect x="1185.6" y="1166" width="9.5" height="9.5" fill="#f07024" stroke="none" stroke-width="0" />
<rect x="1210.2" y="1155.7" width="9.5" height="9.5" fill="#f07024" stroke="none" stroke-width="0" />
<rect x="1234.7" y="1143.9" width="9.5" height="9.5" fill="#f07024" stroke="none" stroke-width="0" />
<rect x="1259.3" y="1129.9" width="9.5" height="9.5" fill="#f07024" stroke="none" stroke-width="0" />
<rect x="1283.8" y="1115.9" width="9.5" height="9.5" fill="#f07024" stroke="none" stroke-width="0" />
<rect x="1308.4" y="1098.4" width="9.5" height="9.5" fill="#f07024" stroke="none" stroke-width="0" />
<rect x="1333" y="1065.1" width="9.5" height="9.5" fill="#f07024" stroke="none" stroke-width="0" />
<rect x="1357.5" y="1042.9" width="9.5" height="9.5" fill="#f07024" stroke="none" stroke-width="0" />
<polyline points="920.2,1026.1 944.8,1025.1 969.3,1053.3 993.9,1084.7 1018.4,1112.9 1043,1133.2 1067.6,1148.6 1092.1,1161.1 1116.7,1173.6 1141.2,1185.7 1165.8,1195 1190.4,1204.6 1214.9,1215.3 1239.5,1226.8 1264,1242.5 1288.6,1255.3 1313.2,1273.5 1337.7,1306.4 1362.3,1327.8" fill="none" stroke="#3444aa" stroke-width="3" stroke-linejoin="round" stroke-linecap="round" />
<polygon points="913.9,1026.1 925.4,1019.8 925.4,1032.5" fill="#3444aa" stroke="none" stroke-width="0" />
<polygon points="938.4,1025.1 949.9,1018.7 949.9,1031.4" fill="#3444aa" stroke="none" stroke-width="0" />
<polygon points="963,1053.3 974.5,1046.9 974.5,1059.6" fill="#3444aa" stroke="none" stroke-width="0" />
<polygon points="987.6,1084.7 999.1,1078.4 999.1,1091" fill="#3444aa" stroke="none" stroke-width="0" />
<polygon points="1012.1,1112.9 1023.6,1106.6 1023.6,1119.2" fill="#3444aa" stroke="none" stroke-width="0" />
<polygon points="1036.7,1133.2 1048.2,1126.9 1048.2,1139.6" fill="#3444aa" stroke="none" stroke-width="0" />
<polygon points="1061.2,1148.6 1072.7,1142.3 1072.7,1154.9" fill="#3444aa" stroke="none" stroke-width="0" />
<polygon points="1085.8,1161.1 1097.3,1154.8 1097.3,1167.4" fill="#3444aa" stroke="none" stroke-width="0" />
<polygon points="1110.4,1173.6 1121.9,1167.2 1121.9,1179.9" fill="#3444aa" stroke="none" stroke-width="0" />
<polygon points="1134.9,1185.7 1146.4,1179.4 1146.4,1192" fill="#3444aa" stroke="none" stroke-width="0" />
<polygon points="1159.5,1195 1171,1188.7 1171,1201.3" fill="#3444aa" stroke="none" stroke-width="0" />
<polygon points="1184,1204.6 1195.5,1198.3 1195.5,1211" fill="#3444aa" stroke="none" stroke-width="0" />
<polygon points="1208.6,1215.3 1220.1,1209 1220.1,1221.7" fill="#3444aa" stroke="none" stroke-width="0" />
<polygon points="1233.2,1226.8 1244.7,1220.4 1244.7,1233.1" fill="#3444aa" stroke="none" stroke-width="0" />
<polygon points="1257.7,1242.5 1269.2,1236.1 1269.2,1248.8" fill="#3444aa" stroke="none" stroke-width="0" />
<polygon points="1282.3,1255.3 1293.8,1249 1293.8,1261.6" fill="#3444aa" stroke="none" stroke-width="0" />
<polygon points="1306.8,1273.5 1318.3,1267.2 1318.3,1279.9" fill="#3444aa" stroke="none" stroke-width="0" />
<polygon points="1331.4,1306.4 1342.9,1300 1342.9,1312.7" fill="#3444aa" stroke="none" stroke-width="0" />
<polygon points="1356,1327.8 1367.5,1321.5 1367.5,1334.1" fill="#3444aa" stroke="none" stroke-width="0" />
<line x1="1077" y1="1027.2" x2="1143.6" y2="1027.2" stroke="#3444aa" stroke-width="3" stroke-linecap="butt" />
<polygon points="1105.7,1027.2 1117.2,1020.9 1117.2,1033.5" fill="#3444aa" stroke="none" stroke-width="0" />
<line x1="1077" y1="1073.3" x2="1143.6" y2="1073.3" stroke="#f07024" stroke-width="3" stroke-linecap="butt" />
<rect x="1106.2" y="1068.5" width="9.5" height="9.5" fill="#f07024" stroke="none" stroke-width="0" />
<text x="1151" y="1037.5" font-size="32" font-weight="bold" font-style="italic" fill="#1a1a1a" text-anchor="start" >R</text>
<text x="1171" y="1046" font-size="17" font-weight="bold" font-style="normal" fill="#1a1a1a" text-anchor="start" >DS</text>
<text x="1151.5" y="1084.5" font-size="32" font-weight="normal" font-style="italic" fill="#1a1a1a" text-anchor="start" >Δ</text>
<text x="1172" y="1084.5" font-size="32" font-weight="bold" font-style="italic" fill="#1a1a1a" text-anchor="start" >R</text>
<text x="1193" y="1093" font-size="15" font-weight="bold" font-style="normal" fill="#1a1a1a" text-anchor="start" textLength="18" lengthAdjust="spacingAndGlyphs" >VG</text>
<text x="1222" y="1086" font-size="30" font-weight="normal" font-style="normal" fill="#1a1a1a" text-anchor="start" textLength="46" lengthAdjust="spacingAndGlyphs" >(%)</text>
<line x1="957" y1="1135.2" x2="926" y2="1135.2" stroke="#3444aa" stroke-width="3.2" stroke-linecap="butt" />
<polygon points="912,1135.2 926,1128.7 926,1141.7" fill="#3444aa" stroke="none" stroke-width="0" />
<line x1="1322" y1="1135" x2="1354.8" y2="1135" stroke="#f07024" stroke-width="3.2" stroke-linecap="butt" />
<polygon points="1368.8,1135 1354.8,1141.5 1354.8,1128.5" fill="#f07024" stroke="none" stroke-width="0" />
<g transform="translate(834.8 1304.5) rotate(-90)">
<text x="0" y="0" font-size="43" font-weight="bold" font-style="italic" fill="#1a1a1a" text-anchor="start" textLength="28.5" lengthAdjust="spacingAndGlyphs" >R</text>
<text x="29" y="16" font-size="23" font-weight="bold" font-style="normal" fill="#1a1a1a" text-anchor="start" textLength="29" lengthAdjust="spacingAndGlyphs" >DS</text>
<text x="71" y="0" font-size="43" font-weight="bold" font-style="normal" fill="#1a1a1a" text-anchor="start" textLength="99.6" lengthAdjust="spacingAndGlyphs" >(MΩ)</text>
</g>
<g transform="translate(1464.5 1277.7) rotate(-90)">
<text x="0" y="0" font-size="43" font-weight="normal" font-style="italic" fill="#1a1a1a" text-anchor="start" textLength="24.4" lengthAdjust="spacingAndGlyphs" >Δ</text>
<text x="24.4" y="0" font-size="43" font-weight="bold" font-style="italic" fill="#1a1a1a" text-anchor="start" textLength="31.8" lengthAdjust="spacingAndGlyphs" >R</text>
<text x="57.3" y="16.5" font-size="23" font-weight="bold" font-style="normal" fill="#1a1a1a" text-anchor="start" textLength="28.6" lengthAdjust="spacingAndGlyphs" >VG</text>
<text x="99.2" y="0" font-size="43" font-weight="bold" font-style="normal" fill="#1a1a1a" text-anchor="start" textLength="66.8" lengthAdjust="spacingAndGlyphs" >(%)</text>
</g>
<text x="1091" y="1452.5" font-size="44" font-weight="bold" font-style="italic" fill="#1a1a1a" text-anchor="start" textLength="31" lengthAdjust="spacingAndGlyphs" >V</text>
<text x="1117.5" y="1466" font-size="30" font-weight="bold" font-style="normal" fill="#1a1a1a" text-anchor="start" textLength="20" lengthAdjust="spacingAndGlyphs" >G</text>
<text x="1148" y="1452.5" font-size="44" font-weight="bold" font-style="normal" fill="#1a1a1a" text-anchor="start" textLength="56.3" lengthAdjust="spacingAndGlyphs" >(V)</text>
<text x="752.8" y="1033.5" font-size="56" font-weight="normal" font-style="normal" fill="#1a1a1a" text-anchor="start" textLength="69" lengthAdjust="spacingAndGlyphs" >(d)</text>
<line x1="197" y1="1482.5" x2="682.6" y2="1482.5" stroke="#333" stroke-width="2.4" stroke-linecap="butt" />
<line x1="197" y1="1871" x2="682.6" y2="1871" stroke="#333" stroke-width="2.4" stroke-linecap="butt" />
<line x1="197" y1="1481.5" x2="197" y2="1872" stroke="#3444aa" stroke-width="2.2" stroke-linecap="butt" />
<line x1="682.6" y1="1481" x2="682.6" y2="1872" stroke="#f07024" stroke-width="2.2" stroke-linecap="butt" />
<line x1="216.6" y1="1871" x2="216.6" y2="1864" stroke="#333" stroke-width="2" stroke-linecap="butt" />
<line x1="255.4" y1="1871" x2="255.4" y2="1867" stroke="#333" stroke-width="2" stroke-linecap="butt" />
<line x1="294.2" y1="1871" x2="294.2" y2="1864" stroke="#333" stroke-width="2" stroke-linecap="butt" />
<line x1="333" y1="1871" x2="333" y2="1867" stroke="#333" stroke-width="2" stroke-linecap="butt" />
<line x1="371.8" y1="1871" x2="371.8" y2="1864" stroke="#333" stroke-width="2" stroke-linecap="butt" />
<line x1="410.6" y1="1871" x2="410.6" y2="1867" stroke="#333" stroke-width="2" stroke-linecap="butt" />
<line x1="449.4" y1="1871" x2="449.4" y2="1864" stroke="#333" stroke-width="2" stroke-linecap="butt" />
<line x1="488.2" y1="1871" x2="488.2" y2="1867" stroke="#333" stroke-width="2" stroke-linecap="butt" />
<line x1="527" y1="1871" x2="527" y2="1864" stroke="#333" stroke-width="2" stroke-linecap="butt" />
<line x1="565.8" y1="1871" x2="565.8" y2="1867" stroke="#333" stroke-width="2" stroke-linecap="butt" />
<line x1="604.6" y1="1871" x2="604.6" y2="1864" stroke="#333" stroke-width="2" stroke-linecap="butt" />
<line x1="643.4" y1="1871" x2="643.4" y2="1867" stroke="#333" stroke-width="2" stroke-linecap="butt" />
<line x1="682.2" y1="1871" x2="682.2" y2="1864" stroke="#333" stroke-width="2" stroke-linecap="butt" />
<line x1="197" y1="1482.1" x2="203" y2="1482.1" stroke="#3444aa" stroke-width="2" stroke-linecap="butt" />
<line x1="197" y1="1533.3" x2="200.5" y2="1533.3" stroke="#3444aa" stroke-width="2" stroke-linecap="butt" />
<line x1="197" y1="1584.5" x2="203" y2="1584.5" stroke="#3444aa" stroke-width="2" stroke-linecap="butt" />
<line x1="197" y1="1635.7" x2="200.5" y2="1635.7" stroke="#3444aa" stroke-width="2" stroke-linecap="butt" />
<line x1="197" y1="1686.9" x2="203" y2="1686.9" stroke="#3444aa" stroke-width="2" stroke-linecap="butt" />
<line x1="197" y1="1738.1" x2="200.5" y2="1738.1" stroke="#3444aa" stroke-width="2" stroke-linecap="butt" />
<line x1="197" y1="1789.3" x2="203" y2="1789.3" stroke="#3444aa" stroke-width="2" stroke-linecap="butt" />
<line x1="197" y1="1840.5" x2="200.5" y2="1840.5" stroke="#3444aa" stroke-width="2" stroke-linecap="butt" />
<line x1="682.6" y1="1869.7" x2="676.6" y2="1869.7" stroke="#f07024" stroke-width="2" stroke-linecap="butt" />
<line x1="682.6" y1="1842" x2="679.1" y2="1842" stroke="#f07024" stroke-width="2" stroke-linecap="butt" />
<line x1="682.6" y1="1814.4" x2="676.6" y2="1814.4" stroke="#f07024" stroke-width="2" stroke-linecap="butt" />
<line x1="682.6" y1="1786.8" x2="679.1" y2="1786.8" stroke="#f07024" stroke-width="2" stroke-linecap="butt" />
<line x1="682.6" y1="1759.1" x2="676.6" y2="1759.1" stroke="#f07024" stroke-width="2" stroke-linecap="butt" />
<line x1="682.6" y1="1731.4" x2="679.1" y2="1731.4" stroke="#f07024" stroke-width="2" stroke-linecap="butt" />
<line x1="682.6" y1="1703.8" x2="676.6" y2="1703.8" stroke="#f07024" stroke-width="2" stroke-linecap="butt" />
<line x1="682.6" y1="1676.1" x2="679.1" y2="1676.1" stroke="#f07024" stroke-width="2" stroke-linecap="butt" />
<line x1="682.6" y1="1648.5" x2="676.6" y2="1648.5" stroke="#f07024" stroke-width="2" stroke-linecap="butt" />
<line x1="682.6" y1="1620.8" x2="679.1" y2="1620.8" stroke="#f07024" stroke-width="2" stroke-linecap="butt" />
<line x1="682.6" y1="1593.2" x2="676.6" y2="1593.2" stroke="#f07024" stroke-width="2" stroke-linecap="butt" />
<line x1="682.6" y1="1565.5" x2="679.1" y2="1565.5" stroke="#f07024" stroke-width="2" stroke-linecap="butt" />
<line x1="682.6" y1="1537.9" x2="676.6" y2="1537.9" stroke="#f07024" stroke-width="2" stroke-linecap="butt" />
<line x1="682.6" y1="1510.2" x2="679.1" y2="1510.2" stroke="#f07024" stroke-width="2" stroke-linecap="butt" />
<line x1="682.6" y1="1482.6" x2="676.6" y2="1482.6" stroke="#f07024" stroke-width="2" stroke-linecap="butt" />
<text x="190" y="1492.6" font-size="31" font-weight="bold" font-style="normal" fill="#3444aa" text-anchor="end" textLength="38.5" lengthAdjust="spacingAndGlyphs" >3.0</text>
<text x="190" y="1595" font-size="31" font-weight="bold" font-style="normal" fill="#3444aa" text-anchor="end" textLength="38.5" lengthAdjust="spacingAndGlyphs" >2.5</text>
<text x="190" y="1697.4" font-size="31" font-weight="bold" font-style="normal" fill="#3444aa" text-anchor="end" textLength="38.5" lengthAdjust="spacingAndGlyphs" >2.0</text>
<text x="190" y="1799.8" font-size="31" font-weight="bold" font-style="normal" fill="#3444aa" text-anchor="end" textLength="38.5" lengthAdjust="spacingAndGlyphs" >1.5</text>
<text x="689.5" y="1879.7" font-size="28.5" font-weight="bold" font-style="normal" fill="#f07024" text-anchor="start" >-10</text>
<text x="689.5" y="1824.4" font-size="28.5" font-weight="bold" font-style="normal" fill="#f07024" text-anchor="start" >0</text>
<text x="689.5" y="1769.1" font-size="28.5" font-weight="bold" font-style="normal" fill="#f07024" text-anchor="start" >10</text>
<text x="689.5" y="1713.8" font-size="28.5" font-weight="bold" font-style="normal" fill="#f07024" text-anchor="start" >20</text>
<text x="689.5" y="1658.5" font-size="28.5" font-weight="bold" font-style="normal" fill="#f07024" text-anchor="start" >30</text>
<text x="689.5" y="1603.2" font-size="28.5" font-weight="bold" font-style="normal" fill="#f07024" text-anchor="start" >40</text>
<text x="689.5" y="1547.9" font-size="28.5" font-weight="bold" font-style="normal" fill="#f07024" text-anchor="start" >50</text>
<text x="689.5" y="1492.6" font-size="28.5" font-weight="bold" font-style="normal" fill="#f07024" text-anchor="start" >60</text>
<text x="216.6" y="1902" font-size="29" font-weight="bold" font-style="normal" fill="#1a1a1a" text-anchor="middle" >0</text>
<text x="294.2" y="1902" font-size="29" font-weight="bold" font-style="normal" fill="#1a1a1a" text-anchor="middle" >4</text>
<text x="371.8" y="1902" font-size="29" font-weight="bold" font-style="normal" fill="#1a1a1a" text-anchor="middle" >8</text>
<text x="449.4" y="1902" font-size="29" font-weight="bold" font-style="normal" fill="#1a1a1a" text-anchor="middle" >12</text>
<text x="527" y="1902" font-size="29" font-weight="bold" font-style="normal" fill="#1a1a1a" text-anchor="middle" >16</text>
<text x="604.6" y="1902" font-size="29" font-weight="bold" font-style="normal" fill="#1a1a1a" text-anchor="middle" >20</text>
<text x="682.2" y="1902" font-size="29" font-weight="bold" font-style="normal" fill="#1a1a1a" text-anchor="middle" >24</text>
<polyline points="216.6,1814.4 313.6,1829.9 371.8,1837.6 430,1809.1 449.4,1763.5 468.8,1722.6 488.2,1701 507.6,1680 662.8,1531.8" fill="none" stroke="#f07024" stroke-width="3" stroke-linejoin="round" stroke-linecap="round" />
<rect x="211.8" y="1809.6" width="9.5" height="9.5" fill="#f07024" stroke="none" stroke-width="0" />
<rect x="308.9" y="1825.1" width="9.5" height="9.5" fill="#f07024" stroke="none" stroke-width="0" />
<rect x="367" y="1832.9" width="9.5" height="9.5" fill="#f07024" stroke="none" stroke-width="0" />
<rect x="425.2" y="1804.3" width="9.5" height="9.5" fill="#f07024" stroke="none" stroke-width="0" />
<rect x="444.6" y="1758.8" width="9.5" height="9.5" fill="#f07024" stroke="none" stroke-width="0" />
<rect x="464" y="1717.9" width="9.5" height="9.5" fill="#f07024" stroke="none" stroke-width="0" />
<rect x="483.4" y="1696.3" width="9.5" height="9.5" fill="#f07024" stroke="none" stroke-width="0" />
<rect x="502.9" y="1675.3" width="9.5" height="9.5" fill="#f07024" stroke="none" stroke-width="0" />
<rect x="658" y="1527.1" width="9.5" height="9.5" fill="#f07024" stroke="none" stroke-width="0" />
<polyline points="216.6,1546.4 313.6,1532.1 371.8,1525.1 430,1552.3 449.4,1597.6 468.8,1638.2 488.2,1658.8 507.6,1681.8 662.8,1827.4" fill="none" stroke="#3444aa" stroke-width="3" stroke-linejoin="round" stroke-linecap="round" />
<polygon points="210.3,1546.4 221.8,1540.1 221.8,1552.7" fill="#3444aa" stroke="none" stroke-width="0" />
<polygon points="307.3,1532.1 318.8,1525.7 318.8,1538.4" fill="#3444aa" stroke="none" stroke-width="0" />
<polygon points="365.5,1525.1 377,1518.8 377,1531.4" fill="#3444aa" stroke="none" stroke-width="0" />
<polygon points="423.7,1552.3 435.2,1546 435.2,1558.7" fill="#3444aa" stroke="none" stroke-width="0" />
<polygon points="443.1,1597.6 454.6,1591.3 454.6,1603.9" fill="#3444aa" stroke="none" stroke-width="0" />
<polygon points="462.5,1638.2 474,1631.8 474,1644.5" fill="#3444aa" stroke="none" stroke-width="0" />
<polygon points="481.9,1658.8 493.4,1652.5 493.4,1665.2" fill="#3444aa" stroke="none" stroke-width="0" />
<polygon points="501.3,1681.8 512.8,1675.5 512.8,1688.1" fill="#3444aa" stroke="none" stroke-width="0" />
<polygon points="656.5,1827.4 668,1821.1 668,1833.7" fill="#3444aa" stroke="none" stroke-width="0" />
<line x1="432.8" y1="1498.2" x2="498.1" y2="1498.2" stroke="#3444aa" stroke-width="3" stroke-linecap="butt" />
<polygon points="459.1,1498.2 470.6,1491.9 470.6,1504.5" fill="#3444aa" stroke="none" stroke-width="0" />
<line x1="432.8" y1="1544.2" x2="498.1" y2="1544.2" stroke="#f07024" stroke-width="3" stroke-linecap="butt" />
<rect x="460.6" y="1539.5" width="9.5" height="9.5" fill="#f07024" stroke="none" stroke-width="0" />
<text x="506" y="1508" font-size="32" font-weight="bold" font-style="italic" fill="#1a1a1a" text-anchor="start" >R</text>
<text x="527" y="1519" font-size="17" font-weight="bold" font-style="normal" fill="#1a1a1a" text-anchor="start" >DS</text>
<text x="506.5" y="1554.5" font-size="32" font-weight="normal" font-style="italic" fill="#1a1a1a" text-anchor="start" >Δ</text>
<text x="526" y="1554.5" font-size="32" font-weight="bold" font-style="italic" fill="#1a1a1a" text-anchor="start" >R</text>
<text x="547" y="1565.5" font-size="14" font-weight="bold" font-style="normal" fill="#1a1a1a" text-anchor="start" textLength="38" lengthAdjust="spacingAndGlyphs" >VG(R)</text>
<text x="592" y="1557" font-size="30" font-weight="normal" font-style="normal" fill="#1a1a1a" text-anchor="start" textLength="47" lengthAdjust="spacingAndGlyphs" >(%)</text>
<line x1="259.5" y1="1585.2" x2="229.5" y2="1585.2" stroke="#3444aa" stroke-width="3.2" stroke-linecap="butt" />
<polygon points="215.5,1585.2 229.5,1578.7 229.5,1591.7" fill="#3444aa" stroke="none" stroke-width="0" />
<line x1="617" y1="1593.2" x2="648" y2="1593.2" stroke="#f07024" stroke-width="3.2" stroke-linecap="butt" />
<polygon points="662,1593.2 648,1599.7 648,1586.7" fill="#f07024" stroke="none" stroke-width="0" />
<g transform="translate(130.8 1776.6) rotate(-90)">
<text x="0" y="0" font-size="43" font-weight="bold" font-style="italic" fill="#1a1a1a" text-anchor="start" textLength="28.6" lengthAdjust="spacingAndGlyphs" >R</text>
<text x="31.8" y="17" font-size="23" font-weight="bold" font-style="normal" fill="#1a1a1a" text-anchor="start" textLength="28.1" lengthAdjust="spacingAndGlyphs" >DS</text>
<text x="73" y="0" font-size="43" font-weight="bold" font-style="normal" fill="#1a1a1a" text-anchor="start" textLength="97.7" lengthAdjust="spacingAndGlyphs" >(MΩ)</text>
</g>
<g transform="translate(758.8 1782.4) rotate(-90)">
<text x="0" y="0" font-size="43" font-weight="normal" font-style="italic" fill="#1a1a1a" text-anchor="start" textLength="24.2" lengthAdjust="spacingAndGlyphs" >Δ</text>
<text x="24.2" y="0" font-size="43" font-weight="bold" font-style="italic" fill="#1a1a1a" text-anchor="start" textLength="31.5" lengthAdjust="spacingAndGlyphs" >R</text>
<text x="57.6" y="17" font-size="22" font-weight="bold" font-style="normal" fill="#1a1a1a" text-anchor="start" textLength="52" lengthAdjust="spacingAndGlyphs" >VG(R)</text>
<text x="122.4" y="0" font-size="43" font-weight="bold" font-style="normal" fill="#1a1a1a" text-anchor="start" textLength="67.3" lengthAdjust="spacingAndGlyphs" >(%)</text>
</g>
<text x="397" y="1936.5" font-size="40" font-weight="bold" font-style="italic" fill="#1a1a1a" text-anchor="start" textLength="30" lengthAdjust="spacingAndGlyphs" >V</text>
<text x="422.8" y="1957.5" font-size="25" font-weight="bold" font-style="normal" fill="#1a1a1a" text-anchor="start" textLength="52.8" lengthAdjust="spacingAndGlyphs" >G(R)</text>
<text x="488.3" y="1936.5" font-size="40" font-weight="bold" font-style="normal" fill="#1a1a1a" text-anchor="start" textLength="56.4" lengthAdjust="spacingAndGlyphs" >(V)</text>
<text x="36.5" y="1485.2" font-size="56" font-weight="normal" font-style="normal" fill="#1a1a1a" text-anchor="start" textLength="66.5" lengthAdjust="spacingAndGlyphs" >(e)</text>
<line x1="970.7" y1="1483" x2="970.7" y2="1870.5" stroke="#b8b8b8" stroke-width="1" stroke-linecap="butt" stroke-dasharray="5 3" />
<line x1="998" y1="1483" x2="998" y2="1870.5" stroke="#b8b8b8" stroke-width="1" stroke-linecap="butt" stroke-dasharray="5 3" />
<line x1="1025.3" y1="1483" x2="1025.3" y2="1870.5" stroke="#b8b8b8" stroke-width="1" stroke-linecap="butt" stroke-dasharray="5 3" />
<line x1="1052.6" y1="1483" x2="1052.6" y2="1870.5" stroke="#b8b8b8" stroke-width="1" stroke-linecap="butt" stroke-dasharray="5 3" />
<line x1="1079.9" y1="1483" x2="1079.9" y2="1870.5" stroke="#b8b8b8" stroke-width="1" stroke-linecap="butt" stroke-dasharray="5 3" />
<line x1="1107.2" y1="1483" x2="1107.2" y2="1870.5" stroke="#b8b8b8" stroke-width="1" stroke-linecap="butt" stroke-dasharray="5 3" />
<line x1="1134.5" y1="1483" x2="1134.5" y2="1870.5" stroke="#b8b8b8" stroke-width="1" stroke-linecap="butt" stroke-dasharray="5 3" />
<line x1="1161.8" y1="1483" x2="1161.8" y2="1870.5" stroke="#b8b8b8" stroke-width="1" stroke-linecap="butt" stroke-dasharray="5 3" />
<line x1="1189.1" y1="1483" x2="1189.1" y2="1870.5" stroke="#b8b8b8" stroke-width="1" stroke-linecap="butt" stroke-dasharray="5 3" />
<line x1="1216.4" y1="1483" x2="1216.4" y2="1870.5" stroke="#b8b8b8" stroke-width="1" stroke-linecap="butt" stroke-dasharray="5 3" />
<line x1="1243.7" y1="1483" x2="1243.7" y2="1870.5" stroke="#b8b8b8" stroke-width="1" stroke-linecap="butt" stroke-dasharray="5 3" />
<line x1="1271" y1="1483" x2="1271" y2="1870.5" stroke="#b8b8b8" stroke-width="1" stroke-linecap="butt" stroke-dasharray="5 3" />
<line x1="1298.4" y1="1483" x2="1298.4" y2="1870.5" stroke="#b8b8b8" stroke-width="1" stroke-linecap="butt" stroke-dasharray="5 3" />
<line x1="1325.7" y1="1483" x2="1325.7" y2="1870.5" stroke="#b8b8b8" stroke-width="1" stroke-linecap="butt" stroke-dasharray="5 3" />
<line x1="1353" y1="1483" x2="1353" y2="1870.5" stroke="#b8b8b8" stroke-width="1" stroke-linecap="butt" stroke-dasharray="5 3" />
<line x1="1380.3" y1="1483" x2="1380.3" y2="1870.5" stroke="#b8b8b8" stroke-width="1" stroke-linecap="butt" stroke-dasharray="5 3" />
<rect x="916.5" y="1481" width="514.5" height="391.5" fill="none" stroke="#444" stroke-width="2.4" />
<line x1="916.5" y1="1611.7" x2="1431" y2="1611.7" stroke="#777" stroke-width="2.4" stroke-linecap="butt" />
<line x1="916.5" y1="1742" x2="1431" y2="1742" stroke="#444" stroke-width="2.4" stroke-linecap="butt" />
<line x1="943.4" y1="1611.7" x2="943.4" y2="1605.7" stroke="#444" stroke-width="1.8" stroke-linecap="butt" />
<line x1="977.5" y1="1611.7" x2="977.5" y2="1607.7" stroke="#444" stroke-width="1.8" stroke-linecap="butt" />
<line x1="1011.7" y1="1611.7" x2="1011.7" y2="1607.7" stroke="#444" stroke-width="1.8" stroke-linecap="butt" />
<line x1="1045.8" y1="1611.7" x2="1045.8" y2="1605.7" stroke="#444" stroke-width="1.8" stroke-linecap="butt" />
<line x1="1079.9" y1="1611.7" x2="1079.9" y2="1607.7" stroke="#444" stroke-width="1.8" stroke-linecap="butt" />
<line x1="1114" y1="1611.7" x2="1114" y2="1607.7" stroke="#444" stroke-width="1.8" stroke-linecap="butt" />
<line x1="1148.2" y1="1611.7" x2="1148.2" y2="1605.7" stroke="#444" stroke-width="1.8" stroke-linecap="butt" />
<line x1="1182.3" y1="1611.7" x2="1182.3" y2="1607.7" stroke="#444" stroke-width="1.8" stroke-linecap="butt" />
<line x1="1216.4" y1="1611.7" x2="1216.4" y2="1607.7" stroke="#444" stroke-width="1.8" stroke-linecap="butt" />
<line x1="1250.6" y1="1611.7" x2="1250.6" y2="1605.7" stroke="#444" stroke-width="1.8" stroke-linecap="butt" />
<line x1="1284.7" y1="1611.7" x2="1284.7" y2="1607.7" stroke="#444" stroke-width="1.8" stroke-linecap="butt" />
<line x1="1318.8" y1="1611.7" x2="1318.8" y2="1607.7" stroke="#444" stroke-width="1.8" stroke-linecap="butt" />
<line x1="1353" y1="1611.7" x2="1353" y2="1605.7" stroke="#444" stroke-width="1.8" stroke-linecap="butt" />
<line x1="1387.1" y1="1611.7" x2="1387.1" y2="1607.7" stroke="#444" stroke-width="1.8" stroke-linecap="butt" />
<line x1="943.4" y1="1742" x2="943.4" y2="1736" stroke="#444" stroke-width="1.8" stroke-linecap="butt" />
<line x1="977.5" y1="1742" x2="977.5" y2="1738" stroke="#444" stroke-width="1.8" stroke-linecap="butt" />
<line x1="1011.7" y1="1742" x2="1011.7" y2="1738" stroke="#444" stroke-width="1.8" stroke-linecap="butt" />
<line x1="1045.8" y1="1742" x2="1045.8" y2="1736" stroke="#444" stroke-width="1.8" stroke-linecap="butt" />
<line x1="1079.9" y1="1742" x2="1079.9" y2="1738" stroke="#444" stroke-width="1.8" stroke-linecap="butt" />
<line x1="1114" y1="1742" x2="1114" y2="1738" stroke="#444" stroke-width="1.8" stroke-linecap="butt" />
<line x1="1148.2" y1="1742" x2="1148.2" y2="1736" stroke="#444" stroke-width="1.8" stroke-linecap="butt" />
<line x1="1182.3" y1="1742" x2="1182.3" y2="1738" stroke="#444" stroke-width="1.8" stroke-linecap="butt" />
<line x1="1216.4" y1="1742" x2="1216.4" y2="1738" stroke="#444" stroke-width="1.8" stroke-linecap="butt" />
<line x1="1250.6" y1="1742" x2="1250.6" y2="1736" stroke="#444" stroke-width="1.8" stroke-linecap="butt" />
<line x1="1284.7" y1="1742" x2="1284.7" y2="1738" stroke="#444" stroke-width="1.8" stroke-linecap="butt" />
<line x1="1318.8" y1="1742" x2="1318.8" y2="1738" stroke="#444" stroke-width="1.8" stroke-linecap="butt" />
<line x1="1353" y1="1742" x2="1353" y2="1736" stroke="#444" stroke-width="1.8" stroke-linecap="butt" />
<line x1="1387.1" y1="1742" x2="1387.1" y2="1738" stroke="#444" stroke-width="1.8" stroke-linecap="butt" />
<line x1="943.4" y1="1872.5" x2="943.4" y2="1866.5" stroke="#444" stroke-width="1.8" stroke-linecap="butt" />
<line x1="994.6" y1="1872.5" x2="994.6" y2="1868.5" stroke="#444" stroke-width="1.8" stroke-linecap="butt" />
<line x1="1045.8" y1="1872.5" x2="1045.8" y2="1866.5" stroke="#444" stroke-width="1.8" stroke-linecap="butt" />
<line x1="1097" y1="1872.5" x2="1097" y2="1868.5" stroke="#444" stroke-width="1.8" stroke-linecap="butt" />
<line x1="1148.2" y1="1872.5" x2="1148.2" y2="1866.5" stroke="#444" stroke-width="1.8" stroke-linecap="butt" />
<line x1="1199.4" y1="1872.5" x2="1199.4" y2="1868.5" stroke="#444" stroke-width="1.8" stroke-linecap="butt" />
<line x1="1250.6" y1="1872.5" x2="1250.6" y2="1866.5" stroke="#444" stroke-width="1.8" stroke-linecap="butt" />
<line x1="1301.8" y1="1872.5" x2="1301.8" y2="1868.5" stroke="#444" stroke-width="1.8" stroke-linecap="butt" />
<line x1="1353" y1="1872.5" x2="1353" y2="1866.5" stroke="#444" stroke-width="1.8" stroke-linecap="butt" />
<line x1="1404.2" y1="1872.5" x2="1404.2" y2="1868.5" stroke="#444" stroke-width="1.8" stroke-linecap="butt" />
<line x1="916.5" y1="1605.6" x2="922.5" y2="1605.6" stroke="#444" stroke-width="1.8" stroke-linecap="butt" />
<line x1="916.5" y1="1578" x2="920.5" y2="1578" stroke="#444" stroke-width="1.8" stroke-linecap="butt" />
<line x1="916.5" y1="1550.4" x2="922.5" y2="1550.4" stroke="#444" stroke-width="1.8" stroke-linecap="butt" />
<line x1="916.5" y1="1522.8" x2="920.5" y2="1522.8" stroke="#444" stroke-width="1.8" stroke-linecap="butt" />
<line x1="916.5" y1="1495.2" x2="922.5" y2="1495.2" stroke="#444" stroke-width="1.8" stroke-linecap="butt" />
<line x1="916.5" y1="1742.3" x2="922.5" y2="1742.3" stroke="#444" stroke-width="1.8" stroke-linecap="butt" />
<line x1="916.5" y1="1718.3" x2="920.5" y2="1718.3" stroke="#444" stroke-width="1.8" stroke-linecap="butt" />
<line x1="916.5" y1="1694.4" x2="922.5" y2="1694.4" stroke="#444" stroke-width="1.8" stroke-linecap="butt" />
<line x1="916.5" y1="1670.5" x2="920.5" y2="1670.5" stroke="#444" stroke-width="1.8" stroke-linecap="butt" />
<line x1="916.5" y1="1646.5" x2="922.5" y2="1646.5" stroke="#444" stroke-width="1.8" stroke-linecap="butt" />
<line x1="916.5" y1="1622.5" x2="920.5" y2="1622.5" stroke="#444" stroke-width="1.8" stroke-linecap="butt" />
<line x1="916.5" y1="1861.9" x2="922.5" y2="1861.9" stroke="#444" stroke-width="1.8" stroke-linecap="butt" />
<line x1="916.5" y1="1840.3" x2="920.5" y2="1840.3" stroke="#444" stroke-width="1.8" stroke-linecap="butt" />
<line x1="916.5" y1="1818.6" x2="922.5" y2="1818.6" stroke="#444" stroke-width="1.8" stroke-linecap="butt" />
<line x1="916.5" y1="1797" x2="920.5" y2="1797" stroke="#444" stroke-width="1.8" stroke-linecap="butt" />
<line x1="916.5" y1="1775.3" x2="922.5" y2="1775.3" stroke="#444" stroke-width="1.8" stroke-linecap="butt" />
<line x1="916.5" y1="1753.7" x2="920.5" y2="1753.7" stroke="#444" stroke-width="1.8" stroke-linecap="butt" />
<text x="908.5" y="1615.6" font-size="30" font-weight="bold" font-style="normal" fill="#1a1a1a" text-anchor="end" textLength="13.5" lengthAdjust="spacingAndGlyphs" >0</text>
<text x="908.5" y="1560.4" font-size="30" font-weight="bold" font-style="normal" fill="#1a1a1a" text-anchor="end" textLength="13.5" lengthAdjust="spacingAndGlyphs" >2</text>
<text x="908.5" y="1505.2" font-size="30" font-weight="bold" font-style="normal" fill="#1a1a1a" text-anchor="end" textLength="13.5" lengthAdjust="spacingAndGlyphs" >4</text>
<text x="908.5" y="1752.3" font-size="30" font-weight="bold" font-style="normal" fill="#1a1a1a" text-anchor="end" textLength="13.5" lengthAdjust="spacingAndGlyphs" >0</text>
<text x="908.5" y="1704.4" font-size="30" font-weight="bold" font-style="normal" fill="#1a1a1a" text-anchor="end" textLength="13.5" lengthAdjust="spacingAndGlyphs" >2</text>
<text x="908.5" y="1656.5" font-size="30" font-weight="bold" font-style="normal" fill="#1a1a1a" text-anchor="end" textLength="13.5" lengthAdjust="spacingAndGlyphs" >4</text>
<text x="908.5" y="1871.9" font-size="30" font-weight="bold" font-style="normal" fill="#1a1a1a" text-anchor="end" textLength="13.5" lengthAdjust="spacingAndGlyphs" >0</text>
<text x="908.5" y="1828.6" font-size="30" font-weight="bold" font-style="normal" fill="#1a1a1a" text-anchor="end" textLength="13.5" lengthAdjust="spacingAndGlyphs" >8</text>
<text x="908.5" y="1785.3" font-size="30" font-weight="bold" font-style="normal" fill="#1a1a1a" text-anchor="end" textLength="27" lengthAdjust="spacingAndGlyphs" >16</text>
<text x="943.4" y="1903" font-size="29" font-weight="bold" font-style="normal" fill="#1a1a1a" text-anchor="middle" >0</text>
<text x="1045.8" y="1903" font-size="29" font-weight="bold" font-style="normal" fill="#1a1a1a" text-anchor="middle" >30</text>
<text x="1148.2" y="1903" font-size="29" font-weight="bold" font-style="normal" fill="#1a1a1a" text-anchor="middle" >60</text>
<text x="1250.6" y="1903" font-size="29" font-weight="bold" font-style="normal" fill="#1a1a1a" text-anchor="middle" >90</text>
<text x="1353" y="1903" font-size="29" font-weight="bold" font-style="normal" fill="#1a1a1a" text-anchor="middle" >120</text>
<text x="1173.5" y="1936.5" font-size="33" font-weight="bold" font-style="normal" fill="#1a1a1a" text-anchor="middle" textLength="114" lengthAdjust="spacingAndGlyphs" >Time (s)</text>
<polyline points="942.7,1494.7 969.7,1497.9 969.7,1516.3 973,1521 980.8,1525.8 996.7,1529.6 996.7,1509.3 1023.7,1506.1 1024.6,1533.7 1028,1539 1034.8,1543.3 1052.2,1548 1052.2,1516.9 1079.2,1513.7 1079.2,1543.3 1083,1548.5 1088.7,1552.8 1106.2,1556.9 1107.8,1523.3 1133.2,1521 1134.8,1551.2 1139,1556.5 1145.9,1560.7 1161.7,1564.5 1163.3,1531.5 1188.7,1528.3 1190.3,1559.1 1194,1565.5 1199.8,1570.2 1217.3,1574 1218.9,1549.6 1223,1546 1230,1544.2 1244.3,1543.3 1244.9,1568.7 1248,1573.5 1253.8,1577.2 1271.3,1580.4 1272.2,1551.2 1298.3,1551.2 1299.8,1573.4 1303,1578.5 1307.8,1582.3 1325.2,1589.9 1326.8,1576.6 1330,1571 1336.3,1567.7 1352.2,1563.9 1353.2,1582.9 1357,1586 1361.8,1587.7 1379.2,1589.9 1380.8,1582.9 1388.7,1579.8 1398.3,1577.2" fill="none" stroke="#7b7b7b" stroke-width="4.2" stroke-linejoin="round" stroke-linecap="round" />
<polyline points="941.8,1729.8 970.5,1729.8 970.5,1727.5 980.6,1725.5 997.5,1724.1 997.5,1728.2 1024.4,1728.8 1026.1,1720.7 1037.9,1718.7 1052.1,1718 1052.1,1727.5 1080.1,1728.2 1081.1,1718.7 1091.9,1715.7 1107.1,1714 1107.1,1725.5 1134,1726.5 1135.1,1716.4 1145.9,1711.3 1162,1709.6 1162,1724.1 1189,1724.8 1190.4,1711.3 1199.8,1704.6 1216.7,1699.5 1217.4,1716.4 1226.8,1718.7 1243.7,1719.7 1244.3,1707.9 1253.8,1696.1 1270,1688.4 1270.6,1716.4 1297.6,1717.4 1298.3,1697.8 1303,1688 1307.7,1682.6 1316.2,1676.9 1323.9,1659 1324.6,1677.6 1329.7,1697.8 1338.1,1706.2 1351.6,1709.6 1352.3,1687.7 1360,1672.5 1370,1665 1378.6,1660.7 1380.2,1680.9 1387,1689.4 1397.1,1695.1" fill="none" stroke="#f08a28" stroke-width="4.2" stroke-linejoin="round" stroke-linecap="round" />
<polyline points="943.4,1861.9 970.7,1861.9 970.7,1834.9 998,1834.9 998,1861.9 1025.3,1861.9 1025.3,1818.6 1052.6,1818.6 1052.6,1861.9 1079.9,1861.9 1079.9,1807.8 1107.2,1807.8 1107.2,1861.9 1134.5,1861.9 1134.5,1797 1161.8,1797 1161.8,1861.9 1189.1,1861.9 1189.1,1786.2 1216.4,1786.2 1216.4,1861.9 1243.7,1861.9 1243.7,1775.3 1271,1775.3 1271,1861.9 1298.4,1861.9 1298.4,1764.5 1325.7,1764.5 1325.7,1861.9 1353,1861.9 1353,1753.7 1380.3,1753.7 1380.3,1861.9 1399,1861.9" fill="none" stroke="#3a48b0" stroke-width="4.4" stroke-linejoin="miter" stroke-linecap="butt" />
<g transform="translate(868.4 1592.7) rotate(-90)">
<text x="0" y="0" font-size="34" font-weight="bold" font-style="italic" fill="#1a1a1a" text-anchor="start" textLength="23.8" lengthAdjust="spacingAndGlyphs" >R</text>
<text x="33" y="0" font-size="34" font-weight="bold" font-style="normal" fill="#1a1a1a" text-anchor="start" textLength="78.7" lengthAdjust="spacingAndGlyphs" >(MΩ)</text>
</g>
<g transform="translate(869 1725.6) rotate(-90)">
<text x="0" y="0" font-size="34" font-weight="bold" font-style="italic" fill="#1a1a1a" text-anchor="start" textLength="15" lengthAdjust="spacingAndGlyphs" >I</text>
<text x="16.5" y="13.9" font-size="19" font-weight="bold" font-style="normal" fill="#1a1a1a" text-anchor="start" textLength="23" lengthAdjust="spacingAndGlyphs" >DS</text>
<text x="50.2" y="0" font-size="34" font-weight="bold" font-style="normal" fill="#1a1a1a" text-anchor="start" textLength="63.2" lengthAdjust="spacingAndGlyphs" >(µA)</text>
</g>
<g transform="translate(869 1841.6) rotate(-90)">
<text x="0" y="0" font-size="34" font-weight="bold" font-style="italic" fill="#1a1a1a" text-anchor="start" textLength="21.9" lengthAdjust="spacingAndGlyphs" >V</text>
<text x="20" y="13.9" font-size="19" font-weight="bold" font-style="normal" fill="#1a1a1a" text-anchor="start" textLength="13" lengthAdjust="spacingAndGlyphs" >G</text>
<text x="43.7" y="0" font-size="34" font-weight="bold" font-style="normal" fill="#1a1a1a" text-anchor="start" textLength="44.3" lengthAdjust="spacingAndGlyphs" >(V)</text>
</g>
<text x="752.8" y="1484.5" font-size="56" font-weight="normal" font-style="normal" fill="#1a1a1a" text-anchor="start" textLength="59" lengthAdjust="spacingAndGlyphs" >(f)</text>
</svg>
</body></html>
